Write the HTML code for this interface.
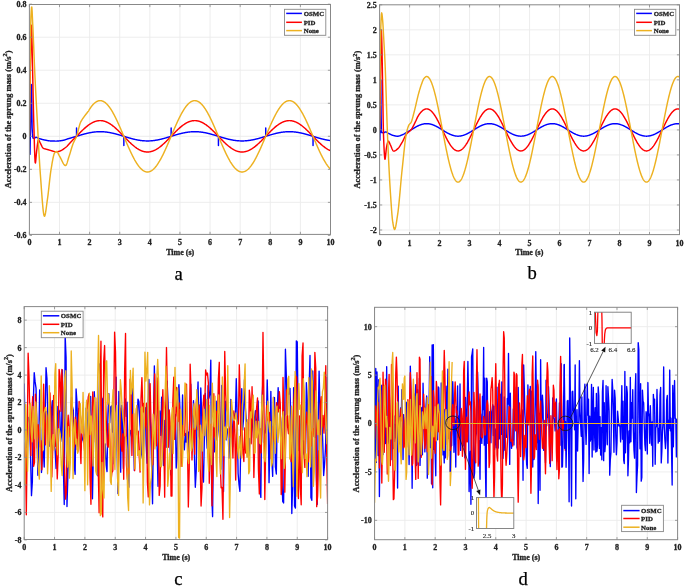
<!DOCTYPE html>
<html><head><meta charset="utf-8"><title>Acceleration of the sprung mass</title>
<style>
html,body{margin:0;padding:0;background:#fff;}
svg{display:block;filter:blur(0.3px);}
.tk{font-family:"Liberation Serif",serif;font-weight:bold;font-size:8px;fill:#222222;stroke:#222;stroke-width:0.3px;}
.yl{font-family:"Liberation Serif",serif;font-weight:bold;font-size:8.4px;fill:#222222;stroke:#222;stroke-width:0.3px;}
.lg{font-family:"Liberation Serif",serif;font-weight:bold;fill:#222222;stroke:#222;stroke-width:0.28px;}
.lt{font-family:"Liberation Serif",serif;font-size:18.6px;fill:#000;stroke:#000;stroke-width:0.25px;}
.it{font-family:"Liberation Serif",serif;font-size:6.9px;fill:#222;stroke:#222;stroke-width:0.12px;}
</style></head><body>
<svg width="685" height="587" viewBox="0 0 685 587">
<rect width="685" height="587" fill="#fff"/>
<defs>
<clipPath id="ca"><rect x="29.4" y="4.5" width="301.1" height="229.9"/></clipPath>
<clipPath id="cb"><rect x="379.6" y="4.8" width="299.9" height="229.8"/></clipPath>
<clipPath id="cc"><rect x="24.2" y="306.6" width="303.4" height="232.9"/></clipPath>
<clipPath id="cd"><rect x="374.55" y="307.3" width="303.05" height="232.4"/></clipPath>
</defs>
<path d="M59.51,4.5V234.4M89.62,4.5V234.4M119.73,4.5V234.4M149.84,4.5V234.4M179.95,4.5V234.4M210.06,4.5V234.4M240.17,4.5V234.4M270.28,4.5V234.4M300.39,4.5V234.4M29.4,37.23H330.5M29.4,70.26H330.5M29.4,103.29H330.5M29.4,136.31H330.5M29.4,169.34H330.5M29.4,202.37H330.5" stroke="#ebebeb" stroke-width="0.9" fill="none"/>
<path d="M29.4,136.31L29.7,153.38L30,154.26L30.3,136.31L30.6,118.11L30.91,98.54L31.21,84.59L31.51,84.92L31.81,108.69L32.11,128.06L32.41,133.16L32.71,136.61L33.01,137.97L33.31,138.11L33.62,138.22L33.92,138.28L34.22,138.3L34.52,138.22L34.82,138.04L35.12,137.8L35.42,137.56L35.72,137.38L36.02,137.31L36.33,137.34L36.63,137.42L36.93,137.55L37.23,137.7L37.53,137.86L37.83,138.03L38.13,138.18L38.43,138.3L38.73,138.4L39.04,138.5L39.34,138.59L39.64,138.69L39.94,138.78L40.24,138.87L40.54,138.96L40.84,139.05L41.14,139.14L41.44,139.22L41.75,139.3L42.05,139.38L42.35,139.46L42.65,139.54L42.95,139.61L43.25,139.68L43.55,139.75L43.85,139.82L44.15,139.88L44.45,139.95L44.76,140.01L45.06,140.07L45.36,140.14L45.66,140.2L45.96,140.26L46.26,140.32L46.56,140.39L46.86,140.45L47.16,140.5L47.47,140.56L47.77,140.61L48.07,140.66L48.37,140.71L48.67,140.76L48.97,140.8L49.27,140.84L49.57,140.87L49.87,140.9L50.18,140.92L50.48,140.94L50.78,140.95L51.08,140.97L51.38,140.98L51.68,141L51.98,141.01L52.28,141.02L52.58,141.03L52.89,141.04L53.19,141.06L53.49,141.06L53.79,141.07L54.09,141.08L54.39,141.09L54.69,141.09L54.99,141.1L55.29,141.1L55.6,141.1L55.9,141.1L56.2,141.1L56.5,141.1L56.8,141.09L57.1,141.07L57.4,141.06L57.7,141.04L58,141.01L58.31,140.99L58.61,140.96L58.91,140.93L59.21,140.9L59.51,140.86L59.81,140.83L60.11,140.79L60.41,140.75L60.71,140.71L61.02,140.67L61.32,140.62L61.62,140.58L61.92,140.53L62.22,140.49L62.52,140.44L62.82,140.39L63.12,140.33L63.42,140.27L63.73,140.19L64.03,140.11L64.33,140.03L64.63,139.94L64.93,139.84L65.23,139.74L65.53,139.64L65.83,139.54L66.13,139.43L66.44,139.33L66.74,139.22L67.04,139.12L67.34,139.01L67.64,138.91L67.94,138.81L68.24,138.72L68.54,138.63L68.84,138.54L69.15,138.45L69.45,138.36L69.75,138.27L70.05,138.19L70.35,138.1L70.65,138.01L70.95,137.93L71.25,137.84L71.55,137.75L71.86,137.67L72.16,137.58L72.46,137.49L72.76,137.41L73.06,137.32L73.36,137.24L73.66,137.15L73.96,137.06L74.26,136.98L74.56,136.89L74.87,136.8L75.17,136.71L75.47,136.63L75.77,136.54L76.07,136.45L76.37,136.36L76.52,136.31L76.55,128.06L76.58,136.31L76.67,136.27L76.97,136.18L77.27,136.09L77.58,135.99L77.88,135.9L78.18,135.81L78.48,135.72L78.78,135.62L79.08,135.53L79.38,135.44L79.68,135.35L79.98,135.25L80.29,135.16L80.59,135.08L80.89,134.99L81.19,134.9L81.49,134.81L81.79,134.73L82.09,134.64L82.39,134.55L82.69,134.47L83,134.38L83.3,134.3L83.6,134.22L83.9,134.14L84.2,134.06L84.5,133.98L84.8,133.9L85.1,133.82L85.4,133.74L85.71,133.67L86.01,133.59L86.31,133.51L86.61,133.44L86.91,133.37L87.21,133.3L87.51,133.23L87.81,133.16L88.11,133.1L88.42,133.03L88.72,132.97L89.02,132.9L89.32,132.84L89.62,132.78L89.92,132.72L90.22,132.66L90.52,132.61L90.82,132.55L91.13,132.5L91.43,132.45L91.73,132.4L92.03,132.35L92.33,132.3L92.63,132.26L92.93,132.21L93.23,132.17L93.53,132.13L93.84,132.09L94.14,132.06L94.44,132.02L94.74,131.99L95.04,131.96L95.34,131.93L95.64,131.9L95.94,131.87L96.24,131.85L96.55,131.82L96.85,131.8L97.15,131.78L97.45,131.77L97.75,131.75L98.05,131.74L98.35,131.72L98.65,131.71L98.95,131.71L99.26,131.7L99.56,131.69L99.86,131.69L100.16,131.69L100.46,131.69L100.76,131.69L101.06,131.7L101.36,131.7L101.66,131.71L101.97,131.72L102.27,131.74L102.57,131.75L102.87,131.76L103.17,131.78L103.47,131.8L103.77,131.82L104.07,131.84L104.37,131.87L104.68,131.9L104.98,131.92L105.28,131.95L105.58,131.99L105.88,132.02L106.18,132.05L106.48,132.09L106.78,132.13L107.08,132.17L107.38,132.21L107.69,132.25L107.99,132.3L108.29,132.35L108.59,132.39L108.89,132.44L109.19,132.5L109.49,132.55L109.79,132.6L110.09,132.66L110.4,132.72L110.7,132.78L111,132.84L111.3,132.9L111.6,132.96L111.9,133.02L112.2,133.09L112.5,133.16L112.8,133.23L113.11,133.29L113.41,133.37L113.71,133.44L114.01,133.51L114.31,133.58L114.61,133.66L114.91,133.74L115.21,133.81L115.51,133.89L115.82,133.97L116.12,134.05L116.42,134.13L116.72,134.21L117.02,134.3L117.32,134.38L117.62,134.46L117.92,134.55L118.22,134.64L118.53,134.72L118.83,134.81L119.13,134.9L119.43,134.98L119.73,135.07L120.03,135.16L120.33,135.25L120.63,135.34L120.93,135.43L121.24,135.52L121.54,135.62L121.84,135.71L122.14,135.8L122.44,135.89L122.74,135.98L123.04,136.08L123.34,136.17L123.64,136.26L123.82,136.31L123.85,145.56L123.88,136.31L123.95,136.35L124.25,136.45L124.55,136.54L124.85,136.63L125.15,136.72L125.45,136.81L125.75,136.91L126.05,137L126.35,137.09L126.66,137.18L126.96,137.27L127.26,137.36L127.56,137.45L127.86,137.54L128.16,137.63L128.46,137.72L128.76,137.81L129.06,137.89L129.37,137.98L129.67,138.07L129.97,138.15L130.27,138.24L130.57,138.32L130.87,138.4L131.17,138.48L131.47,138.57L131.77,138.65L132.08,138.72L132.38,138.8L132.68,138.88L132.98,138.96L133.28,139.03L133.58,139.11L133.88,139.18L134.18,139.25L134.48,139.32L134.78,139.39L135.09,139.46L135.39,139.53L135.69,139.59L135.99,139.66L136.29,139.72L136.59,139.78L136.89,139.84L137.19,139.9L137.49,139.96L137.8,140.02L138.1,140.07L138.4,140.12L138.7,140.18L139,140.23L139.3,140.27L139.6,140.32L139.9,140.37L140.2,140.41L140.51,140.45L140.81,140.49L141.11,140.53L141.41,140.57L141.71,140.6L142.01,140.64L142.31,140.67L142.61,140.7L142.91,140.73L143.22,140.76L143.52,140.78L143.82,140.8L144.12,140.82L144.42,140.84L144.72,140.86L145.02,140.88L145.32,140.89L145.62,140.9L145.93,140.91L146.23,140.92L146.53,140.93L146.83,140.93L147.13,140.94L147.43,140.94L147.73,140.94L148.03,140.94L148.33,140.93L148.64,140.92L148.94,140.92L149.24,140.91L149.54,140.89L149.84,140.88L150.14,140.87L150.44,140.85L150.74,140.83L151.04,140.81L151.35,140.79L151.65,140.76L151.95,140.74L152.25,140.71L152.55,140.68L152.85,140.65L153.15,140.61L153.45,140.58L153.75,140.54L154.06,140.5L154.36,140.46L154.66,140.42L154.96,140.38L155.26,140.33L155.56,140.29L155.86,140.24L156.16,140.19L156.46,140.14L156.77,140.08L157.07,140.03L157.37,139.97L157.67,139.92L157.97,139.86L158.27,139.8L158.57,139.74L158.87,139.67L159.17,139.61L159.48,139.54L159.78,139.48L160.08,139.41L160.38,139.34L160.68,139.27L160.98,139.2L161.28,139.12L161.58,139.05L161.88,138.98L162.19,138.9L162.49,138.82L162.79,138.74L163.09,138.66L163.39,138.58L163.69,138.5L163.99,138.42L164.29,138.34L164.59,138.26L164.9,138.17L165.2,138.09L165.5,138L165.8,137.91L166.1,137.83L166.4,137.74L166.7,137.65L167,137.56L167.3,137.47L167.6,137.38L167.91,137.29L168.21,137.2L168.51,137.11L168.81,137.02L169.11,136.93L169.41,136.84L169.71,136.74L170.01,136.65L170.31,136.56L170.62,136.47L170.92,136.38L171.12,136.31L171.15,128.06L171.18,136.31L171.22,136.28L171.52,136.19L171.82,136.1L172.12,136.01L172.42,135.91L172.72,135.82L173.02,135.73L173.33,135.64L173.63,135.55L173.93,135.46L174.23,135.36L174.53,135.27L174.83,135.18L175.13,135.1L175.43,135.01L175.73,134.92L176.04,134.83L176.34,134.74L176.64,134.66L176.94,134.57L177.24,134.48L177.54,134.4L177.84,134.32L178.14,134.23L178.44,134.15L178.75,134.07L179.05,133.99L179.35,133.91L179.65,133.83L179.95,133.75L180.25,133.68L180.55,133.6L180.85,133.53L181.15,133.45L181.46,133.38L181.76,133.31L182.06,133.24L182.36,133.17L182.66,133.11L182.96,133.04L183.26,132.98L183.56,132.91L183.86,132.85L184.17,132.79L184.47,132.73L184.77,132.67L185.07,132.62L185.37,132.56L185.67,132.51L185.97,132.46L186.27,132.41L186.57,132.36L186.88,132.31L187.18,132.27L187.48,132.22L187.78,132.18L188.08,132.14L188.38,132.1L188.68,132.06L188.98,132.03L189.28,131.99L189.59,131.96L189.89,131.93L190.19,131.9L190.49,131.88L190.79,131.85L191.09,131.83L191.39,131.81L191.69,131.79L191.99,131.77L192.3,131.75L192.6,131.74L192.9,131.73L193.2,131.72L193.5,131.71L193.8,131.7L194.1,131.69L194.4,131.69L194.7,131.69L195.01,131.69L195.31,131.69L195.61,131.7L195.91,131.7L196.21,131.71L196.51,131.72L196.81,131.73L197.11,131.75L197.41,131.76L197.71,131.78L198.02,131.8L198.32,131.82L198.62,131.84L198.92,131.87L199.22,131.89L199.52,131.92L199.82,131.95L200.12,131.98L200.42,132.01L200.73,132.05L201.03,132.08L201.33,132.12L201.63,132.16L201.93,132.2L202.23,132.25L202.53,132.29L202.83,132.34L203.13,132.39L203.44,132.44L203.74,132.49L204.04,132.54L204.34,132.59L204.64,132.65L204.94,132.71L205.24,132.77L205.54,132.83L205.84,132.89L206.15,132.95L206.45,133.01L206.75,133.08L207.05,133.15L207.35,133.21L207.65,133.28L207.95,133.35L208.25,133.43L208.55,133.5L208.86,133.57L209.16,133.65L209.46,133.72L209.76,133.8L210.06,133.88L210.36,133.96L210.66,134.04L210.96,134.12L211.26,134.2L211.57,134.28L211.87,134.37L212.17,134.45L212.47,134.54L212.77,134.62L213.07,134.71L213.37,134.8L213.67,134.88L213.97,134.97L214.28,135.06L214.58,135.15L214.88,135.24L215.18,135.33L215.48,135.42L215.78,135.51L216.08,135.6L216.38,135.69L216.68,135.78L216.99,135.88L217.29,135.97L217.59,136.06L217.89,136.15L218.19,136.25L218.41,136.31L218.44,145.56L218.47,136.31L218.49,136.34L218.79,136.43L219.09,136.52L219.39,136.62L219.7,136.71L220,136.8L220.3,136.89L220.6,136.98L220.9,137.07L221.2,137.17L221.5,137.26L221.8,137.35L222.1,137.44L222.41,137.53L222.71,137.62L223.01,137.7L223.31,137.79L223.61,137.88L223.91,137.97L224.21,138.05L224.51,138.14L224.81,138.22L225.12,138.31L225.42,138.39L225.72,138.47L226.02,138.55L226.32,138.63L226.62,138.71L226.92,138.79L227.22,138.87L227.52,138.95L227.82,139.02L228.13,139.1L228.43,139.17L228.73,139.24L229.03,139.31L229.33,139.38L229.63,139.45L229.93,139.52L230.23,139.58L230.53,139.65L230.84,139.71L231.14,139.77L231.44,139.83L231.74,139.89L232.04,139.95L232.34,140.01L232.64,140.06L232.94,140.12L233.24,140.17L233.55,140.22L233.85,140.27L234.15,140.31L234.45,140.36L234.75,140.4L235.05,140.45L235.35,140.49L235.65,140.53L235.95,140.56L236.26,140.6L236.56,140.63L236.86,140.66L237.16,140.7L237.46,140.72L237.76,140.75L238.06,140.78L238.36,140.8L238.66,140.82L238.97,140.84L239.27,140.86L239.57,140.88L239.87,140.89L240.17,140.9L240.47,140.91L240.77,140.92L241.07,140.93L241.37,140.93L241.68,140.94L241.98,140.94L242.28,140.94L242.58,140.94L242.88,140.93L243.18,140.93L243.48,140.92L243.78,140.91L244.08,140.9L244.39,140.88L244.69,140.87L244.99,140.85L245.29,140.83L245.59,140.81L245.89,140.79L246.19,140.77L246.49,140.74L246.79,140.71L247.1,140.68L247.4,140.65L247.7,140.62L248,140.58L248.3,140.55L248.6,140.51L248.9,140.47L249.2,140.43L249.5,140.38L249.81,140.34L250.11,140.29L250.41,140.25L250.71,140.2L251.01,140.15L251.31,140.09L251.61,140.04L251.91,139.98L252.21,139.93L252.52,139.87L252.82,139.81L253.12,139.75L253.42,139.68L253.72,139.62L254.02,139.55L254.32,139.49L254.62,139.42L254.92,139.35L255.23,139.28L255.53,139.21L255.83,139.14L256.13,139.06L256.43,138.99L256.73,138.91L257.03,138.83L257.33,138.76L257.63,138.68L257.93,138.6L258.24,138.52L258.54,138.43L258.84,138.35L259.14,138.27L259.44,138.18L259.74,138.1L260.04,138.01L260.34,137.93L260.64,137.84L260.95,137.75L261.25,137.66L261.55,137.58L261.85,137.49L262.15,137.4L262.45,137.31L262.75,137.22L263.05,137.13L263.35,137.03L263.66,136.94L263.96,136.85L264.26,136.76L264.56,136.67L264.86,136.57L265.16,136.48L265.46,136.39L265.71,136.31L265.74,128.06L265.77,136.31L265.76,136.3L266.06,136.21L266.37,136.11L266.67,136.02L266.97,135.93L267.27,135.84L267.57,135.74L267.87,135.65L268.17,135.56L268.47,135.47L268.77,135.38L269.08,135.29L269.38,135.2L269.68,135.11L269.98,135.02L270.28,134.93L270.58,134.84L270.88,134.76L271.18,134.67L271.48,134.58L271.79,134.5L272.09,134.41L272.39,134.33L272.69,134.25L272.99,134.16L273.29,134.08L273.59,134L273.89,133.92L274.19,133.84L274.5,133.77L274.8,133.69L275.1,133.61L275.4,133.54L275.7,133.47L276,133.39L276.3,133.32L276.6,133.25L276.9,133.18L277.21,133.12L277.51,133.05L277.81,132.99L278.11,132.92L278.41,132.86L278.71,132.8L279.01,132.74L279.31,132.68L279.61,132.63L279.92,132.57L280.22,132.52L280.52,132.46L280.82,132.41L281.12,132.37L281.42,132.32L281.72,132.27L282.02,132.23L282.32,132.19L282.63,132.14L282.93,132.11L283.23,132.07L283.53,132.03L283.83,132L284.13,131.97L284.43,131.94L284.73,131.91L285.03,131.88L285.33,131.85L285.64,131.83L285.94,131.81L286.24,131.79L286.54,131.77L286.84,131.75L287.14,131.74L287.44,131.73L287.74,131.72L288.04,131.71L288.35,131.7L288.65,131.7L288.95,131.69L289.25,131.69L289.55,131.69L289.85,131.69L290.15,131.7L290.45,131.7L290.75,131.71L291.06,131.72L291.36,131.73L291.66,131.74L291.96,131.76L292.26,131.78L292.56,131.79L292.86,131.82L293.16,131.84L293.46,131.86L293.77,131.89L294.07,131.91L294.37,131.94L294.67,131.98L294.97,132.01L295.27,132.04L295.57,132.08L295.87,132.12L296.17,132.16L296.48,132.2L296.78,132.24L297.08,132.29L297.38,132.33L297.68,132.38L297.98,132.43L298.28,132.48L298.58,132.53L298.88,132.59L299.19,132.64L299.49,132.7L299.79,132.76L300.09,132.82L300.39,132.88L300.69,132.94L300.99,133L301.29,133.07L301.59,133.14L301.9,133.2L302.2,133.27L302.5,133.34L302.8,133.41L303.1,133.49L303.4,133.56L303.7,133.64L304,133.71L304.3,133.79L304.61,133.87L304.91,133.95L305.21,134.02L305.51,134.11L305.81,134.19L306.11,134.27L306.41,134.35L306.71,134.44L307.01,134.52L307.32,134.61L307.62,134.69L307.92,134.78L308.22,134.87L308.52,134.96L308.82,135.05L309.12,135.13L309.42,135.22L309.72,135.31L310.03,135.4L310.33,135.5L310.63,135.59L310.93,135.68L311.23,135.77L311.53,135.86L311.83,135.95L312.13,136.05L312.43,136.14L312.74,136.23L313.01,136.31L313.04,145.56L313.07,136.31L313.04,136.32L313.34,136.42L313.64,136.51L313.94,136.6L314.24,136.69L314.54,136.79L314.84,136.88L315.14,136.97L315.44,137.06L315.75,137.15L316.05,137.24L316.35,137.33L316.65,137.42L316.95,137.51L317.25,137.6L317.55,137.69L317.85,137.78L318.15,137.87L318.46,137.95L318.76,138.04L319.06,138.12L319.36,138.21L319.66,138.29L319.96,138.38L320.26,138.46L320.56,138.54L320.86,138.62L321.17,138.7L321.47,138.78L321.77,138.86L322.07,138.93L322.37,139.01L322.67,139.08L322.97,139.16L323.27,139.23L323.57,139.3L323.88,139.37L324.18,139.44L324.48,139.51L324.78,139.57L325.08,139.64L325.38,139.7L325.68,139.76L325.98,139.82L326.28,139.88L326.59,139.94L326.89,140L327.19,140.05L327.49,140.11L327.79,140.16L328.09,140.21L328.39,140.26L328.69,140.31L328.99,140.35L329.3,140.4L329.6,140.44L329.9,140.48L330.2,140.52L330.5,140.56" stroke="#0000ff" stroke-width="1.45" fill="none" stroke-linejoin="round" clip-path="url(#ca)"/>
<path d="M29.4,136.31L29.7,110.7L30,88.18L30.3,70.26L30.6,54.74L30.91,40.24L31.21,29.52L31.51,25.34L31.81,32.03L32.11,46.87L32.41,62L32.71,75.43L33.01,89.73L33.31,103.93L33.62,117.04L33.92,128.06L34.22,138.23L34.52,148.39L34.82,156.93L35.12,162.25L35.42,163.03L35.72,161.03L36.02,157.72L36.33,154.1L36.63,151.18L36.93,148.79L37.23,146.27L37.53,143.88L37.83,141.86L38.13,140.47L38.43,139.95L38.73,140.1L39.04,140.49L39.34,141.05L39.64,141.7L39.94,142.35L40.24,142.92L40.54,143.47L40.84,144.07L41.14,144.71L41.44,145.35L41.75,145.99L42.05,146.59L42.35,147.14L42.65,147.6L42.95,147.97L43.25,148.2L43.55,148.36L43.85,148.5L44.15,148.62L44.45,148.73L44.76,148.83L45.06,148.92L45.36,149L45.66,149.07L45.96,149.14L46.26,149.21L46.56,149.29L46.86,149.36L47.16,149.44L47.47,149.53L47.77,149.62L48.07,149.71L48.37,149.8L48.67,149.89L48.97,149.98L49.27,150.07L49.57,150.16L49.87,150.25L50.18,150.34L50.48,150.42L50.78,150.51L51.08,150.6L51.38,150.68L51.68,150.76L51.98,150.85L52.28,150.93L52.58,151.03L52.89,151.13L53.19,151.23L53.49,151.33L53.79,151.43L54.09,151.52L54.39,151.61L54.69,151.68L54.99,151.75L55.29,151.8L55.6,151.83L55.9,151.84L56.2,151.83L56.5,151.81L56.8,151.78L57.1,151.74L57.4,151.69L57.7,151.63L58,151.56L58.31,151.49L58.61,151.42L58.91,151.34L59.21,151.26L59.51,151.18L59.81,151.09L60.11,150.99L60.41,150.87L60.71,150.74L61.02,150.6L61.32,150.44L61.62,150.28L61.92,150.11L62.22,149.92L62.52,149.73L62.82,149.54L63.12,149.33L63.42,149.12L63.73,148.9L64.03,148.68L64.33,148.46L64.63,148.23L64.93,148L65.23,147.77L65.53,147.54L65.83,147.31L66.13,147.05L66.44,146.78L66.74,146.5L67.04,146.2L67.34,145.9L67.64,145.58L67.94,145.26L68.24,144.93L68.54,144.6L68.84,144.26L69.15,143.92L69.45,143.58L69.75,143.24L70.05,142.9L70.35,142.56L70.65,142.23L70.95,141.9L71.25,141.58L71.55,141.27L71.86,140.96L72.16,140.66L72.46,140.36L72.76,140.06L73.06,139.76L73.36,139.46L73.66,139.16L73.96,138.86L74.26,138.57L74.56,138.27L74.87,137.97L75.17,137.67L75.47,137.37L75.77,137.07L76.07,136.77L76.37,136.47L76.67,136.16L76.97,135.85L77.27,135.54L77.58,135.23L77.88,134.91L78.18,134.6L78.48,134.28L78.78,133.97L79.08,133.66L79.38,133.34L79.68,133.03L79.98,132.73L80.29,132.42L80.59,132.12L80.89,131.82L81.19,131.52L81.49,131.23L81.79,130.93L82.09,130.64L82.39,130.34L82.69,130.05L83,129.77L83.3,129.48L83.6,129.2L83.9,128.93L84.2,128.66L84.5,128.39L84.8,128.12L85.1,127.85L85.4,127.59L85.71,127.33L86.01,127.07L86.31,126.82L86.61,126.57L86.91,126.32L87.21,126.08L87.51,125.85L87.81,125.62L88.11,125.39L88.42,125.17L88.72,124.95L89.02,124.74L89.32,124.53L89.62,124.32L89.92,124.12L90.22,123.93L90.52,123.74L90.82,123.55L91.13,123.37L91.43,123.2L91.73,123.03L92.03,122.86L92.33,122.71L92.63,122.55L92.93,122.4L93.23,122.26L93.53,122.13L93.84,121.99L94.14,121.87L94.44,121.75L94.74,121.64L95.04,121.53L95.34,121.43L95.64,121.33L95.94,121.24L96.24,121.16L96.55,121.08L96.85,121.01L97.15,120.94L97.45,120.88L97.75,120.83L98.05,120.78L98.35,120.74L98.65,120.71L98.95,120.68L99.26,120.65L99.56,120.64L99.86,120.63L100.16,120.63L100.46,120.63L100.76,120.64L101.06,120.65L101.36,120.67L101.66,120.7L101.97,120.74L102.27,120.78L102.57,120.82L102.87,120.88L103.17,120.94L103.47,121L103.77,121.07L104.07,121.15L104.37,121.23L104.68,121.32L104.98,121.42L105.28,121.52L105.58,121.63L105.88,121.74L106.18,121.86L106.48,121.98L106.78,122.11L107.08,122.25L107.38,122.39L107.69,122.54L107.99,122.69L108.29,122.85L108.59,123.02L108.89,123.18L109.19,123.36L109.49,123.54L109.79,123.72L110.09,123.91L110.4,124.11L110.7,124.31L111,124.51L111.3,124.72L111.6,124.93L111.9,125.15L112.2,125.37L112.5,125.6L112.8,125.83L113.11,126.07L113.41,126.31L113.71,126.55L114.01,126.8L114.31,127.05L114.61,127.31L114.91,127.57L115.21,127.83L115.51,128.09L115.82,128.36L116.12,128.63L116.42,128.91L116.72,129.19L117.02,129.47L117.32,129.75L117.62,130.04L117.92,130.33L118.22,130.62L118.53,130.91L118.83,131.21L119.13,131.5L119.43,131.8L119.73,132.11L120.03,132.41L120.33,132.71L120.63,133.02L120.93,133.33L121.24,133.64L121.54,133.95L121.84,134.26L122.14,134.57L122.44,134.88L122.74,135.19L123.04,135.51L123.34,135.82L123.64,136.13L123.95,136.45L124.25,136.76L124.55,137.07L124.85,137.39L125.15,137.7L125.45,138.01L125.75,138.32L126.05,138.63L126.35,138.94L126.66,139.25L126.96,139.56L127.26,139.87L127.56,140.17L127.86,140.47L128.16,140.78L128.46,141.08L128.76,141.37L129.06,141.67L129.37,141.96L129.67,142.26L129.97,142.54L130.27,142.83L130.57,143.12L130.87,143.4L131.17,143.68L131.47,143.95L131.77,144.22L132.08,144.49L132.38,144.76L132.68,145.02L132.98,145.28L133.28,145.54L133.58,145.79L133.88,146.04L134.18,146.28L134.48,146.52L134.78,146.76L135.09,146.99L135.39,147.22L135.69,147.44L135.99,147.66L136.29,147.87L136.59,148.08L136.89,148.29L137.19,148.49L137.49,148.69L137.8,148.88L138.1,149.06L138.4,149.24L138.7,149.42L139,149.59L139.3,149.75L139.6,149.91L139.9,150.06L140.2,150.21L140.51,150.36L140.81,150.49L141.11,150.62L141.41,150.75L141.71,150.87L142.01,150.98L142.31,151.09L142.61,151.19L142.91,151.29L143.22,151.38L143.52,151.47L143.82,151.54L144.12,151.62L144.42,151.68L144.72,151.74L145.02,151.8L145.32,151.84L145.62,151.89L145.93,151.92L146.23,151.95L146.53,151.97L146.83,151.99L147.13,152L147.43,152L147.73,152L148.03,151.99L148.33,151.98L148.64,151.96L148.94,151.93L149.24,151.89L149.54,151.85L149.84,151.81L150.14,151.76L150.44,151.7L150.74,151.63L151.04,151.56L151.35,151.49L151.65,151.4L151.95,151.31L152.25,151.22L152.55,151.12L152.85,151.01L153.15,150.9L153.45,150.78L153.75,150.65L154.06,150.52L154.36,150.39L154.66,150.25L154.96,150.1L155.26,149.95L155.56,149.79L155.86,149.63L156.16,149.46L156.46,149.28L156.77,149.1L157.07,148.92L157.37,148.73L157.67,148.54L157.97,148.34L158.27,148.13L158.57,147.93L158.87,147.71L159.17,147.49L159.48,147.27L159.78,147.04L160.08,146.81L160.38,146.58L160.68,146.34L160.98,146.1L161.28,145.85L161.58,145.6L161.88,145.34L162.19,145.08L162.49,144.82L162.79,144.56L163.09,144.29L163.39,144.02L163.69,143.74L163.99,143.46L164.29,143.18L164.59,142.9L164.9,142.61L165.2,142.33L165.5,142.03L165.8,141.74L166.1,141.45L166.4,141.15L166.7,140.85L167,140.55L167.3,140.24L167.6,139.94L167.91,139.63L168.21,139.33L168.51,139.02L168.81,138.71L169.11,138.4L169.41,138.09L169.71,137.77L170.01,137.46L170.31,137.15L170.62,136.83L170.92,136.52L171.22,136.21L171.52,135.89L171.82,135.58L172.12,135.27L172.42,134.95L172.72,134.64L173.02,134.33L173.33,134.02L173.63,133.71L173.93,133.4L174.23,133.09L174.53,132.79L174.83,132.48L175.13,132.18L175.43,131.88L175.73,131.58L176.04,131.28L176.34,130.98L176.64,130.69L176.94,130.4L177.24,130.11L177.54,129.82L177.84,129.54L178.14,129.25L178.44,128.97L178.75,128.7L179.05,128.43L179.35,128.16L179.65,127.89L179.95,127.63L180.25,127.37L180.55,127.11L180.85,126.86L181.15,126.61L181.46,126.37L181.76,126.13L182.06,125.89L182.36,125.66L182.66,125.43L182.96,125.21L183.26,124.99L183.56,124.77L183.86,124.56L184.17,124.36L184.47,124.15L184.77,123.96L185.07,123.77L185.37,123.58L185.67,123.4L185.97,123.23L186.27,123.06L186.57,122.89L186.88,122.73L187.18,122.58L187.48,122.43L187.78,122.28L188.08,122.15L188.38,122.01L188.68,121.89L188.98,121.77L189.28,121.65L189.59,121.54L189.89,121.44L190.19,121.34L190.49,121.25L190.79,121.17L191.09,121.09L191.39,121.02L191.69,120.95L191.99,120.89L192.3,120.84L192.6,120.79L192.9,120.75L193.2,120.71L193.5,120.68L193.8,120.66L194.1,120.64L194.4,120.63L194.7,120.63L195.01,120.63L195.31,120.64L195.61,120.65L195.91,120.67L196.21,120.7L196.51,120.73L196.81,120.77L197.11,120.82L197.41,120.87L197.71,120.93L198.02,120.99L198.32,121.06L198.62,121.14L198.92,121.22L199.22,121.31L199.52,121.4L199.82,121.5L200.12,121.61L200.42,121.72L200.73,121.84L201.03,121.96L201.33,122.09L201.63,122.23L201.93,122.37L202.23,122.52L202.53,122.67L202.83,122.83L203.13,122.99L203.44,123.16L203.74,123.33L204.04,123.51L204.34,123.69L204.64,123.88L204.94,124.08L205.24,124.27L205.54,124.48L205.84,124.69L206.15,124.9L206.45,125.12L206.75,125.34L207.05,125.57L207.35,125.8L207.65,126.03L207.95,126.27L208.25,126.51L208.55,126.76L208.86,127.01L209.16,127.27L209.46,127.52L209.76,127.79L210.06,128.05L210.36,128.32L210.66,128.59L210.96,128.86L211.26,129.14L211.57,129.42L211.87,129.71L212.17,129.99L212.47,130.28L212.77,130.57L213.07,130.86L213.37,131.16L213.67,131.46L213.97,131.76L214.28,132.06L214.58,132.36L214.88,132.66L215.18,132.97L215.48,133.28L215.78,133.59L216.08,133.9L216.38,134.21L216.68,134.52L216.99,134.83L217.29,135.14L217.59,135.46L217.89,135.77L218.19,136.08L218.49,136.4L218.79,136.71L219.09,137.02L219.39,137.34L219.7,137.65L220,137.96L220.3,138.27L220.6,138.58L220.9,138.89L221.2,139.2L221.5,139.51L221.8,139.82L222.1,140.12L222.41,140.43L222.71,140.73L223.01,141.03L223.31,141.33L223.61,141.62L223.91,141.92L224.21,142.21L224.51,142.5L224.81,142.79L225.12,143.07L225.42,143.35L225.72,143.63L226.02,143.91L226.32,144.18L226.62,144.45L226.92,144.72L227.22,144.98L227.52,145.24L227.82,145.5L228.13,145.75L228.43,146L228.73,146.24L229.03,146.48L229.33,146.72L229.63,146.95L229.93,147.18L230.23,147.41L230.53,147.63L230.84,147.84L231.14,148.05L231.44,148.26L231.74,148.46L232.04,148.65L232.34,148.85L232.64,149.03L232.94,149.21L233.24,149.39L233.55,149.56L233.85,149.73L234.15,149.89L234.45,150.04L234.75,150.19L235.05,150.33L235.35,150.47L235.65,150.6L235.95,150.73L236.26,150.85L236.56,150.97L236.86,151.08L237.16,151.18L237.46,151.28L237.76,151.37L238.06,151.45L238.36,151.53L238.66,151.61L238.97,151.67L239.27,151.73L239.57,151.79L239.87,151.84L240.17,151.88L240.47,151.92L240.77,151.95L241.07,151.97L241.37,151.99L241.68,152L241.98,152L242.28,152L242.58,151.99L242.88,151.98L243.18,151.96L243.48,151.93L243.78,151.9L244.08,151.86L244.39,151.82L244.69,151.76L244.99,151.71L245.29,151.64L245.59,151.57L245.89,151.5L246.19,151.42L246.49,151.33L246.79,151.23L247.1,151.13L247.4,151.03L247.7,150.92L248,150.8L248.3,150.67L248.6,150.55L248.9,150.41L249.2,150.27L249.5,150.12L249.81,149.97L250.11,149.82L250.41,149.65L250.71,149.48L251.01,149.31L251.31,149.13L251.61,148.95L251.91,148.76L252.21,148.57L252.52,148.37L252.82,148.17L253.12,147.96L253.42,147.75L253.72,147.53L254.02,147.31L254.32,147.08L254.62,146.85L254.92,146.62L255.23,146.38L255.53,146.13L255.83,145.89L256.13,145.64L256.43,145.38L256.73,145.13L257.03,144.86L257.33,144.6L257.63,144.33L257.93,144.06L258.24,143.79L258.54,143.51L258.84,143.23L259.14,142.95L259.44,142.66L259.74,142.37L260.04,142.08L260.34,141.79L260.64,141.49L260.95,141.2L261.25,140.9L261.55,140.6L261.85,140.29L262.15,139.99L262.45,139.68L262.75,139.38L263.05,139.07L263.35,138.76L263.66,138.45L263.96,138.14L264.26,137.82L264.56,137.51L264.86,137.2L265.16,136.88L265.46,136.57L265.76,136.26L266.06,135.94L266.37,135.63L266.67,135.32L266.97,135L267.27,134.69L267.57,134.38L267.87,134.07L268.17,133.76L268.47,133.45L268.77,133.14L269.08,132.84L269.38,132.53L269.68,132.23L269.98,131.92L270.28,131.62L270.58,131.33L270.88,131.03L271.18,130.73L271.48,130.44L271.79,130.15L272.09,129.87L272.39,129.58L272.69,129.3L272.99,129.02L273.29,128.74L273.59,128.47L273.89,128.2L274.19,127.93L274.5,127.67L274.8,127.41L275.1,127.15L275.4,126.9L275.7,126.65L276,126.41L276.3,126.16L276.6,125.93L276.9,125.69L277.21,125.46L277.51,125.24L277.81,125.02L278.11,124.8L278.41,124.59L278.71,124.39L279.01,124.19L279.31,123.99L279.61,123.8L279.92,123.61L280.22,123.43L280.52,123.25L280.82,123.08L281.12,122.92L281.42,122.76L281.72,122.6L282.02,122.45L282.32,122.31L282.63,122.17L282.93,122.04L283.23,121.91L283.53,121.79L283.83,121.67L284.13,121.56L284.43,121.46L284.73,121.36L285.03,121.27L285.33,121.18L285.64,121.1L285.94,121.03L286.24,120.96L286.54,120.9L286.84,120.84L287.14,120.8L287.44,120.75L287.74,120.72L288.04,120.69L288.35,120.66L288.65,120.64L288.95,120.63L289.25,120.63L289.55,120.63L289.85,120.63L290.15,120.65L290.45,120.67L290.75,120.69L291.06,120.73L291.36,120.76L291.66,120.81L291.96,120.86L292.26,120.92L292.56,120.98L292.86,121.05L293.16,121.12L293.46,121.21L293.77,121.29L294.07,121.39L294.37,121.49L294.67,121.59L294.97,121.7L295.27,121.82L295.57,121.94L295.87,122.07L296.17,122.21L296.48,122.35L296.78,122.49L297.08,122.64L297.38,122.8L297.68,122.96L297.98,123.13L298.28,123.3L298.58,123.48L298.88,123.66L299.19,123.85L299.49,124.04L299.79,124.24L300.09,124.45L300.39,124.65L300.69,124.87L300.99,125.08L301.29,125.3L301.59,125.53L301.9,125.76L302.2,125.99L302.5,126.23L302.8,126.47L303.1,126.72L303.4,126.97L303.7,127.22L304,127.48L304.3,127.74L304.61,128.01L304.91,128.28L305.21,128.55L305.51,128.82L305.81,129.1L306.11,129.38L306.41,129.66L306.71,129.95L307.01,130.23L307.32,130.52L307.62,130.82L307.92,131.11L308.22,131.41L308.52,131.71L308.82,132.01L309.12,132.31L309.42,132.62L309.72,132.92L310.03,133.23L310.33,133.54L310.63,133.85L310.93,134.16L311.23,134.47L311.53,134.78L311.83,135.09L312.13,135.41L312.43,135.72L312.74,136.03L313.04,136.35L313.34,136.66L313.64,136.97L313.94,137.29L314.24,137.6L314.54,137.91L314.84,138.22L315.14,138.54L315.44,138.85L315.75,139.15L316.05,139.46L316.35,139.77L316.65,140.07L316.95,140.38L317.25,140.68L317.55,140.98L317.85,141.28L318.15,141.58L318.46,141.87L318.76,142.16L319.06,142.45L319.36,142.74L319.66,143.03L319.96,143.31L320.26,143.59L320.56,143.86L320.86,144.14L321.17,144.41L321.47,144.67L321.77,144.94L322.07,145.2L322.37,145.46L322.67,145.71L322.97,145.96L323.27,146.2L323.57,146.45L323.88,146.68L324.18,146.92L324.48,147.15L324.78,147.37L325.08,147.59L325.38,147.81L325.68,148.02L325.98,148.22L326.28,148.43L326.59,148.62L326.89,148.82L327.19,149L327.49,149.18L327.79,149.36L328.09,149.53L328.39,149.7L328.69,149.86L328.99,150.02L329.3,150.17L329.6,150.31L329.9,150.45L330.2,150.58L330.5,150.71" stroke="#ff0000" stroke-width="1.45" fill="none" stroke-linejoin="round" clip-path="url(#ca)"/>
<path d="M29.4,136.31L29.7,105.38L30,78.51L30.3,53.45L30.6,30.92L30.91,17.41L31.21,11.22L31.51,7.26L31.81,6.94L32.11,10.99L32.41,17.45L32.71,24.02L33.01,30.28L33.31,37.21L33.62,44.57L33.92,52.11L34.22,59.62L34.52,66.85L34.82,73.56L35.12,79.82L35.42,85.89L35.72,91.78L36.02,97.53L36.33,103.17L36.63,108.74L36.93,114.28L37.23,119.8L37.53,125.4L37.83,131.1L38.13,136.84L38.43,142.55L38.73,148.17L39.04,153.63L39.34,158.87L39.64,163.83L39.94,168.44L40.24,172.65L40.54,176.71L40.84,180.9L41.14,185.16L41.44,189.4L41.75,193.57L42.05,197.59L42.35,201.4L42.65,204.93L42.95,208.1L43.25,210.85L43.55,213.1L43.85,214.8L44.15,215.87L44.45,216.24L44.76,215.94L45.06,215.1L45.36,213.8L45.66,212.13L45.96,210.18L46.26,208.02L46.56,205.74L46.86,203.44L47.16,201.18L47.47,199.07L47.77,196.92L48.07,194.56L48.37,192.01L48.67,189.35L48.97,186.6L49.27,183.83L49.57,181.08L49.87,178.4L50.18,175.84L50.48,173.44L50.78,171.26L51.08,169.34L51.38,167.56L51.68,165.76L51.98,163.97L52.28,162.23L52.58,160.55L52.89,158.96L53.19,157.49L53.49,156.16L53.79,155.01L54.09,154.05L54.39,153.31L54.69,152.83L54.99,152.49L55.29,152.17L55.6,151.9L55.9,151.69L56.2,151.56L56.5,151.51L56.8,151.59L57.1,151.84L57.4,152.21L57.7,152.69L58,153.24L58.31,153.83L58.61,154.45L58.91,155.05L59.21,155.62L59.51,156.13L59.81,156.62L60.11,157.15L60.41,157.71L60.71,158.3L61.02,158.91L61.32,159.53L61.62,160.16L61.92,160.79L62.22,161.4L62.52,162L62.82,162.58L63.12,163.13L63.42,163.63L63.73,164.1L64.03,164.51L64.33,164.86L64.63,165.15L64.93,165.36L65.23,165.5L65.53,165.54L65.83,165.43L66.13,165.09L66.44,164.56L66.74,163.87L67.04,163.05L67.34,162.13L67.64,161.13L67.94,160.1L68.24,159.05L68.54,158.02L68.84,157.04L69.15,156.13L69.45,155.25L69.75,154.31L70.05,153.34L70.35,152.34L70.65,151.32L70.95,150.3L71.25,149.28L71.55,148.27L71.86,147.28L72.16,146.32L72.46,145.41L72.76,144.55L73.06,143.75L73.36,143.01L73.66,142.33L73.96,141.69L74.26,141.09L74.56,140.5L74.87,139.92L75.17,139.34L75.47,138.73L75.77,138.1L76.07,137.43L76.37,136.7L76.67,135.9L76.97,134.99L77.27,133.98L77.58,132.89L77.88,131.74L78.18,130.55L78.48,129.35L78.78,128.15L79.08,126.98L79.38,125.86L79.68,124.81L79.98,123.85L80.29,123L80.59,122.28L80.89,121.65L81.19,121.07L81.49,120.53L81.79,120.02L82.09,119.54L82.39,119.09L82.69,118.65L83,118.23L83.3,117.81L83.6,117.41L83.9,117L84.2,116.59L84.5,116.17L84.8,115.75L85.1,115.34L85.4,114.95L85.71,114.57L86.01,114.19L86.31,113.81L86.61,113.44L86.91,113.06L87.21,112.68L87.51,112.29L87.81,111.89L88.11,111.48L88.42,111.05L88.72,110.61L89.02,110.14L89.32,109.67L89.62,109.19L89.92,108.71L90.22,108.24L90.52,107.77L90.82,107.32L91.13,106.89L91.43,106.49L91.73,106.11L92.03,105.73L92.33,105.37L92.63,105.02L92.93,104.69L93.23,104.36L93.53,104.05L93.84,103.76L94.14,103.47L94.44,103.2L94.74,102.94L95.04,102.69L95.34,102.46L95.64,102.25L95.94,102.04L96.24,101.85L96.55,101.67L96.85,101.51L97.15,101.36L97.45,101.22L97.75,101.1L98.05,101L98.35,100.9L98.65,100.82L98.95,100.76L99.26,100.71L99.56,100.67L99.86,100.65L100.16,100.64L100.46,100.65L100.76,100.67L101.06,100.71L101.36,100.76L101.66,100.82L101.97,100.9L102.27,100.99L102.57,101.09L102.87,101.21L103.17,101.35L103.47,101.5L103.77,101.66L104.07,101.84L104.37,102.02L104.68,102.23L104.98,102.45L105.28,102.68L105.58,102.92L105.88,103.18L106.18,103.45L106.48,103.73L106.78,104.03L107.08,104.34L107.38,104.66L107.69,105L107.99,105.34L108.29,105.7L108.59,106.08L108.89,106.46L109.19,106.86L109.49,107.27L109.79,107.69L110.09,108.12L110.4,108.56L110.7,109.01L111,109.48L111.3,109.95L111.6,110.44L111.9,110.94L112.2,111.44L112.5,111.96L112.8,112.48L113.11,113.02L113.41,113.56L113.71,114.12L114.01,114.68L114.31,115.25L114.61,115.83L114.91,116.42L115.21,117.02L115.51,117.62L115.82,118.23L116.12,118.85L116.42,119.48L116.72,120.11L117.02,120.75L117.32,121.39L117.62,122.04L117.92,122.7L118.22,123.36L118.53,124.03L118.83,124.7L119.13,125.38L119.43,126.06L119.73,126.75L120.03,127.43L120.33,128.13L120.63,128.82L120.93,129.52L121.24,130.22L121.54,130.93L121.84,131.63L122.14,132.34L122.44,133.05L122.74,133.76L123.04,134.47L123.34,135.19L123.64,135.9L123.95,136.61L124.25,137.33L124.55,138.04L124.85,138.75L125.15,139.46L125.45,140.17L125.75,140.88L126.05,141.59L126.35,142.29L126.66,143L126.96,143.69L127.26,144.39L127.56,145.08L127.86,145.77L128.16,146.46L128.46,147.14L128.76,147.82L129.06,148.49L129.37,149.16L129.67,149.82L129.97,150.48L130.27,151.13L130.57,151.78L130.87,152.42L131.17,153.05L131.47,153.68L131.77,154.3L132.08,154.91L132.38,155.52L132.68,156.11L132.98,156.7L133.28,157.28L133.58,157.86L133.88,158.42L134.18,158.98L134.48,159.52L134.78,160.06L135.09,160.59L135.39,161.11L135.69,161.61L135.99,162.11L136.29,162.6L136.59,163.08L136.89,163.54L137.19,164L137.49,164.44L137.8,164.87L138.1,165.3L138.4,165.71L138.7,166.1L139,166.49L139.3,166.87L139.6,167.23L139.9,167.58L140.2,167.91L140.51,168.24L140.81,168.55L141.11,168.85L141.41,169.14L141.71,169.41L142.01,169.67L142.31,169.91L142.61,170.15L142.91,170.37L143.22,170.57L143.52,170.76L143.82,170.94L144.12,171.11L144.42,171.26L144.72,171.39L145.02,171.52L145.32,171.62L145.62,171.72L145.93,171.8L146.23,171.86L146.53,171.92L146.83,171.95L147.13,171.98L147.43,171.99L147.73,171.98L148.03,171.96L148.33,171.93L148.64,171.88L148.94,171.82L149.24,171.74L149.54,171.65L149.84,171.54L150.14,171.42L150.44,171.29L150.74,171.14L151.04,170.98L151.35,170.81L151.65,170.62L151.95,170.42L152.25,170.2L152.55,169.97L152.85,169.73L153.15,169.47L153.45,169.2L153.75,168.92L154.06,168.62L154.36,168.31L154.66,167.99L154.96,167.66L155.26,167.31L155.56,166.95L155.86,166.58L156.16,166.2L156.46,165.8L156.77,165.4L157.07,164.98L157.37,164.55L157.67,164.1L157.97,163.65L158.27,163.19L158.57,162.71L158.87,162.23L159.17,161.73L159.48,161.23L159.78,160.71L160.08,160.19L160.38,159.65L160.68,159.11L160.98,158.55L161.28,157.99L161.58,157.42L161.88,156.84L162.19,156.25L162.49,155.66L162.79,155.06L163.09,154.45L163.39,153.83L163.69,153.2L163.99,152.57L164.29,151.93L164.59,151.29L164.9,150.64L165.2,149.98L165.5,149.32L165.8,148.65L166.1,147.98L166.4,147.3L166.7,146.62L167,145.94L167.3,145.25L167.6,144.56L167.91,143.86L168.21,143.16L168.51,142.46L168.81,141.76L169.11,141.05L169.41,140.34L169.71,139.63L170.01,138.92L170.31,138.21L170.62,137.5L170.92,136.78L171.22,136.07L171.52,135.36L171.82,134.64L172.12,133.93L172.42,133.22L172.72,132.51L173.02,131.8L173.33,131.1L173.63,130.39L173.93,129.69L174.23,128.99L174.53,128.29L174.83,127.6L175.13,126.91L175.43,126.22L175.73,125.54L176.04,124.86L176.34,124.19L176.64,123.52L176.94,122.86L177.24,122.2L177.54,121.55L177.84,120.9L178.14,120.26L178.44,119.63L178.75,119L179.05,118.38L179.35,117.77L179.65,117.16L179.95,116.56L180.25,115.97L180.55,115.39L180.85,114.82L181.15,114.25L181.46,113.7L181.76,113.15L182.06,112.61L182.36,112.08L182.66,111.56L182.96,111.06L183.26,110.56L183.56,110.07L183.86,109.59L184.17,109.12L184.47,108.67L184.77,108.22L185.07,107.79L185.37,107.37L185.67,106.95L185.97,106.56L186.27,106.17L186.57,105.79L186.88,105.43L187.18,105.08L187.48,104.74L187.78,104.41L188.08,104.1L188.38,103.8L188.68,103.51L188.98,103.24L189.28,102.98L189.59,102.73L189.89,102.5L190.19,102.28L190.49,102.07L190.79,101.88L191.09,101.7L191.39,101.53L191.69,101.38L191.99,101.25L192.3,101.12L192.6,101.01L192.9,100.92L193.2,100.84L193.5,100.77L193.8,100.72L194.1,100.68L194.4,100.65L194.7,100.64L195.01,100.65L195.31,100.67L195.61,100.7L195.91,100.75L196.21,100.81L196.51,100.88L196.81,100.97L197.11,101.08L197.41,101.19L197.71,101.33L198.02,101.47L198.32,101.63L198.62,101.81L198.92,101.99L199.22,102.19L199.52,102.41L199.82,102.64L200.12,102.88L200.42,103.14L200.73,103.4L201.03,103.69L201.33,103.98L201.63,104.29L201.93,104.61L202.23,104.94L202.53,105.29L202.83,105.65L203.13,106.02L203.44,106.4L203.74,106.79L204.04,107.2L204.34,107.62L204.64,108.05L204.94,108.49L205.24,108.94L205.54,109.4L205.84,109.88L206.15,110.36L206.45,110.86L206.75,111.36L207.05,111.88L207.35,112.4L207.65,112.93L207.95,113.48L208.25,114.03L208.55,114.59L208.86,115.16L209.16,115.74L209.46,116.33L209.76,116.92L210.06,117.52L210.36,118.13L210.66,118.75L210.96,119.38L211.26,120.01L211.57,120.65L211.87,121.29L212.17,121.94L212.47,122.6L212.77,123.26L213.07,123.92L213.37,124.59L213.67,125.27L213.97,125.95L214.28,126.64L214.58,127.32L214.88,128.02L215.18,128.71L215.48,129.41L215.78,130.11L216.08,130.82L216.38,131.52L216.68,132.23L216.99,132.94L217.29,133.65L217.59,134.36L217.89,135.07L218.19,135.79L218.49,136.5L218.79,137.21L219.09,137.93L219.39,138.64L219.7,139.35L220,140.06L220.3,140.77L220.6,141.48L220.9,142.18L221.2,142.88L221.5,143.58L221.8,144.28L222.1,144.97L222.41,145.66L222.71,146.35L223.01,147.03L223.31,147.71L223.61,148.39L223.91,149.05L224.21,149.72L224.51,150.38L224.81,151.03L225.12,151.68L225.42,152.32L225.72,152.95L226.02,153.58L226.32,154.2L226.62,154.81L226.92,155.42L227.22,156.02L227.52,156.61L227.82,157.19L228.13,157.77L228.43,158.33L228.73,158.89L229.03,159.44L229.33,159.97L229.63,160.5L229.93,161.02L230.23,161.53L230.53,162.03L230.84,162.52L231.14,163L231.44,163.47L231.74,163.93L232.04,164.37L232.34,164.81L232.64,165.23L232.94,165.64L233.24,166.04L233.55,166.43L233.85,166.81L234.15,167.17L234.45,167.52L234.75,167.86L235.05,168.19L235.35,168.5L235.65,168.8L235.95,169.09L236.26,169.37L236.56,169.63L236.86,169.88L237.16,170.11L237.46,170.33L237.76,170.54L238.06,170.73L238.36,170.91L238.66,171.08L238.97,171.23L239.27,171.37L239.57,171.5L239.87,171.61L240.17,171.7L240.47,171.79L240.77,171.85L241.07,171.91L241.37,171.95L241.68,171.97L241.98,171.98L242.28,171.98L242.58,171.96L242.88,171.93L243.18,171.89L243.48,171.83L243.78,171.75L244.08,171.66L244.39,171.56L244.69,171.44L244.99,171.31L245.29,171.17L245.59,171.01L245.89,170.84L246.19,170.65L246.49,170.45L246.79,170.24L247.1,170.01L247.4,169.77L247.7,169.51L248,169.25L248.3,168.97L248.6,168.67L248.9,168.37L249.2,168.05L249.5,167.71L249.81,167.37L250.11,167.01L250.41,166.64L250.71,166.26L251.01,165.87L251.31,165.46L251.61,165.04L251.91,164.62L252.21,164.18L252.52,163.72L252.82,163.26L253.12,162.79L253.42,162.31L253.72,161.81L254.02,161.31L254.32,160.79L254.62,160.27L254.92,159.74L255.23,159.19L255.53,158.64L255.83,158.08L256.13,157.51L256.43,156.93L256.73,156.35L257.03,155.75L257.33,155.15L257.63,154.54L257.93,153.93L258.24,153.3L258.54,152.67L258.84,152.03L259.14,151.39L259.44,150.74L259.74,150.09L260.04,149.43L260.34,148.76L260.64,148.09L260.95,147.41L261.25,146.73L261.55,146.05L261.85,145.36L262.15,144.67L262.45,143.97L262.75,143.27L263.05,142.57L263.35,141.87L263.66,141.16L263.96,140.46L264.26,139.75L264.56,139.04L264.86,138.32L265.16,137.61L265.46,136.9L265.76,136.18L266.06,135.47L266.37,134.76L266.67,134.05L266.97,133.33L267.27,132.62L267.57,131.92L267.87,131.21L268.17,130.5L268.47,129.8L268.77,129.1L269.08,128.4L269.38,127.71L269.68,127.02L269.98,126.33L270.28,125.65L270.58,124.97L270.88,124.3L271.18,123.63L271.48,122.96L271.79,122.3L272.09,121.65L272.39,121L272.69,120.36L272.99,119.73L273.29,119.1L273.59,118.48L273.89,117.86L274.19,117.26L274.5,116.66L274.8,116.07L275.1,115.48L275.4,114.91L275.7,114.34L276,113.78L276.3,113.24L276.6,112.7L276.9,112.17L277.21,111.65L277.51,111.14L277.81,110.64L278.11,110.15L278.41,109.67L278.71,109.2L279.01,108.74L279.31,108.29L279.61,107.86L279.92,107.43L280.22,107.02L280.52,106.62L280.82,106.23L281.12,105.85L281.42,105.49L281.72,105.13L282.02,104.79L282.32,104.47L282.63,104.15L282.93,103.85L283.23,103.56L283.53,103.28L283.83,103.02L284.13,102.77L284.43,102.54L284.73,102.31L285.03,102.1L285.33,101.91L285.64,101.73L285.94,101.56L286.24,101.41L286.54,101.27L286.84,101.14L287.14,101.03L287.44,100.93L287.74,100.85L288.04,100.78L288.35,100.72L288.65,100.68L288.95,100.66L289.25,100.64L289.55,100.65L289.85,100.66L290.15,100.69L290.45,100.74L290.75,100.8L291.06,100.87L291.36,100.96L291.66,101.06L291.96,101.17L292.26,101.3L292.56,101.45L292.86,101.61L293.16,101.78L293.46,101.96L293.77,102.16L294.07,102.37L294.37,102.6L294.67,102.84L294.97,103.09L295.27,103.36L295.57,103.64L295.87,103.93L296.17,104.24L296.48,104.56L296.78,104.89L297.08,105.23L297.38,105.59L297.68,105.96L297.98,106.34L298.28,106.73L298.58,107.13L298.88,107.55L299.19,107.98L299.49,108.42L299.79,108.87L300.09,109.33L300.39,109.8L300.69,110.28L300.99,110.78L301.29,111.28L301.59,111.79L301.9,112.32L302.2,112.85L302.5,113.39L302.8,113.94L303.1,114.5L303.4,115.07L303.7,115.65L304,116.23L304.3,116.83L304.61,117.43L304.91,118.04L305.21,118.65L305.51,119.28L305.81,119.91L306.11,120.54L306.41,121.19L306.71,121.84L307.01,122.49L307.32,123.15L307.62,123.82L307.92,124.49L308.22,125.16L308.52,125.84L308.82,126.53L309.12,127.21L309.42,127.91L309.72,128.6L310.03,129.3L310.33,130L310.63,130.7L310.93,131.41L311.23,132.12L311.53,132.83L311.83,133.54L312.13,134.25L312.43,134.96L312.74,135.67L313.04,136.39L313.34,137.1L313.64,137.81L313.94,138.53L314.24,139.24L314.54,139.95L314.84,140.66L315.14,141.36L315.44,142.07L315.75,142.77L316.05,143.47L316.35,144.17L316.65,144.86L316.95,145.55L317.25,146.24L317.55,146.93L317.85,147.6L318.15,148.28L318.46,148.95L318.76,149.61L319.06,150.27L319.36,150.93L319.66,151.57L319.96,152.22L320.26,152.85L320.56,153.48L320.86,154.1L321.17,154.72L321.47,155.32L321.77,155.92L322.07,156.52L322.37,157.1L322.67,157.67L322.97,158.24L323.27,158.8L323.57,159.35L323.88,159.89L324.18,160.42L324.48,160.94L324.78,161.45L325.08,161.95L325.38,162.44L325.68,162.92L325.98,163.39L326.28,163.85L326.59,164.3L326.89,164.74L327.19,165.16L327.49,165.58L327.79,165.98L328.09,166.37L328.39,166.75L328.69,167.11L328.99,167.47L329.3,167.81L329.6,168.14L329.9,168.45L330.2,168.76L330.5,169.05" stroke="#edb120" stroke-width="1.45" fill="none" stroke-linejoin="round" clip-path="url(#ca)"/>
<rect x="29.4" y="4.5" width="301.1" height="229.9" fill="none" stroke="#888888" stroke-width="1"/>
<path d="M29.4,234.4v-2.6M29.4,4.5v2.6M59.51,234.4v-2.6M59.51,4.5v2.6M89.62,234.4v-2.6M89.62,4.5v2.6M119.73,234.4v-2.6M119.73,4.5v2.6M149.84,234.4v-2.6M149.84,4.5v2.6M179.95,234.4v-2.6M179.95,4.5v2.6M210.06,234.4v-2.6M210.06,4.5v2.6M240.17,234.4v-2.6M240.17,4.5v2.6M270.28,234.4v-2.6M270.28,4.5v2.6M300.39,234.4v-2.6M300.39,4.5v2.6M330.5,234.4v-2.6M330.5,4.5v2.6M29.4,4.2h2.6M330.5,4.2h-2.6M29.4,37.23h2.6M330.5,37.23h-2.6M29.4,70.26h2.6M330.5,70.26h-2.6M29.4,103.29h2.6M330.5,103.29h-2.6M29.4,136.31h2.6M330.5,136.31h-2.6M29.4,169.34h2.6M330.5,169.34h-2.6M29.4,202.37h2.6M330.5,202.37h-2.6M29.4,235.4h2.6M330.5,235.4h-2.6" stroke="#888888" stroke-width="0.8" fill="none"/>
<text x="29.4" y="245.4" text-anchor="middle" class="tk">0</text>
<text x="59.51" y="245.4" text-anchor="middle" class="tk">1</text>
<text x="89.62" y="245.4" text-anchor="middle" class="tk">2</text>
<text x="119.73" y="245.4" text-anchor="middle" class="tk">3</text>
<text x="149.84" y="245.4" text-anchor="middle" class="tk">4</text>
<text x="179.95" y="245.4" text-anchor="middle" class="tk">5</text>
<text x="210.06" y="245.4" text-anchor="middle" class="tk">6</text>
<text x="240.17" y="245.4" text-anchor="middle" class="tk">7</text>
<text x="270.28" y="245.4" text-anchor="middle" class="tk">8</text>
<text x="300.39" y="245.4" text-anchor="middle" class="tk">9</text>
<text x="330.5" y="245.4" text-anchor="middle" class="tk">10</text>
<text x="26.6" y="7.1" text-anchor="end" class="tk">0.8</text>
<text x="26.6" y="40.13" text-anchor="end" class="tk">0.6</text>
<text x="26.6" y="73.16" text-anchor="end" class="tk">0.4</text>
<text x="26.6" y="106.19" text-anchor="end" class="tk">0.2</text>
<text x="26.6" y="139.21" text-anchor="end" class="tk">0</text>
<text x="26.6" y="172.24" text-anchor="end" class="tk">-0.2</text>
<text x="26.6" y="205.27" text-anchor="end" class="tk">-0.4</text>
<text x="26.6" y="238.3" text-anchor="end" class="tk">-0.6</text>
<rect x="284.5" y="9.3" width="41.3" height="26" fill="#fff" stroke="#888888" stroke-width="0.9"/>
<path d="M286.2,13.4H301.9" stroke="#0000ff" stroke-width="1.5"/>
<text x="303.7" y="15.9" class="lg" font-size="6.85">OSMC</text>
<path d="M286.2,22.3H301.9" stroke="#ff0000" stroke-width="1.5"/>
<text x="303.7" y="24.8" class="lg" font-size="6.85">PID</text>
<path d="M286.2,30.6H301.9" stroke="#edb120" stroke-width="1.5"/>
<text x="303.7" y="33.1" class="lg" font-size="6.85">None</text>
<text x="180.2" y="255.3" text-anchor="middle" class="tk">Time (s)</text>
<text transform="translate(11.3,119.45) rotate(-90)" text-anchor="middle" class="yl">Acceleration of the sprung mass (m/s<tspan dy="-3.9" font-size="6.2">2</tspan><tspan dy="3.9">)</tspan></text>
<text x="178.6" y="279.5" text-anchor="middle" class="lt">a</text>
<path d="M409.59,4.8V234.6M439.58,4.8V234.6M469.57,4.8V234.6M499.56,4.8V234.6M529.55,4.8V234.6M559.54,4.8V234.6M589.53,4.8V234.6M619.52,4.8V234.6M649.51,4.8V234.6M379.6,29.82H679.5M379.6,54.84H679.5M379.6,79.87H679.5M379.6,104.89H679.5M379.6,129.91H679.5M379.6,154.93H679.5M379.6,179.95H679.5M379.6,204.97H679.5M379.6,230H679.5" stroke="#ebebeb" stroke-width="0.9" fill="none"/>
<path d="M379.6,129.91L379.9,140.28L380.2,116.28L380.5,94.88L380.8,80.37L381.1,114.9L381.4,132.41L381.7,132.41L382,132.41L382.3,132.49L382.6,132.66L382.9,132.83L383.2,132.91L383.5,132.87L383.8,132.76L384.1,132.59L384.4,132.41L384.7,132.23L385,132.07L385.3,131.95L385.6,131.91L385.9,131.94L386.2,132.02L386.5,132.15L386.8,132.3L387.1,132.48L387.4,132.68L387.7,132.88L388,133.07L388.3,133.25L388.6,133.41L388.9,133.56L389.2,133.7L389.5,133.86L389.8,134.01L390.1,134.16L390.4,134.31L390.7,134.46L391,134.61L391.3,134.75L391.6,134.88L391.9,135.01L392.2,135.13L392.5,135.23L392.8,135.33L393.1,135.41L393.4,135.49L393.7,135.57L394,135.64L394.3,135.72L394.6,135.79L394.89,135.86L395.19,135.93L395.49,135.99L395.79,136.04L396.09,136.09L396.39,136.13L396.69,136.17L396.99,136.19L397.29,136.21L397.59,136.21L397.89,136.2L398.19,136.18L398.49,136.13L398.79,136.08L399.09,136L399.39,135.92L399.69,135.83L399.99,135.73L400.29,135.62L400.59,135.5L400.89,135.39L401.19,135.27L401.49,135.15L401.79,135.03L402.09,134.91L402.39,134.79L402.69,134.66L402.99,134.52L403.29,134.36L403.59,134.2L403.89,134.03L404.19,133.86L404.49,133.68L404.79,133.49L405.09,133.31L405.39,133.13L405.69,132.94L405.99,132.76L406.29,132.58L406.59,132.41L406.89,132.24L407.19,132.07L407.49,131.9L407.79,131.73L408.09,131.56L408.39,131.39L408.69,131.21L408.99,131.04L409.29,130.87L409.59,130.69L409.89,130.52L410.19,130.35L410.49,130.17L410.79,130L411.09,129.82L411.39,129.64L411.69,129.47L411.99,129.29L412.29,129.11L412.59,128.93L412.89,128.75L413.19,128.57L413.49,128.39L413.79,128.21L414.09,128.03L414.39,127.85L414.69,127.67L414.99,127.5L415.29,127.33L415.59,127.16L415.89,126.99L416.19,126.82L416.49,126.65L416.79,126.48L417.09,126.32L417.39,126.16L417.69,126L417.99,125.86L418.29,125.71L418.59,125.58L418.89,125.44L419.19,125.31L419.49,125.18L419.79,125.06L420.09,124.95L420.39,124.84L420.69,124.73L420.99,124.63L421.29,124.53L421.59,124.44L421.89,124.35L422.19,124.26L422.49,124.19L422.79,124.11L423.09,124.05L423.39,123.98L423.69,123.93L423.99,123.87L424.29,123.83L424.59,123.79L424.88,123.75L425.18,123.72L425.48,123.7L425.78,123.68L426.08,123.66L426.38,123.66L426.68,123.65L426.98,123.66L427.28,123.67L427.58,123.68L427.88,123.7L428.18,123.73L428.48,123.76L428.78,123.8L429.08,123.84L429.38,123.89L429.68,123.94L429.98,124L430.28,124.06L430.58,124.13L430.88,124.21L431.18,124.29L431.48,124.37L431.78,124.46L432.08,124.56L432.38,124.66L432.68,124.76L432.98,124.87L433.28,124.98L433.58,125.1L433.88,125.22L434.18,125.35L434.48,125.48L434.78,125.61L435.08,125.75L435.38,125.9L435.68,126.04L435.98,126.19L436.28,126.34L436.58,126.5L436.88,126.66L437.18,126.82L437.48,126.98L437.78,127.15L438.08,127.32L438.38,127.49L438.68,127.67L438.98,127.84L439.28,128.02L439.58,128.2L439.88,128.38L440.18,128.56L440.48,128.75L440.78,128.93L441.08,129.12L441.38,129.31L441.68,129.49L441.98,129.68L442.28,129.87L442.58,130.06L442.88,130.24L443.18,130.43L443.48,130.62L443.78,130.8L444.08,130.99L444.38,131.17L444.68,131.36L444.98,131.54L445.28,131.72L445.58,131.9L445.88,132.07L446.18,132.25L446.48,132.42L446.78,132.59L447.08,132.76L447.38,132.93L447.68,133.09L447.98,133.25L448.28,133.41L448.58,133.56L448.88,133.71L449.18,133.86L449.48,134L449.78,134.14L450.08,134.28L450.38,134.41L450.68,134.54L450.98,134.66L451.28,134.78L451.58,134.9L451.88,135.01L452.18,135.12L452.48,135.22L452.78,135.31L453.08,135.41L453.38,135.49L453.68,135.58L453.98,135.65L454.28,135.72L454.58,135.79L454.87,135.85L455.17,135.91L455.47,135.96L455.77,136L456.07,136.04L456.37,136.08L456.67,136.11L456.97,136.13L457.27,136.15L457.57,136.16L457.87,136.16L458.17,136.16L458.47,136.16L458.77,136.15L459.07,136.13L459.37,136.11L459.67,136.08L459.97,136.05L460.27,136.01L460.57,135.97L460.87,135.92L461.17,135.86L461.47,135.8L461.77,135.74L462.07,135.66L462.37,135.59L462.67,135.51L462.97,135.42L463.27,135.33L463.57,135.23L463.87,135.13L464.17,135.03L464.47,134.92L464.77,134.8L465.07,134.68L465.37,134.56L465.67,134.43L465.97,134.3L466.27,134.16L466.57,134.03L466.87,133.88L467.17,133.74L467.47,133.59L467.77,133.43L468.07,133.27L468.37,133.12L468.67,132.95L468.97,132.79L469.27,132.62L469.57,132.45L469.87,132.28L470.17,132.1L470.47,131.93L470.77,131.75L471.07,131.57L471.37,131.38L471.67,131.2L471.97,131.02L472.27,130.83L472.57,130.65L472.87,130.46L473.17,130.27L473.47,130.09L473.77,129.9L474.07,129.71L474.37,129.52L474.67,129.34L474.97,129.15L475.27,128.96L475.57,128.78L475.87,128.59L476.17,128.41L476.47,128.23L476.77,128.05L477.07,127.87L477.37,127.69L477.67,127.52L477.97,127.35L478.27,127.18L478.57,127.01L478.87,126.85L479.17,126.68L479.47,126.52L479.77,126.37L480.07,126.21L480.37,126.06L480.67,125.92L480.97,125.78L481.27,125.64L481.57,125.5L481.87,125.37L482.17,125.24L482.47,125.12L482.77,125L483.07,124.89L483.37,124.78L483.67,124.67L483.97,124.57L484.27,124.48L484.56,124.39L484.86,124.3L485.16,124.22L485.46,124.14L485.76,124.07L486.06,124.01L486.36,123.95L486.66,123.9L486.96,123.85L487.26,123.8L487.56,123.76L487.86,123.73L488.16,123.71L488.46,123.68L488.76,123.67L489.06,123.66L489.36,123.65L489.66,123.65L489.96,123.66L490.26,123.67L490.56,123.69L490.86,123.72L491.16,123.74L491.46,123.78L491.76,123.82L492.06,123.87L492.36,123.92L492.66,123.97L492.96,124.03L493.26,124.1L493.56,124.17L493.86,124.25L494.16,124.33L494.46,124.42L494.76,124.51L495.06,124.61L495.36,124.71L495.66,124.82L495.96,124.93L496.26,125.05L496.56,125.17L496.86,125.29L497.16,125.42L497.46,125.56L497.76,125.69L498.06,125.83L498.36,125.98L498.66,126.12L498.96,126.28L499.26,126.43L499.56,126.59L499.86,126.75L500.16,126.91L500.46,127.08L500.76,127.25L501.06,127.42L501.36,127.59L501.66,127.77L501.96,127.94L502.26,128.12L502.56,128.3L502.86,128.48L503.16,128.67L503.46,128.85L503.76,129.04L504.06,129.22L504.36,129.41L504.66,129.6L504.96,129.79L505.26,129.97L505.56,130.16L505.86,130.35L506.16,130.53L506.46,130.72L506.76,130.91L507.06,131.09L507.36,131.28L507.66,131.46L507.96,131.64L508.26,131.82L508.56,132L508.86,132.17L509.16,132.35L509.46,132.52L509.76,132.69L510.06,132.85L510.36,133.02L510.66,133.18L510.96,133.34L511.26,133.49L511.56,133.65L511.86,133.79L512.16,133.94L512.46,134.08L512.76,134.22L513.06,134.35L513.36,134.48L513.66,134.61L513.96,134.73L514.26,134.85L514.56,134.96L514.85,135.07L515.15,135.17L515.45,135.27L515.75,135.37L516.05,135.46L516.35,135.54L516.65,135.62L516.95,135.69L517.25,135.76L517.55,135.83L517.85,135.88L518.15,135.94L518.45,135.98L518.75,136.03L519.05,136.06L519.35,136.09L519.65,136.12L519.95,136.14L520.25,136.15L520.55,136.16L520.85,136.16L521.15,136.16L521.45,136.15L521.75,136.14L522.05,136.12L522.35,136.09L522.65,136.06L522.95,136.03L523.25,135.99L523.55,135.94L523.85,135.89L524.15,135.83L524.45,135.76L524.75,135.7L525.05,135.62L525.35,135.54L525.65,135.46L525.95,135.37L526.25,135.28L526.55,135.18L526.85,135.07L527.15,134.97L527.45,134.85L527.75,134.74L528.05,134.61L528.35,134.49L528.65,134.36L528.95,134.22L529.25,134.09L529.55,133.95L529.85,133.8L530.15,133.65L530.45,133.5L530.75,133.34L531.05,133.19L531.35,133.02L531.65,132.86L531.95,132.69L532.25,132.52L532.55,132.35L532.85,132.18L533.15,132L533.45,131.83L533.75,131.65L534.05,131.46L534.35,131.28L534.65,131.1L534.95,130.91L535.25,130.73L535.55,130.54L535.85,130.35L536.15,130.17L536.45,129.98L536.75,129.79L537.05,129.6L537.35,129.42L537.65,129.23L537.95,129.04L538.25,128.86L538.55,128.67L538.85,128.49L539.15,128.31L539.45,128.13L539.75,127.95L540.05,127.77L540.35,127.6L540.65,127.42L540.95,127.25L541.25,127.08L541.55,126.92L541.85,126.75L542.15,126.59L542.45,126.44L542.75,126.28L543.05,126.13L543.35,125.98L543.65,125.84L543.95,125.7L544.25,125.56L544.55,125.43L544.84,125.3L545.14,125.17L545.44,125.05L545.74,124.94L546.04,124.83L546.34,124.72L546.64,124.62L546.94,124.52L547.24,124.43L547.54,124.34L547.84,124.26L548.14,124.18L548.44,124.1L548.74,124.04L549.04,123.98L549.34,123.92L549.64,123.87L549.94,123.82L550.24,123.78L550.54,123.75L550.84,123.72L551.14,123.69L551.44,123.67L551.74,123.66L552.04,123.65L552.34,123.65L552.64,123.66L552.94,123.67L553.24,123.68L553.54,123.7L553.84,123.73L554.14,123.76L554.44,123.8L554.74,123.84L555.04,123.89L555.34,123.95L555.64,124.01L555.94,124.07L556.24,124.14L556.54,124.22L556.84,124.3L557.14,124.38L557.44,124.47L557.74,124.57L558.04,124.67L558.34,124.77L558.64,124.88L558.94,125L559.24,125.12L559.54,125.24L559.84,125.37L560.14,125.5L560.44,125.63L560.74,125.77L561.04,125.91L561.34,126.06L561.64,126.21L561.94,126.36L562.24,126.52L562.54,126.68L562.84,126.84L563.14,127L563.44,127.17L563.74,127.34L564.04,127.51L564.34,127.69L564.64,127.86L564.94,128.04L565.24,128.22L565.54,128.4L565.84,128.59L566.14,128.77L566.44,128.96L566.74,129.14L567.04,129.33L567.34,129.52L567.64,129.7L567.94,129.89L568.24,130.08L568.54,130.27L568.84,130.45L569.14,130.64L569.44,130.83L569.74,131.01L570.04,131.19L570.34,131.38L570.64,131.56L570.94,131.74L571.24,131.92L571.54,132.1L571.84,132.27L572.14,132.44L572.44,132.61L572.74,132.78L573.04,132.95L573.34,133.11L573.64,133.27L573.94,133.43L574.24,133.58L574.54,133.73L574.83,133.88L575.13,134.02L575.43,134.16L575.73,134.3L576.03,134.43L576.33,134.55L576.63,134.68L576.93,134.8L577.23,134.91L577.53,135.02L577.83,135.13L578.13,135.23L578.43,135.33L578.73,135.42L579.03,135.5L579.33,135.59L579.63,135.66L579.93,135.73L580.23,135.8L580.53,135.86L580.83,135.91L581.13,135.96L581.43,136.01L581.73,136.05L582.03,136.08L582.33,136.11L582.63,136.13L582.93,136.15L583.23,136.16L583.53,136.16L583.83,136.16L584.13,136.16L584.43,136.15L584.73,136.13L585.03,136.11L585.33,136.08L585.63,136.04L585.93,136L586.23,135.96L586.53,135.91L586.83,135.85L587.13,135.79L587.43,135.73L587.73,135.66L588.03,135.58L588.33,135.5L588.63,135.41L588.93,135.32L589.23,135.22L589.53,135.12L589.83,135.01L590.13,134.9L590.43,134.79L590.73,134.67L591.03,134.54L591.33,134.42L591.63,134.28L591.93,134.15L592.23,134.01L592.53,133.86L592.83,133.72L593.13,133.57L593.43,133.41L593.73,133.26L594.03,133.1L594.33,132.93L594.63,132.77L594.93,132.6L595.23,132.43L595.53,132.26L595.83,132.08L596.13,131.9L596.43,131.72L596.73,131.54L597.03,131.36L597.33,131.18L597.63,131L597.93,130.81L598.23,130.62L598.53,130.44L598.83,130.25L599.13,130.06L599.43,129.87L599.73,129.69L600.03,129.5L600.33,129.31L600.63,129.13L600.93,128.94L601.23,128.76L601.53,128.57L601.83,128.39L602.13,128.21L602.43,128.03L602.73,127.85L603.03,127.67L603.33,127.5L603.63,127.33L603.93,127.16L604.23,126.99L604.52,126.83L604.82,126.66L605.12,126.5L605.42,126.35L605.72,126.2L606.02,126.05L606.32,125.9L606.62,125.76L606.92,125.62L607.22,125.49L607.52,125.35L607.82,125.23L608.12,125.11L608.42,124.99L608.72,124.87L609.02,124.77L609.32,124.66L609.62,124.56L609.92,124.47L610.22,124.38L610.52,124.29L610.82,124.21L611.12,124.14L611.42,124.07L611.72,124L612.02,123.94L612.32,123.89L612.62,123.84L612.92,123.8L613.22,123.76L613.52,123.73L613.82,123.7L614.12,123.68L614.42,123.67L614.72,123.66L615.02,123.65L615.32,123.66L615.62,123.66L615.92,123.68L616.22,123.69L616.52,123.72L616.82,123.75L617.12,123.78L617.42,123.82L617.72,123.87L618.02,123.92L618.32,123.98L618.62,124.04L618.92,124.11L619.22,124.18L619.52,124.26L619.82,124.34L620.12,124.43L620.42,124.53L620.72,124.62L621.02,124.73L621.32,124.83L621.62,124.95L621.92,125.06L622.22,125.18L622.52,125.31L622.82,125.44L623.12,125.57L623.42,125.71L623.72,125.85L624.02,125.99L624.32,126.14L624.62,126.29L624.92,126.45L625.22,126.61L625.52,126.77L625.82,126.93L626.12,127.1L626.42,127.27L626.72,127.44L627.02,127.61L627.32,127.79L627.62,127.96L627.92,128.14L628.22,128.32L628.52,128.51L628.82,128.69L629.12,128.87L629.42,129.06L629.72,129.25L630.02,129.43L630.32,129.62L630.62,129.81L630.92,130L631.22,130.18L631.52,130.37L631.82,130.56L632.12,130.74L632.42,130.93L632.72,131.11L633.02,131.3L633.32,131.48L633.62,131.66L633.92,131.84L634.22,132.02L634.51,132.19L634.81,132.37L635.11,132.54L635.41,132.71L635.71,132.87L636.01,133.04L636.31,133.2L636.61,133.36L636.91,133.51L637.21,133.66L637.51,133.81L637.81,133.96L638.11,134.1L638.41,134.24L638.71,134.37L639.01,134.5L639.31,134.62L639.61,134.75L639.91,134.86L640.21,134.97L640.51,135.08L640.81,135.19L641.11,135.28L641.41,135.38L641.71,135.47L642.01,135.55L642.31,135.63L642.61,135.7L642.91,135.77L643.21,135.83L643.51,135.89L643.81,135.94L644.11,135.99L644.41,136.03L644.71,136.07L645.01,136.1L645.31,136.12L645.61,136.14L645.91,136.15L646.21,136.16L646.51,136.16L646.81,136.16L647.11,136.15L647.41,136.14L647.71,136.12L648.01,136.09L648.31,136.06L648.61,136.02L648.91,135.98L649.21,135.93L649.51,135.88L649.81,135.82L650.11,135.76L650.41,135.69L650.71,135.61L651.01,135.53L651.31,135.45L651.61,135.36L651.91,135.26L652.21,135.17L652.51,135.06L652.81,134.95L653.11,134.84L653.41,134.72L653.71,134.6L654.01,134.47L654.31,134.34L654.61,134.21L654.91,134.07L655.21,133.93L655.51,133.78L655.81,133.63L656.11,133.48L656.41,133.33L656.71,133.17L657.01,133L657.31,132.84L657.61,132.67L657.91,132.5L658.21,132.33L658.51,132.16L658.81,131.98L659.11,131.8L659.41,131.62L659.71,131.44L660.01,131.26L660.31,131.08L660.61,130.89L660.91,130.71L661.21,130.52L661.51,130.33L661.81,130.14L662.11,129.96L662.41,129.77L662.71,129.58L663.01,129.39L663.31,129.21L663.61,129.02L663.91,128.84L664.21,128.65L664.5,128.47L664.8,128.29L665.1,128.11L665.4,127.93L665.7,127.75L666,127.58L666.3,127.4L666.6,127.23L666.9,127.06L667.2,126.9L667.5,126.73L667.8,126.57L668.1,126.42L668.4,126.26L668.7,126.11L669,125.96L669.3,125.82L669.6,125.68L669.9,125.54L670.2,125.41L670.5,125.28L670.8,125.16L671.1,125.04L671.4,124.92L671.7,124.81L672,124.71L672.3,124.6L672.6,124.51L672.9,124.41L673.2,124.33L673.5,124.25L673.8,124.17L674.1,124.1L674.4,124.03L674.7,123.97L675,123.91L675.3,123.86L675.6,123.82L675.9,123.78L676.2,123.74L676.5,123.71L676.8,123.69L677.1,123.67L677.4,123.66L677.7,123.65L678,123.65L678.3,123.66L678.6,123.67L678.9,123.69L679.2,123.71L679.5,123.73" stroke="#0000ff" stroke-width="1.45" fill="none" stroke-linejoin="round" clip-path="url(#cb)"/>
<path d="M379.6,129.91L379.9,114.47L380.2,98.27L380.5,80.04L380.8,56.35L381.1,36.2L381.4,30.09L381.7,37.61L382,49.84L382.3,66.08L382.6,84.87L382.9,103.7L383.2,122.23L383.5,134.91L383.8,142.49L384.1,149.16L384.4,154.46L384.7,157.97L385,159.23L385.3,158.24L385.6,155.78L385.9,152.64L386.2,149.59L386.5,147.42L386.8,145.93L387.1,144.48L387.4,143.17L387.7,142.1L388,141.38L388.3,141.12L388.6,141.26L388.9,141.65L389.2,142.21L389.5,142.88L389.8,143.6L390.1,144.31L390.4,144.92L390.7,145.52L391,146.2L391.3,146.93L391.6,147.68L391.9,148.43L392.2,149.13L392.5,149.77L392.8,150.32L393.1,150.75L393.4,151.03L393.7,151.13L394,151.11L394.3,151.05L394.6,150.96L394.89,150.84L395.19,150.69L395.49,150.51L395.79,150.32L396.09,150.11L396.39,149.88L396.69,149.65L396.99,149.41L397.29,149.17L397.59,148.93L397.89,148.66L398.19,148.36L398.49,148.02L398.79,147.65L399.09,147.25L399.39,146.82L399.69,146.37L399.99,145.91L400.29,145.42L400.59,144.93L400.89,144.43L401.19,143.92L401.49,143.42L401.79,142.92L402.09,142.42L402.39,141.91L402.69,141.35L402.99,140.77L403.29,140.16L403.59,139.53L403.89,138.9L404.19,138.26L404.49,137.62L404.79,137L405.09,136.4L405.39,135.82L405.69,135.27L405.99,134.77L406.29,134.31L406.59,133.91L406.89,133.56L407.19,133.24L407.49,132.95L407.79,132.68L408.09,132.43L408.39,132.19L408.69,131.96L408.99,131.73L409.29,131.5L409.59,131.25L409.89,131L410.19,130.72L410.49,130.42L410.79,130.09L411.09,129.72L411.39,129.32L411.69,128.87L411.99,128.4L412.29,127.9L412.59,127.37L412.89,126.82L413.19,126.24L413.49,125.66L413.79,125.06L414.09,124.45L414.39,123.84L414.69,123.22L414.99,122.61L415.29,122L415.59,121.4L415.89,120.78L416.19,120.12L416.49,119.45L416.79,118.76L417.09,118.09L417.39,117.44L417.69,116.83L417.99,116.29L418.29,115.79L418.59,115.31L418.89,114.86L419.19,114.42L419.49,114.01L419.79,113.62L420.09,113.24L420.39,112.87L420.69,112.51L420.99,112.17L421.29,111.84L421.59,111.52L421.89,111.23L422.19,110.94L422.49,110.68L422.79,110.44L423.09,110.21L423.39,110L423.69,109.8L423.99,109.63L424.29,109.47L424.59,109.33L424.88,109.21L425.18,109.11L425.48,109.03L425.78,108.97L426.08,108.92L426.38,108.9L426.68,108.89L426.98,108.9L427.28,108.93L427.58,108.98L427.88,109.05L428.18,109.14L428.48,109.25L428.78,109.37L429.08,109.51L429.38,109.68L429.68,109.86L429.98,110.05L430.28,110.27L430.58,110.5L430.88,110.75L431.18,111.02L431.48,111.31L431.78,111.61L432.08,111.93L432.38,112.26L432.68,112.61L432.98,112.98L433.28,113.36L433.58,113.75L433.88,114.17L434.18,114.59L434.48,115.03L434.78,115.48L435.08,115.95L435.38,116.42L435.68,116.91L435.98,117.41L436.28,117.93L436.58,118.45L436.88,118.98L437.18,119.53L437.48,120.08L437.78,120.64L438.08,121.21L438.38,121.79L438.68,122.38L438.98,122.97L439.28,123.57L439.58,124.17L439.88,124.78L440.18,125.39L440.48,126.01L440.78,126.63L441.08,127.26L441.38,127.88L441.68,128.51L441.98,129.14L442.28,129.77L442.58,130.4L442.88,131.03L443.18,131.66L443.48,132.29L443.78,132.91L444.08,133.54L444.38,134.15L444.68,134.77L444.98,135.38L445.28,135.99L445.58,136.59L445.88,137.18L446.18,137.77L446.48,138.35L446.78,138.93L447.08,139.49L447.38,140.05L447.68,140.6L447.98,141.13L448.28,141.66L448.58,142.18L448.88,142.69L449.18,143.18L449.48,143.66L449.78,144.13L450.08,144.59L450.38,145.04L450.68,145.47L450.98,145.88L451.28,146.29L451.58,146.67L451.88,147.05L452.18,147.4L452.48,147.75L452.78,148.07L453.08,148.38L453.38,148.67L453.68,148.95L453.98,149.21L454.28,149.45L454.58,149.67L454.87,149.88L455.17,150.07L455.47,150.23L455.77,150.39L456.07,150.52L456.37,150.63L456.67,150.73L456.97,150.81L457.27,150.86L457.57,150.9L457.87,150.92L458.17,150.93L458.47,150.91L458.77,150.87L459.07,150.82L459.37,150.74L459.67,150.65L459.97,150.54L460.27,150.41L460.57,150.26L460.87,150.09L461.17,149.91L461.47,149.71L461.77,149.48L462.07,149.25L462.37,148.99L462.67,148.72L462.97,148.43L463.27,148.12L463.57,147.8L463.87,147.46L464.17,147.1L464.47,146.73L464.77,146.35L465.07,145.95L465.37,145.53L465.67,145.11L465.97,144.66L466.27,144.21L466.57,143.74L466.87,143.26L467.17,142.77L467.47,142.26L467.77,141.75L468.07,141.22L468.37,140.68L468.67,140.14L468.97,139.58L469.27,139.02L469.57,138.44L469.87,137.86L470.17,137.28L470.47,136.68L470.77,136.08L471.07,135.48L471.37,134.87L471.67,134.25L471.97,133.63L472.27,133.01L472.57,132.39L472.87,131.76L473.17,131.13L473.47,130.5L473.77,129.87L474.07,129.24L474.37,128.61L474.67,127.98L474.97,127.35L475.27,126.73L475.57,126.11L475.87,125.49L476.17,124.88L476.47,124.27L476.77,123.66L477.07,123.06L477.37,122.47L477.67,121.88L477.97,121.3L478.27,120.73L478.57,120.17L478.87,119.61L479.17,119.07L479.47,118.53L479.77,118.01L480.07,117.5L480.37,116.99L480.67,116.5L480.97,116.02L481.27,115.55L481.57,115.1L481.87,114.66L482.17,114.23L482.47,113.82L482.77,113.42L483.07,113.04L483.37,112.67L483.67,112.32L483.97,111.98L484.27,111.66L484.56,111.35L484.86,111.07L485.16,110.8L485.46,110.54L485.76,110.31L486.06,110.09L486.36,109.89L486.66,109.7L486.96,109.54L487.26,109.39L487.56,109.26L487.86,109.16L488.16,109.07L488.46,108.99L488.76,108.94L489.06,108.91L489.36,108.89L489.66,108.9L489.96,108.92L490.26,108.96L490.56,109.02L490.86,109.1L491.16,109.2L491.46,109.31L491.76,109.45L492.06,109.6L492.36,109.77L492.66,109.96L492.96,110.17L493.26,110.4L493.56,110.64L493.86,110.9L494.16,111.18L494.46,111.47L494.76,111.78L495.06,112.11L495.36,112.46L495.66,112.81L495.96,113.19L496.26,113.58L496.56,113.98L496.86,114.4L497.16,114.83L497.46,115.28L497.76,115.74L498.06,116.21L498.36,116.7L498.66,117.19L498.96,117.7L499.26,118.22L499.56,118.75L499.86,119.29L500.16,119.84L500.46,120.39L500.76,120.96L501.06,121.54L501.36,122.12L501.66,122.71L501.96,123.3L502.26,123.9L502.56,124.51L502.86,125.12L503.16,125.74L503.46,126.36L503.76,126.98L504.06,127.61L504.36,128.23L504.66,128.86L504.96,129.49L505.26,130.12L505.56,130.75L505.86,131.38L506.16,132.01L506.46,132.64L506.76,133.26L507.06,133.88L507.36,134.5L507.66,135.11L507.96,135.72L508.26,136.33L508.56,136.92L508.86,137.51L509.16,138.1L509.46,138.68L509.76,139.24L510.06,139.8L510.36,140.36L510.66,140.9L510.96,141.43L511.26,141.95L511.56,142.46L511.86,142.96L512.16,143.45L512.46,143.93L512.76,144.39L513.06,144.84L513.36,145.28L513.66,145.7L513.96,146.11L514.26,146.51L514.56,146.89L514.85,147.25L515.15,147.6L515.45,147.93L515.75,148.25L516.05,148.55L516.35,148.83L516.65,149.1L516.95,149.34L517.25,149.58L517.55,149.79L517.85,149.98L518.15,150.16L518.45,150.32L518.75,150.46L519.05,150.59L519.35,150.69L519.65,150.77L519.95,150.84L520.25,150.89L520.55,150.92L520.85,150.93L521.15,150.92L521.45,150.89L521.75,150.84L522.05,150.78L522.35,150.69L522.65,150.59L522.95,150.47L523.25,150.33L523.55,150.17L523.85,149.99L524.15,149.8L524.45,149.58L524.75,149.35L525.05,149.11L525.35,148.84L525.65,148.56L525.95,148.26L526.25,147.94L526.55,147.61L526.85,147.26L527.15,146.9L527.45,146.52L527.75,146.13L528.05,145.72L528.35,145.3L528.65,144.86L528.95,144.41L529.25,143.95L529.55,143.47L529.85,142.98L530.15,142.48L530.45,141.97L530.75,141.45L531.05,140.92L531.35,140.38L531.65,139.83L531.95,139.27L532.25,138.7L532.55,138.12L532.85,137.54L533.15,136.95L533.45,136.35L533.75,135.75L534.05,135.14L534.35,134.52L534.65,133.91L534.95,133.29L535.25,132.66L535.55,132.04L535.85,131.41L536.15,130.78L536.45,130.15L536.75,129.52L537.05,128.89L537.35,128.26L537.65,127.63L537.95,127L538.25,126.38L538.55,125.76L538.85,125.15L539.15,124.53L539.45,123.93L539.75,123.32L540.05,122.73L540.35,122.14L540.65,121.56L540.95,120.98L541.25,120.42L541.55,119.86L541.85,119.31L542.15,118.77L542.45,118.24L542.75,117.72L543.05,117.21L543.35,116.72L543.65,116.23L543.95,115.76L544.25,115.3L544.55,114.85L544.84,114.42L545.14,114L545.44,113.59L545.74,113.2L546.04,112.83L546.34,112.47L546.64,112.13L546.94,111.8L547.24,111.49L547.54,111.19L547.84,110.91L548.14,110.65L548.44,110.41L548.74,110.18L549.04,109.97L549.34,109.78L549.64,109.61L549.94,109.45L550.24,109.32L550.54,109.2L550.84,109.1L551.14,109.02L551.44,108.96L551.74,108.92L552.04,108.9L552.34,108.89L552.64,108.91L552.94,108.94L553.24,108.99L553.54,109.06L553.84,109.15L554.14,109.26L554.44,109.39L554.74,109.53L555.04,109.7L555.34,109.88L555.64,110.08L555.94,110.3L556.24,110.53L556.54,110.79L556.84,111.06L557.14,111.34L557.44,111.65L557.74,111.97L558.04,112.3L558.34,112.66L558.64,113.02L558.94,113.41L559.24,113.8L559.54,114.22L559.84,114.64L560.14,115.08L560.44,115.54L560.74,116L561.04,116.48L561.34,116.97L561.64,117.48L561.94,117.99L562.24,118.51L562.54,119.05L562.84,119.59L563.14,120.15L563.44,120.71L563.74,121.28L564.04,121.86L564.34,122.45L564.64,123.04L564.94,123.64L565.24,124.24L565.54,124.85L565.84,125.47L566.14,126.08L566.44,126.71L566.74,127.33L567.04,127.96L567.34,128.59L567.64,129.22L567.94,129.85L568.24,130.48L568.54,131.11L568.84,131.74L569.14,132.36L569.44,132.99L569.74,133.61L570.04,134.23L570.34,134.84L570.64,135.46L570.94,136.06L571.24,136.66L571.54,137.25L571.84,137.84L572.14,138.42L572.44,138.99L572.74,139.56L573.04,140.12L573.34,140.66L573.64,141.2L573.94,141.73L574.24,142.24L574.54,142.75L574.83,143.24L575.13,143.72L575.43,144.19L575.73,144.65L576.03,145.09L576.33,145.52L576.63,145.93L576.93,146.33L577.23,146.72L577.53,147.09L577.83,147.45L578.13,147.79L578.43,148.11L578.73,148.42L579.03,148.71L579.33,148.98L579.63,149.24L579.93,149.48L580.23,149.7L580.53,149.9L580.83,150.09L581.13,150.25L581.43,150.4L581.73,150.53L582.03,150.65L582.33,150.74L582.63,150.81L582.93,150.87L583.23,150.91L583.53,150.93L583.83,150.92L584.13,150.9L584.43,150.87L584.73,150.81L585.03,150.73L585.33,150.64L585.63,150.52L585.93,150.39L586.23,150.24L586.53,150.07L586.83,149.88L587.13,149.68L587.43,149.46L587.73,149.22L588.03,148.96L588.33,148.68L588.63,148.39L588.93,148.08L589.23,147.76L589.53,147.42L589.83,147.06L590.13,146.69L590.43,146.3L590.73,145.9L591.03,145.48L591.33,145.05L591.63,144.61L591.93,144.15L592.23,143.68L592.53,143.2L592.83,142.7L593.13,142.2L593.43,141.68L593.73,141.15L594.03,140.62L594.33,140.07L594.63,139.51L594.93,138.95L595.23,138.37L595.53,137.79L595.83,137.21L596.13,136.61L596.43,136.01L596.73,135.4L597.03,134.79L597.33,134.18L597.63,133.56L597.93,132.94L598.23,132.31L598.53,131.68L598.83,131.05L599.13,130.42L599.43,129.79L599.73,129.16L600.03,128.53L600.33,127.91L600.63,127.28L600.93,126.65L601.23,126.03L601.53,125.42L601.83,124.8L602.13,124.19L602.43,123.59L602.73,122.99L603.03,122.4L603.33,121.81L603.63,121.23L603.93,120.66L604.23,120.1L604.52,119.55L604.82,119L605.12,118.47L605.42,117.95L605.72,117.43L606.02,116.93L606.32,116.44L606.62,115.96L606.92,115.5L607.22,115.05L607.52,114.61L607.82,114.18L608.12,113.77L608.42,113.37L608.72,112.99L609.02,112.63L609.32,112.27L609.62,111.94L609.92,111.62L610.22,111.32L610.52,111.03L610.82,110.76L611.12,110.51L611.42,110.28L611.72,110.06L612.02,109.86L612.32,109.68L612.62,109.52L612.92,109.38L613.22,109.25L613.52,109.14L613.82,109.06L614.12,108.99L614.42,108.94L614.72,108.9L615.02,108.89L615.32,108.9L615.62,108.92L615.92,108.97L616.22,109.03L616.52,109.11L616.82,109.21L617.12,109.33L617.42,109.47L617.72,109.62L618.02,109.8L618.32,109.99L618.62,110.2L618.92,110.43L619.22,110.67L619.52,110.93L619.82,111.21L620.12,111.51L620.42,111.82L620.72,112.15L621.02,112.5L621.32,112.86L621.62,113.24L621.92,113.63L622.22,114.03L622.52,114.45L622.82,114.89L623.12,115.34L623.42,115.8L623.72,116.27L624.02,116.76L624.32,117.25L624.62,117.76L624.92,118.28L625.22,118.81L625.52,119.35L625.82,119.9L626.12,120.46L626.42,121.03L626.72,121.61L627.02,122.19L627.32,122.78L627.62,123.37L627.92,123.98L628.22,124.58L628.52,125.2L628.82,125.81L629.12,126.43L629.42,127.06L629.72,127.68L630.02,128.31L630.32,128.94L630.62,129.57L630.92,130.2L631.22,130.83L631.52,131.46L631.82,132.09L632.12,132.71L632.42,133.34L632.72,133.96L633.02,134.57L633.32,135.19L633.62,135.8L633.92,136.4L634.22,136.99L634.51,137.58L634.81,138.17L635.11,138.74L635.41,139.31L635.71,139.87L636.01,140.42L636.31,140.96L636.61,141.5L636.91,142.02L637.21,142.53L637.51,143.02L637.81,143.51L638.11,143.99L638.41,144.45L638.71,144.9L639.01,145.33L639.31,145.75L639.61,146.16L639.91,146.55L640.21,146.93L640.51,147.29L640.81,147.64L641.11,147.97L641.41,148.28L641.71,148.58L642.01,148.86L642.31,149.13L642.61,149.37L642.91,149.6L643.21,149.81L643.51,150.01L643.81,150.18L644.11,150.34L644.41,150.48L644.71,150.6L645.01,150.7L645.31,150.78L645.61,150.85L645.91,150.89L646.21,150.92L646.51,150.93L646.81,150.92L647.11,150.89L647.41,150.84L647.71,150.77L648.01,150.68L648.31,150.58L648.61,150.45L648.91,150.31L649.21,150.15L649.51,149.97L649.81,149.77L650.11,149.56L650.41,149.32L650.71,149.07L651.01,148.81L651.31,148.52L651.61,148.22L651.91,147.9L652.21,147.57L652.51,147.22L652.81,146.85L653.11,146.47L653.41,146.08L653.71,145.67L654.01,145.24L654.31,144.81L654.61,144.35L654.91,143.89L655.21,143.41L655.51,142.92L655.81,142.42L656.11,141.91L656.41,141.39L656.71,140.85L657.01,140.31L657.31,139.76L657.61,139.2L657.91,138.63L658.21,138.05L658.51,137.47L658.81,136.87L659.11,136.28L659.41,135.67L659.71,135.06L660.01,134.45L660.31,133.83L660.61,133.21L660.91,132.59L661.21,131.96L661.51,131.33L661.81,130.7L662.11,130.07L662.41,129.44L662.71,128.81L663.01,128.18L663.31,127.55L663.61,126.93L663.91,126.31L664.21,125.69L664.5,125.07L664.8,124.46L665.1,123.85L665.4,123.25L665.7,122.66L666,122.07L666.3,121.49L666.6,120.91L666.9,120.35L667.2,119.79L667.5,119.24L667.8,118.7L668.1,118.18L668.4,117.66L668.7,117.15L669,116.66L669.3,116.17L669.6,115.7L669.9,115.24L670.2,114.8L670.5,114.37L670.8,113.95L671.1,113.55L671.4,113.16L671.7,112.78L672,112.43L672.3,112.08L672.6,111.76L672.9,111.45L673.2,111.16L673.5,110.88L673.8,110.62L674.1,110.38L674.4,110.15L674.7,109.95L675,109.76L675.3,109.59L675.6,109.44L675.9,109.3L676.2,109.19L676.5,109.09L676.8,109.01L677.1,108.96L677.4,108.92L677.7,108.89L678,108.89L678.3,108.91L678.6,108.94L678.9,109L679.2,109.07L679.5,109.16" stroke="#ff0000" stroke-width="1.45" fill="none" stroke-linejoin="round" clip-path="url(#cb)"/>
<path d="M379.6,129.91L379.9,94.46L380.2,66.66L380.5,42.54L380.8,27.32L381.1,19.61L381.4,14.31L381.7,12.85L382,14.18L382.3,16.77L382.6,19.81L382.9,23.64L383.2,28.67L383.5,34.29L383.8,39.83L384.1,45.09L384.4,50.42L384.7,56.09L385,62.35L385.3,69.56L385.6,77.76L385.9,86.66L386.2,96.01L386.5,105.53L386.8,114.95L387.1,124L387.4,132.41L387.7,139.92L388,146.77L388.3,153.4L388.6,159.79L388.9,165.93L389.2,171.81L389.5,177.41L389.8,182.73L390.1,187.75L390.4,192.46L390.7,197.05L391,201.62L391.3,206.07L391.6,210.29L391.9,214.15L392.2,217.55L392.5,220.37L392.8,222.49L393.1,224.22L393.4,225.85L393.7,227.3L394,228.45L394.3,229.22L394.6,229.5L394.89,229.26L395.19,228.6L395.49,227.57L395.79,226.22L396.09,224.63L396.39,222.85L396.69,220.93L396.99,218.94L397.29,216.94L397.59,214.98L397.89,212.91L398.19,210.55L398.49,207.94L398.79,205.1L399.09,202.09L399.39,198.93L399.69,195.66L399.99,192.32L400.29,188.94L400.59,185.56L400.89,182.22L401.19,178.95L401.49,175.79L401.79,172.78L402.09,169.94L402.39,167.17L402.69,164.32L402.99,161.43L403.29,158.51L403.59,155.6L403.89,152.71L404.19,149.89L404.49,147.15L404.79,144.51L405.09,142.01L405.39,139.67L405.69,137.51L405.99,135.56L406.29,133.86L406.59,132.41L406.89,131.15L407.19,129.96L407.49,128.87L407.79,127.87L408.09,126.96L408.39,126.16L408.69,125.48L408.99,124.9L409.29,124.45L409.59,124.09L409.89,123.78L410.19,123.49L410.49,123.18L410.79,122.81L411.09,122.35L411.39,121.75L411.69,120.99L411.99,120.1L412.29,119.11L412.59,118.03L412.89,116.9L413.19,115.73L413.49,114.55L413.79,113.38L414.09,112.24L414.39,111.11L414.69,109.92L414.99,108.69L415.29,107.43L415.59,106.14L415.89,104.83L416.19,103.51L416.49,102.19L416.79,100.87L417.09,99.57L417.39,98.3L417.69,97.05L417.99,95.84L418.29,94.68L418.59,93.58L418.89,92.51L419.19,91.46L419.49,90.42L419.79,89.41L420.09,88.42L420.39,87.46L420.69,86.54L420.99,85.64L421.29,84.78L421.59,83.97L421.89,83.16L422.19,82.35L422.49,81.55L422.79,80.79L423.09,80.08L423.39,79.44L423.69,78.91L423.99,78.49L424.29,78.14L424.59,77.79L424.88,77.47L425.18,77.19L425.48,76.94L425.78,76.75L426.08,76.62L426.38,76.57L426.68,76.54L426.98,76.56L427.28,76.63L427.58,76.75L427.88,76.92L428.18,77.14L428.48,77.41L428.78,77.72L429.08,78.08L429.38,78.48L429.68,78.94L429.98,79.43L430.28,79.98L430.58,80.56L430.88,81.19L431.18,81.87L431.48,82.58L431.78,83.34L432.08,84.14L432.38,84.98L432.68,85.86L432.98,86.78L433.28,87.74L433.58,88.73L433.88,89.76L434.18,90.83L434.48,91.93L434.78,93.07L435.08,94.23L435.38,95.43L435.68,96.66L435.98,97.92L436.28,99.21L436.58,100.53L436.88,101.87L437.18,103.23L437.48,104.62L437.78,106.03L438.08,107.46L438.38,108.91L438.68,110.38L438.98,111.87L439.28,113.37L439.58,114.89L439.88,116.42L440.18,117.96L440.48,119.51L440.78,121.07L441.08,122.64L441.38,124.22L441.68,125.8L441.98,127.38L442.28,128.96L442.58,130.54L442.88,132.13L443.18,133.71L443.48,135.28L443.78,136.85L444.08,138.42L444.38,139.97L444.68,141.52L444.98,143.05L445.28,144.58L445.58,146.09L445.88,147.58L446.18,149.06L446.48,150.52L446.78,151.96L447.08,153.38L447.38,154.78L447.68,156.15L447.98,157.51L448.28,158.83L448.58,160.13L448.88,161.4L449.18,162.65L449.48,163.86L449.78,165.04L450.08,166.19L450.38,167.31L450.68,168.39L450.98,169.44L451.28,170.45L451.58,171.42L451.88,172.36L452.18,173.26L452.48,174.11L452.78,174.93L453.08,175.71L453.38,176.44L453.68,177.13L453.98,177.78L454.28,178.39L454.58,178.95L454.87,179.47L455.17,179.94L455.47,180.37L455.77,180.75L456.07,181.08L456.37,181.37L456.67,181.61L456.97,181.8L457.27,181.95L457.57,182.05L457.87,182.1L458.17,182.1L458.47,182.06L458.77,181.97L459.07,181.83L459.37,181.64L459.67,181.41L459.97,181.13L460.27,180.8L460.57,180.43L460.87,180.01L461.17,179.55L461.47,179.04L461.77,178.48L462.07,177.88L462.37,177.24L462.67,176.55L462.97,175.83L463.27,175.06L463.57,174.25L463.87,173.39L464.17,172.5L464.47,171.57L464.77,170.61L465.07,169.6L465.37,168.56L465.67,167.48L465.97,166.37L466.27,165.23L466.57,164.05L466.87,162.84L467.17,161.6L467.47,160.34L467.77,159.04L468.07,157.72L468.37,156.37L468.67,155L468.97,153.6L469.27,152.19L469.57,150.75L469.87,149.29L470.17,147.82L470.47,146.33L470.77,144.82L471.07,143.3L471.37,141.77L471.67,140.22L471.97,138.67L472.27,137.1L472.57,135.53L472.87,133.96L473.17,132.38L473.47,130.8L473.77,129.21L474.07,127.63L474.37,126.05L474.67,124.47L474.97,122.89L475.27,121.32L475.57,119.76L475.87,118.21L476.17,116.67L476.47,115.13L476.77,113.61L477.07,112.11L477.37,110.62L477.67,109.15L477.97,107.69L478.27,106.26L478.57,104.84L478.87,103.45L479.17,102.08L479.47,100.74L479.77,99.42L480.07,98.13L480.37,96.86L480.67,95.63L480.97,94.42L481.27,93.25L481.57,92.11L481.87,91L482.17,89.93L482.47,88.89L482.77,87.89L483.07,86.93L483.37,86L483.67,85.12L483.97,84.27L484.27,83.46L484.56,82.7L484.86,81.98L485.16,81.3L485.46,80.66L485.76,80.07L486.06,79.52L486.36,79.01L486.66,78.55L486.96,78.14L487.26,77.77L487.56,77.45L487.86,77.18L488.16,76.95L488.46,76.77L488.76,76.64L489.06,76.55L489.36,76.51L489.66,76.52L489.96,76.58L490.26,76.69L490.56,76.84L490.86,77.04L491.16,77.28L491.46,77.58L491.76,77.92L492.06,78.3L492.36,78.73L492.66,79.21L492.96,79.73L493.26,80.3L493.56,80.91L493.86,81.56L494.16,82.26L494.46,83L494.76,83.78L495.06,84.61L495.36,85.47L495.66,86.37L495.96,87.31L496.26,88.29L496.56,89.3L496.86,90.36L497.16,91.44L497.46,92.56L497.76,93.72L498.06,94.9L498.36,96.12L498.66,97.37L498.96,98.64L499.26,99.94L499.56,101.27L499.86,102.63L500.16,104.01L500.46,105.41L500.76,106.83L501.06,108.27L501.36,109.74L501.66,111.22L501.96,112.71L502.26,114.22L502.56,115.75L502.86,117.28L503.16,118.83L503.46,120.39L503.76,121.95L504.06,123.52L504.36,125.1L504.66,126.68L504.96,128.26L505.26,129.85L505.56,131.43L505.86,133.01L506.16,134.59L506.46,136.16L506.76,137.73L507.06,139.29L507.36,140.84L507.66,142.38L507.96,143.91L508.26,145.43L508.56,146.93L508.86,148.41L509.16,149.88L509.46,151.33L509.76,152.76L510.06,154.17L510.36,155.55L510.66,156.91L510.96,158.25L511.26,159.56L511.56,160.85L511.86,162.1L512.16,163.33L512.46,164.53L512.76,165.69L513.06,166.82L513.36,167.92L513.66,168.98L513.96,170.01L514.26,171L514.56,171.95L514.85,172.87L515.15,173.74L515.45,174.58L515.75,175.37L516.05,176.12L516.35,176.84L516.65,177.5L516.95,178.13L517.25,178.71L517.55,179.25L517.85,179.74L518.15,180.18L518.45,180.58L518.75,180.94L519.05,181.25L519.35,181.51L519.65,181.72L519.95,181.89L520.25,182.01L520.55,182.08L520.85,182.1L521.15,182.08L521.45,182.01L521.75,181.89L522.05,181.73L522.35,181.52L522.65,181.26L522.95,180.95L523.25,180.6L523.55,180.2L523.85,179.76L524.15,179.27L524.45,178.73L524.75,178.15L525.05,177.53L525.35,176.86L525.65,176.15L525.95,175.4L526.25,174.61L526.55,173.77L526.85,172.9L527.15,171.99L527.45,171.04L527.75,170.05L528.05,169.02L528.35,167.96L528.65,166.86L528.95,165.73L529.25,164.57L529.55,163.38L529.85,162.15L530.15,160.9L530.45,159.61L530.75,158.3L531.05,156.97L531.35,155.6L531.65,154.22L531.95,152.81L532.25,151.38L532.55,149.93L532.85,148.47L533.15,146.98L533.45,145.48L533.75,143.97L534.05,142.44L534.35,140.9L534.65,139.35L534.95,137.79L535.25,136.22L535.55,134.65L535.85,133.07L536.15,131.49L536.45,129.91L536.75,128.32L537.05,126.74L537.35,125.16L537.65,123.58L537.95,122.01L538.25,120.45L538.55,118.89L538.85,117.34L539.15,115.81L539.45,114.28L539.75,112.77L540.05,111.27L540.35,109.79L540.65,108.33L540.95,106.89L541.25,105.46L541.55,104.06L541.85,102.68L542.15,101.33L542.45,99.99L542.75,98.69L543.05,97.41L543.35,96.17L543.65,94.95L543.95,93.76L544.25,92.61L544.55,91.49L544.84,90.4L545.14,89.34L545.44,88.33L545.74,87.35L546.04,86.41L546.34,85.5L546.64,84.64L546.94,83.81L547.24,83.03L547.54,82.29L547.84,81.59L548.14,80.93L548.44,80.32L548.74,79.75L549.04,79.23L549.34,78.75L549.64,78.32L549.94,77.93L550.24,77.59L550.54,77.29L550.84,77.05L551.14,76.84L551.44,76.69L551.74,76.58L552.04,76.53L552.34,76.51L552.64,76.55L552.94,76.63L553.24,76.76L553.54,76.94L553.84,77.17L554.14,77.44L554.44,77.76L554.74,78.13L555.04,78.54L555.34,78.99L555.64,79.5L555.94,80.04L556.24,80.64L556.54,81.27L556.84,81.95L557.14,82.67L557.44,83.43L557.74,84.24L558.04,85.08L558.34,85.97L558.64,86.89L558.94,87.85L559.24,88.85L559.54,89.89L559.84,90.96L560.14,92.07L560.44,93.21L560.74,94.38L561.04,95.58L561.34,96.81L561.64,98.08L561.94,99.37L562.24,100.69L562.54,102.03L562.84,103.4L563.14,104.79L563.44,106.2L563.74,107.64L564.04,109.09L564.34,110.56L564.64,112.05L564.94,113.56L565.24,115.08L565.54,116.61L565.84,118.15L566.14,119.7L566.44,121.26L566.74,122.83L567.04,124.41L567.34,125.99L567.64,127.57L567.94,129.15L568.24,130.74L568.54,132.32L568.84,133.9L569.14,135.47L569.44,137.04L569.74,138.61L570.04,140.16L570.34,141.71L570.64,143.24L570.94,144.76L571.24,146.27L571.54,147.76L571.84,149.24L572.14,150.69L572.44,152.13L572.74,153.55L573.04,154.95L573.34,156.32L573.64,157.67L573.94,158.99L574.24,160.29L574.54,161.55L574.83,162.79L575.13,164L575.43,165.18L575.73,166.33L576.03,167.44L576.33,168.52L576.63,169.56L576.93,170.57L577.23,171.54L577.53,172.47L577.83,173.36L578.13,174.21L578.43,175.03L578.73,175.8L579.03,176.53L579.33,177.21L579.63,177.86L579.93,178.46L580.23,179.02L580.53,179.53L580.83,179.99L581.13,180.41L581.43,180.79L581.73,181.12L582.03,181.4L582.33,181.63L582.63,181.82L582.93,181.96L583.23,182.05L583.53,182.1L583.83,182.1L584.13,182.05L584.43,181.95L584.73,181.81L585.03,181.62L585.33,181.38L585.63,181.09L585.93,180.76L586.23,180.38L586.53,179.96L586.83,179.49L587.13,178.97L587.43,178.41L587.73,177.81L588.03,177.16L588.33,176.47L588.63,175.74L588.93,174.96L589.23,174.15L589.53,173.29L589.83,172.39L590.13,171.46L590.43,170.49L590.73,169.48L591.03,168.43L591.33,167.35L591.63,166.23L591.93,165.09L592.23,163.9L592.53,162.69L592.83,161.45L593.13,160.18L593.43,158.88L593.73,157.56L594.03,156.21L594.33,154.83L594.63,153.43L594.93,152.01L595.23,150.57L595.53,149.11L595.83,147.64L596.13,146.14L596.43,144.64L596.73,143.11L597.03,141.58L597.33,140.03L597.63,138.48L597.93,136.91L598.23,135.34L598.53,133.77L598.83,132.19L599.13,130.6L599.43,129.02L599.73,127.44L600.03,125.86L600.33,124.28L600.63,122.7L600.93,121.13L601.23,119.57L601.53,118.02L601.83,116.48L602.13,114.95L602.43,113.43L602.73,111.93L603.03,110.44L603.33,108.97L603.63,107.52L603.93,106.09L604.23,104.67L604.52,103.28L604.82,101.92L605.12,100.58L605.42,99.26L605.72,97.97L606.02,96.71L606.32,95.48L606.62,94.28L606.92,93.11L607.22,91.97L607.52,90.87L607.82,89.8L608.12,88.77L608.42,87.77L608.72,86.81L609.02,85.89L609.32,85.01L609.62,84.17L609.92,83.37L610.22,82.61L610.52,81.89L610.82,81.22L611.12,80.59L611.42,80L611.72,79.45L612.02,78.95L612.32,78.5L612.62,78.09L612.92,77.73L613.22,77.42L613.52,77.15L613.82,76.93L614.12,76.75L614.42,76.63L614.72,76.55L615.02,76.51L615.32,76.53L615.62,76.59L615.92,76.7L616.22,76.86L616.52,77.06L616.82,77.32L617.12,77.61L617.42,77.96L617.72,78.35L618.02,78.79L618.32,79.27L618.62,79.8L618.92,80.37L619.22,80.99L619.52,81.65L619.82,82.35L620.12,83.09L620.42,83.88L620.72,84.71L621.02,85.58L621.32,86.48L621.62,87.43L621.92,88.41L622.22,89.43L622.52,90.49L622.82,91.58L623.12,92.7L623.42,93.86L623.72,95.05L624.02,96.27L624.32,97.52L624.62,98.8L624.92,100.1L625.22,101.44L625.52,102.79L625.82,104.18L626.12,105.58L626.42,107L626.72,108.45L627.02,109.91L627.32,111.4L627.62,112.89L627.92,114.41L628.22,115.93L628.52,117.47L628.82,119.02L629.12,120.58L629.42,122.14L629.72,123.71L630.02,125.29L630.32,126.87L630.62,128.46L630.92,130.04L631.22,131.62L631.52,133.2L631.82,134.78L632.12,136.35L632.42,137.92L632.72,139.48L633.02,141.03L633.32,142.57L633.62,144.09L633.92,145.61L634.22,147.11L634.51,148.59L634.81,150.06L635.11,151.5L635.41,152.93L635.71,154.33L636.01,155.72L636.31,157.08L636.61,158.41L636.91,159.72L637.21,161L637.51,162.25L637.81,163.48L638.11,164.67L638.41,165.83L638.71,166.95L639.01,168.05L639.31,169.11L639.61,170.13L639.91,171.12L640.21,172.06L640.51,172.97L640.81,173.84L641.11,174.67L641.41,175.46L641.71,176.21L642.01,176.92L642.31,177.58L642.61,178.2L642.91,178.78L643.21,179.31L643.51,179.79L643.81,180.23L644.11,180.63L644.41,180.98L644.71,181.28L645.01,181.54L645.31,181.74L645.61,181.9L645.91,182.02L646.21,182.09L646.51,182.1L646.81,182.08L647.11,182L647.41,181.88L647.71,181.71L648.01,181.49L648.31,181.22L648.61,180.91L648.91,180.55L649.21,180.15L649.51,179.7L649.81,179.2L650.11,178.66L650.41,178.08L650.71,177.45L651.01,176.78L651.31,176.06L651.61,175.31L651.91,174.51L652.21,173.67L652.51,172.79L652.81,171.87L653.11,170.92L653.41,169.92L653.71,168.89L654.01,167.83L654.31,166.73L654.61,165.59L654.91,164.43L655.21,163.23L655.51,162L655.81,160.74L656.11,159.46L656.41,158.14L656.71,156.8L657.01,155.44L657.31,154.05L657.61,152.64L657.91,151.21L658.21,149.76L658.51,148.29L658.81,146.8L659.11,145.3L659.41,143.78L659.71,142.25L660.01,140.71L660.31,139.16L660.61,137.6L660.91,136.03L661.21,134.46L661.51,132.88L661.81,131.3L662.11,129.72L662.41,128.13L662.71,126.55L663.01,124.97L663.31,123.39L663.61,121.82L663.91,120.26L664.21,118.7L664.5,117.16L664.8,115.62L665.1,114.1L665.4,112.59L665.7,111.09L666,109.61L666.3,108.15L666.6,106.71L666.9,105.29L667.2,103.89L667.5,102.52L667.8,101.16L668.1,99.84L668.4,98.54L668.7,97.26L669,96.02L669.3,94.8L669.6,93.62L669.9,92.47L670.2,91.35L670.5,90.27L670.8,89.22L671.1,88.21L671.4,87.23L671.7,86.29L672,85.4L672.3,84.54L672.6,83.72L672.9,82.94L673.2,82.2L673.5,81.51L673.8,80.86L674.1,80.25L674.4,79.69L674.7,79.17L675,78.69L675.3,78.27L675.6,77.89L675.9,77.55L676.2,77.26L676.5,77.02L676.8,76.82L677.1,76.68L677.4,76.57L677.7,76.52L678,76.52L678.3,76.56L678.6,76.65L678.9,76.78L679.2,76.97L679.5,77.2" stroke="#edb120" stroke-width="1.45" fill="none" stroke-linejoin="round" clip-path="url(#cb)"/>
<rect x="379.6" y="4.8" width="299.9" height="229.8" fill="none" stroke="#888888" stroke-width="1"/>
<path d="M379.6,234.6v-2.6M379.6,4.8v2.6M409.59,234.6v-2.6M409.59,4.8v2.6M439.58,234.6v-2.6M439.58,4.8v2.6M469.57,234.6v-2.6M469.57,4.8v2.6M499.56,234.6v-2.6M499.56,4.8v2.6M529.55,234.6v-2.6M529.55,4.8v2.6M559.54,234.6v-2.6M559.54,4.8v2.6M589.53,234.6v-2.6M589.53,4.8v2.6M619.52,234.6v-2.6M619.52,4.8v2.6M649.51,234.6v-2.6M649.51,4.8v2.6M679.5,234.6v-2.6M679.5,4.8v2.6M379.6,4.8h2.6M679.5,4.8h-2.6M379.6,29.82h2.6M679.5,29.82h-2.6M379.6,54.84h2.6M679.5,54.84h-2.6M379.6,79.87h2.6M679.5,79.87h-2.6M379.6,104.89h2.6M679.5,104.89h-2.6M379.6,129.91h2.6M679.5,129.91h-2.6M379.6,154.93h2.6M679.5,154.93h-2.6M379.6,179.95h2.6M679.5,179.95h-2.6M379.6,204.97h2.6M679.5,204.97h-2.6M379.6,230h2.6M679.5,230h-2.6" stroke="#888888" stroke-width="0.8" fill="none"/>
<text x="379.6" y="245.6" text-anchor="middle" class="tk">0</text>
<text x="409.59" y="245.6" text-anchor="middle" class="tk">1</text>
<text x="439.58" y="245.6" text-anchor="middle" class="tk">2</text>
<text x="469.57" y="245.6" text-anchor="middle" class="tk">3</text>
<text x="499.56" y="245.6" text-anchor="middle" class="tk">4</text>
<text x="529.55" y="245.6" text-anchor="middle" class="tk">5</text>
<text x="559.54" y="245.6" text-anchor="middle" class="tk">6</text>
<text x="589.53" y="245.6" text-anchor="middle" class="tk">7</text>
<text x="619.52" y="245.6" text-anchor="middle" class="tk">8</text>
<text x="649.51" y="245.6" text-anchor="middle" class="tk">9</text>
<text x="679.5" y="245.6" text-anchor="middle" class="tk">10</text>
<text x="376.8" y="7.7" text-anchor="end" class="tk">2.5</text>
<text x="376.8" y="32.72" text-anchor="end" class="tk">2</text>
<text x="376.8" y="57.74" text-anchor="end" class="tk">1.5</text>
<text x="376.8" y="82.77" text-anchor="end" class="tk">1</text>
<text x="376.8" y="107.79" text-anchor="end" class="tk">0.5</text>
<text x="376.8" y="132.81" text-anchor="end" class="tk">0</text>
<text x="376.8" y="157.83" text-anchor="end" class="tk">-0.5</text>
<text x="376.8" y="182.85" text-anchor="end" class="tk">-1</text>
<text x="376.8" y="207.87" text-anchor="end" class="tk">-1.5</text>
<text x="376.8" y="232.9" text-anchor="end" class="tk">-2</text>
<rect x="634.5" y="9.3" width="41.3" height="26" fill="#fff" stroke="#888888" stroke-width="0.9"/>
<path d="M636.2,13.4H651.9" stroke="#0000ff" stroke-width="1.5"/>
<text x="653.7" y="15.9" class="lg" font-size="6.85">OSMC</text>
<path d="M636.2,22.3H651.9" stroke="#ff0000" stroke-width="1.5"/>
<text x="653.7" y="24.8" class="lg" font-size="6.85">PID</text>
<path d="M636.2,30.6H651.9" stroke="#edb120" stroke-width="1.5"/>
<text x="653.7" y="33.1" class="lg" font-size="6.85">None</text>
<text x="529.3" y="255.3" text-anchor="middle" class="tk">Time (s)</text>
<text transform="translate(360.4,119.7) rotate(-90)" text-anchor="middle" class="yl">Acceleration of the sprung mass (m/s<tspan dy="-3.9" font-size="6.2">2</tspan><tspan dy="3.9">)</tspan></text>
<text x="532.1" y="279.3" text-anchor="middle" class="lt">b</text>
<path d="M54.54,306.6V539.5M84.88,306.6V539.5M115.22,306.6V539.5M145.56,306.6V539.5M175.9,306.6V539.5M206.24,306.6V539.5M236.58,306.6V539.5M266.92,306.6V539.5M297.26,306.6V539.5M24.2,320.14H327.6M24.2,347.61H327.6M24.2,375.08H327.6M24.2,402.55H327.6M24.2,430.02H327.6M24.2,457.49H327.6M24.2,484.96H327.6M24.2,512.43H327.6" stroke="#ebebeb" stroke-width="0.9" fill="none"/>
<path d="M24.2,383.62L25.11,430.72L26.02,447.61L26.93,433.62L27.84,423.33L28.75,417.47L29.66,421.56L30.57,457.25L31.48,495.65L32.39,481.1L33.3,403.12L34.21,372.6L35.12,381.93L36.03,388.21L36.94,431.44L37.85,475.24L38.76,440.29L39.67,389.83L40.58,423.33L41.49,472.45L42.4,456.35L43.31,450.56L44.22,467.05L45.13,419.46L46.04,367.78L46.95,378.51L47.87,419.49L48.78,436.98L49.69,446.13L50.6,446.5L51.51,409.32L52.42,400.57L53.33,438.63L54.24,445.38L55.15,450.27L56.06,468.48L56.97,438.05L57.88,406.44L58.79,410.71L59.7,411.13L60.61,441.66L61.52,435.64L62.43,370L63.34,466.99L64.25,504.6L65.16,335.22L66.07,357.62L66.98,506.57L67.89,474.95L68.8,456.06L69.71,462.21L70.62,411.97L71.53,397.21L72.44,406.65L73.35,410.76L74.26,466.09L75.17,474.33L76.08,388.93L76.99,402.42L77.9,436.14L78.81,408.45L79.72,436.08L80.63,450.13L81.54,441.61L82.45,439.4L83.36,434.4L84.27,438.73L85.18,432.26L86.09,408.24L87,412.4L87.91,436.05L88.82,430.96L89.73,404.51L90.64,396.44L91.55,454.42L92.47,498.75L93.38,451.05L94.29,391.69L95.2,411.93L96.11,435.06L97.02,457.81L97.93,475.84L98.84,411.08L99.75,363.88L100.66,390.09L101.57,397.71L102.48,399.09L103.39,446.72L104.3,461.82L105.21,443.89L106.12,464.54L107.03,471.56L107.94,413.8L108.85,393.61L109.76,422.73L110.67,406.92L111.58,405.92L112.49,431.96L113.4,431.94L114.31,463.89L115.22,444.02L116.13,377.25L117.04,449.97L117.95,493.46L118.86,391.45L119.77,408.09L120.68,472.16L121.59,405.36L122.5,422.9L123.41,468.5L124.32,410.42L125.23,398.8L126.14,416.4L127.05,402.18L127.96,453.64L128.87,487.32L129.78,433.97L130.69,430.41L131.6,436.55L132.51,385.01L133.42,422.99L134.33,470.45L135.24,431.75L136.15,422.63L137.06,426.3L137.97,399.07L138.89,401.53L139.8,422.44L140.71,436.58L141.62,454.04L142.53,458.84L143.44,446.13L144.35,419.79L145.26,407.79L146.17,443.95L147.08,463.33L147.99,408.78L148.9,379.41L149.81,412.06L150.72,427.65L151.63,466.36L152.54,503.82L153.45,424.47L154.36,365.86L155.27,414L156.18,416.31L157.09,445.98L158,486.22L158.91,425.52L159.82,411.01L160.73,435.43L161.64,397.15L162.55,428.37L163.46,465.5L164.37,420.54L165.28,440.02L166.19,447.44L167.1,381.08L168.01,401.61L168.92,428.77L169.83,425.99L170.74,474.84L171.65,458L172.56,414.12L173.47,428.68L174.38,416.15L175.29,414.5L176.2,468.05L177.11,457.19L178.02,393.47L178.93,384.75L179.84,406.54L180.75,455.49L181.66,433.67L182.57,394.92L183.49,442.03L184.4,449.81L185.31,433.38L186.22,442.15L187.13,430.48L188.04,432.39L188.95,452.12L189.86,409.85L190.77,384.18L191.68,430.5L192.59,420.28L193.5,400.68L194.41,454.53L195.32,487.31L196.23,470.7L197.14,405.84L198.05,382.03L198.96,435.98L199.87,439.06L200.78,387.94L201.69,414.52L202.6,475.68L203.51,482.11L204.42,435.52L205.33,393.4L206.24,432.13L207.15,448.09L208.06,385.74L208.97,398.18L209.88,393.62L210.79,360.11L211.7,494.88L212.61,516.64L213.52,426.15L214.43,451.92L215.34,447.07L216.25,401.29L217.16,440.24L218.07,430.87L218.98,374.58L219.89,431.89L220.8,469.27L221.71,385.54L222.62,431.11L223.53,491.53L224.44,418.4L225.35,401.16L226.26,439.87L227.17,428.93L228.08,429.3L229,458.14L229.91,440.17L230.82,399.32L231.73,423.54L232.64,446.94L233.55,412.82L234.46,418.44L235.37,415.75L236.28,378.68L237.19,415.73L238.1,473.36L239.01,484.51L239.92,491.35L240.83,441.94L241.74,388.76L242.65,429.98L243.56,418.33L244.47,379.71L245.38,408.65L246.29,419.76L247.2,422.52L248.11,456.92L249.02,455.63L249.93,438.5L250.84,442.79L251.75,425.24L252.66,420.03L253.57,437.76L254.48,418.79L255.39,410.76L256.3,429.77L257.21,419.18L258.12,401L259.03,427.55L259.94,490.01L260.85,497.37L261.76,407.9L262.67,385.9L263.58,442.32L264.49,430.99L265.4,432.99L266.31,423.09L267.22,379.85L268.13,416.47L269.04,482.63L269.95,442.6L270.86,391.34L271.77,458.54L272.68,476.38L273.59,397.35L274.5,397.68L275.42,466.97L276.33,473.98L277.24,412.82L278.15,387.61L279.06,406.18L279.97,411.22L280.88,422.14L281.79,470.08L282.7,501.37L283.61,503L284.52,440.36L285.43,349.21L286.34,376.02L287.25,418.22L288.16,384.17L289.07,394.14L289.98,388.3L290.89,420.22L291.8,513.58L292.71,482.08L293.62,387.58L294.53,506.05L295.44,508.12L296.35,340.81L297.26,341.96L298.17,424.45L299.08,450.62L299.99,434.52L300.9,407.62L301.81,426.81L302.72,454.17L303.63,440.82L304.54,459.21L305.45,459.42L306.36,382.66L307.27,400.02L308.18,476.22L309.09,388.6L310,355.42L310.91,497.65L311.82,500.32L312.73,370.85L313.64,400.56L314.55,437.57L315.46,405.54L316.37,477.29L317.28,504.23L318.19,421.17L319.1,371.13L320.02,409.14L320.93,434.64L321.84,418.32L322.75,441.68L323.66,475.57L324.57,463.95L325.48,448.52L326.39,416.61L327.3,376.74" stroke="#0000ff" stroke-width="1.35" fill="none" stroke-linejoin="round" clip-path="url(#cc)"/>
<path d="M24.5,457.51L25.41,442.67L26.32,514.78L27.23,440.62L28.14,353.21L29.05,377.17L29.96,420.6L30.87,455.66L31.79,413.6L32.7,396.73L33.61,466.26L34.52,462.65L35.43,394.15L36.34,409.45L37.25,447.96L38.16,424.68L39.07,433.66L39.98,446.94L40.89,440.61L41.8,469.78L42.71,435.52L43.62,384.08L44.53,421.31L45.44,444.71L46.35,411.73L47.26,418.45L48.17,451L49.08,434.82L49.99,392.86L50.9,412.95L51.81,476.92L52.72,449.21L53.63,395.46L54.54,426.34L55.45,446.05L56.36,446.92L57.27,478.88L58.18,454.17L59.09,369.37L60,376.14L60.91,411.35L61.82,369.5L62.73,387.89L63.64,451.08L64.55,467.96L65.46,499.16L66.37,492.07L67.28,430.45L68.19,415.26L69.1,436.87L70.01,431.45L70.92,407.73L71.83,397.93L72.74,417.4L73.65,448.26L74.56,445.2L75.47,417.11L76.38,423.28L77.3,449.75L78.21,427.39L79.12,401.41L80.03,443.54L80.94,463.51L81.85,421.84L82.76,414.19L83.67,438.59L84.58,451.03L85.49,440.46L86.4,413.28L87.31,408.21L88.22,397.26L89.13,393.63L90.04,477.45L90.95,504.3L91.86,425.18L92.77,391.9L93.68,410.15L94.59,418.94L95.5,442.17L96.41,426.93L97.32,397.93L98.23,468.09L99.14,512.76L100.05,394.3L100.96,341.23L101.87,499L102.78,516.93L103.69,361.79L104.6,345.55L105.51,397.33L106.42,424.87L107.33,445.09L108.24,447.1L109.15,423.41L110.06,442.39L110.97,481.77L111.88,472.68L112.79,470.93L113.7,413.11L114.61,332.13L115.52,352.38L116.43,419.64L117.34,441.01L118.25,470.45L119.16,447.11L120.07,408.19L120.98,444.24L121.89,451.15L122.81,433.96L123.72,479.32L124.63,372.08L125.54,333.39L126.45,464.36L127.36,479.27L128.27,468.11L129.18,473.66L130.09,379.26L131,386.46L131.91,455.45L132.82,414.45L133.73,413.71L134.64,470.67L135.55,436.83L136.46,408.51L137.37,435L138.28,431.24L139.19,455.78L140.1,472.14L141.01,398.8L141.92,377.62L142.83,411.87L143.74,403.34L144.65,428.81L145.56,423.94L146.47,403.14L147.38,482.22L148.29,496.91L149.2,414.23L150.11,383.57L151.02,423.96L151.93,461.54L152.84,464.79L153.75,411.49L154.66,373.83L155.57,427.13L156.48,445.78L157.39,377.93L158.3,406.62L159.21,495.45L160.12,486.02L161.03,437.54L161.94,415.12L162.85,389.56L163.76,437.61L164.67,497.15L165.58,414.53L166.49,347.55L167.4,397.8L168.31,447.31L169.23,409.83L170.14,422.7L171.05,496.09L171.96,495.98L172.87,400.77L173.78,377.26L174.69,439.42L175.6,425.24L176.51,387.42L177.42,415.63L178.33,421.5L179.24,402.88L180.15,430.27L181.06,466.37L181.97,453.17L182.88,425.53L183.79,433.86L184.7,435.57L185.61,399.76L186.52,384.29L187.43,441.17L188.34,506.95L189.25,467.85L190.16,364.21L191.07,392.28L191.98,459.91L192.89,431.86L193.8,428.32L194.71,454.35L195.62,416.13L196.53,398.83L197.44,429.69L198.35,414.77L199.26,404.97L200.17,462.9L201.08,506L201.99,487.62L202.9,408.6L203.81,395.07L204.72,408.25L205.63,370.02L206.54,375.04L207.45,373.06L208.36,382.72L209.27,483.31L210.18,453.24L211.09,424.2L212,505.73L212.91,470.86L213.83,393.69L214.74,435.99L215.65,438.79L216.56,411.23L217.47,426.18L218.38,378.76L219.29,362.3L220.2,461.45L221.11,487.85L222.02,487.5L222.93,519.29L223.84,436.52L224.75,351.45L225.66,394.27L226.57,408.99L227.48,412.05L228.39,425.98L229.3,428.9L230.21,437.1L231.12,417.26L232.03,435.66L232.94,458.09L233.85,410.96L234.76,429.58L235.67,480L236.58,435.09L237.49,422.4L238.4,424.11L239.31,364.8L240.22,396.6L241.13,455.33L242.04,428.01L242.95,453.37L243.86,461.52L244.77,427.81L245.68,453.06L246.59,438.46L247.5,422.73L248.41,448.67L249.32,390.1L250.23,399.93L251.14,443.79L252.05,386.73L252.96,419.32L253.87,477.6L254.78,441.14L255.69,418.2L256.6,407.92L257.51,398.04L258.42,469.53L259.34,493.91L260.25,428.71L261.16,452.84L262.07,419.54L262.98,332.36L263.89,395.76L264.8,499.54L265.71,445.55L266.62,405.56L267.53,419.56L268.44,421.31L269.35,412.39L270.26,428.4L271.17,458.76L272.08,450.9L272.99,426.51L273.9,438.65L274.81,443.67L275.72,414.43L276.63,402.7L277.54,410.78L278.45,411.91L279.36,391.71L280.27,403.73L281.18,494.58L282.09,486.77L283,377.42L283.91,417.4L284.82,492.17L285.73,436.39L286.64,389.96L287.55,426.14L288.46,433.7L289.37,415.88L290.28,444.8L291.19,461.69L292.1,436.44L293.01,423.29L293.92,400.58L294.83,387.45L295.74,375.91L296.65,377.46L297.56,486.32L298.47,498.53L299.38,415.91L300.29,486.17L301.2,504.82L302.11,355.99L303.02,343.01L303.93,452.53L304.85,467.42L305.76,425.73L306.67,412.2L307.58,425.33L308.49,461.78L309.4,439.61L310.31,413.64L311.22,446.06L312.13,432.72L313.04,428.76L313.95,436.39L314.86,352.37L315.77,368.24L316.68,506.68L317.59,496.56L318.5,450.89L319.41,457.43L320.32,404.33L321.23,396.72L322.14,426.82L323.05,415.52L323.96,433.18L324.87,410.56L325.78,365.71L326.69,453.17L327.6,504.1" stroke="#ff0000" stroke-width="1.35" fill="none" stroke-linejoin="round" clip-path="url(#cc)"/>
<path d="M24.81,485.11L25.72,404.49L26.63,436.57L27.54,471.25L28.45,435.4L29.36,406.96L30.27,403.45L31.18,431.6L32.09,441.82L33,406.43L33.91,420.21L34.82,438.77L35.73,401.94L36.64,417.69L37.55,458.91L38.46,469.78L39.37,479.1L40.28,428.39L41.19,375.95L42.1,421.44L43.01,450.64L43.92,413.14L44.83,409.78L45.74,407.33L46.65,416.03L47.56,473.84L48.47,453.17L49.38,385.76L50.29,441.93L51.2,491.44L52.11,440.82L53.02,434.79L53.93,449.88L54.84,375.12L55.75,363.66L56.66,438.69L57.57,454.64L58.48,428.75L59.39,429.59L60.3,434.09L61.21,464.81L62.12,475.55L63.04,439.73L63.95,416.48L64.86,378.16L65.77,370.76L66.68,451.07L67.59,466.97L68.5,426.68L69.41,478.16L70.32,462.66L71.23,350.96L72.14,385.79L73.05,478.6L73.96,428.2L74.87,419.45L75.78,443.97L76.69,439.18L77.6,453.31L78.51,450.75L79.42,416.81L80.33,403.78L81.24,432.93L82.15,432.94L83.06,392.33L83.97,435.73L84.88,490.67L85.79,411.55L86.7,400.18L87.61,484.72L88.52,429.53L89.43,393.21L90.34,434.62L91.25,415.96L92.16,436.09L93.07,466.01L93.98,407.73L94.89,397.32L95.8,471.06L96.71,474.79L97.62,382.04L98.53,335.5L99.44,380.63L100.35,515.69L101.26,513.89L102.17,462.49L103.08,489.6L103.99,498.15L104.9,441.49L105.81,362.43L106.72,360.81L107.64,404.29L108.55,393.99L109.46,405.44L110.37,481.11L111.28,484.42L112.19,404.48L113.1,389.64L114.01,456L114.92,469.51L115.83,413.7L116.74,405.48L117.65,480.98L118.56,495.45L119.47,423.38L120.38,379.78L121.29,390.51L122.2,409.1L123.11,418.58L124.02,425.75L124.93,435.51L125.84,437.37L126.75,448.88L127.66,497.26L128.57,510.53L129.48,434.06L130.39,370.33L131.3,393.91L132.21,385.82L133.12,368.29L134.03,429.39L134.94,468.9L135.85,414.62L136.76,405.37L137.67,455.59L138.58,451.78L139.49,450.66L140.4,470.27L141.31,408.43L142.22,406.96L143.13,502.95L144.04,451.18L144.95,352.1L145.86,381.07L146.77,369.69L147.68,352.34L148.59,449.6L149.5,504.9L150.41,484.27L151.32,477.43L152.23,456.68L153.15,414.17L154.06,432.61L154.97,448.88L155.88,414.51L156.79,377.52L157.7,359.52L158.61,381.74L159.52,439.73L160.43,465.93L161.34,466.72L162.25,457.72L163.16,430.95L164.07,411.02L164.98,398.72L165.89,366.19L166.8,391.46L167.71,486.28L168.62,474.86L169.53,453.19L170.44,469.26L171.35,419.97L172.26,407.78L173.17,453.49L174.08,417.11L174.99,367.31L175.9,406.11L176.81,392.45L177.72,387.85L178.63,537.46L179.54,538.13L180.45,409.14L181.36,417.28L182.27,466.37L183.18,444.83L184.09,410.45L185,383.04L185.91,384.98L186.82,420.57L187.73,457.78L188.64,463.28L189.55,439.55L190.46,429.97L191.37,450.77L192.28,447.68L193.19,411.77L194.1,403.69L195.01,429.22L195.92,424.69L196.83,389.74L197.74,407.73L198.66,471.53L199.57,469.9L200.48,425.1L201.39,433.78L202.3,451.08L203.21,420.45L204.12,409.41L205.03,435.69L205.94,421.2L206.85,399.4L207.76,457L208.67,471.22L209.58,405.46L210.49,452.27L211.4,464.46L212.31,383.1L213.22,415.36L214.13,426.76L215.04,396.29L215.95,457.28L216.86,476.46L217.77,414.7L218.68,394.89L219.59,425.27L220.5,473.89L221.41,459.55L222.32,376.92L223.23,401.34L224.14,455.63L225.05,427.03L225.96,439.29L226.87,422.36L227.78,365.74L228.69,441.67L229.6,517.58L230.51,470L231.42,399.83L232.33,409.25L233.24,418.8L234.15,420.46L235.06,419.37L235.97,413.01L236.88,421.92L237.79,450.82L238.7,458.52L239.61,436.48L240.52,447.92L241.43,457.96L242.34,404.74L243.25,397.84L244.17,384.98L245.08,363.84L245.99,441.81L246.9,457.12L247.81,419.79L248.72,473.76L249.63,471.08L250.54,411.88L251.45,417.83L252.36,403.65L253.27,395.28L254.18,453.45L255.09,452.54L256,421.08L256.91,437.77L257.82,433.11L258.73,421.4L259.64,443.04L260.55,444.03L261.46,411.8L262.37,395.27L263.28,418.54L264.19,458.3L265.1,461.69L266.01,440.83L266.92,418.27L267.83,401.23L268.74,422.86L269.65,431.84L270.56,421.75L271.47,466.05L272.38,462.41L273.29,397.51L274.2,419.34L275.11,453.32L276.02,411.96L276.93,406.08L277.84,442.32L278.75,432.81L279.66,409.5L280.57,437.09L281.48,458.62L282.39,418.48L283.3,411.62L284.21,468.44L285.12,461.73L286.03,416.03L286.94,414.7L287.85,379.3L288.76,376.3L289.68,458.95L290.59,453.05L291.5,406.14L292.41,453.5L293.32,486.79L294.23,429.23L295.14,371.36L296.05,432.08L296.96,496.28L297.87,435.43L298.78,383.51L299.69,409.26L300.6,405.22L301.51,450.34L302.42,472.64L303.33,378.75L304.24,390.94L305.15,458.73L306.06,453.82L306.97,476.68L307.88,446.3L308.79,377.63L309.7,435.8L310.61,466.87L311.52,369L312.43,383.18L313.34,486.28L314.25,471.51L315.16,410.9L316.07,390.82L316.98,419.6L317.89,434.57L318.8,419.83L319.71,476.68L320.62,498.05L321.53,429.37L322.44,391.95L323.35,388.08L324.26,372.1L325.17,403.91L326.08,422.64L326.99,444.33" stroke="#edb120" stroke-width="1.35" fill="none" stroke-linejoin="round" clip-path="url(#cc)"/>
<rect x="24.2" y="306.6" width="303.4" height="232.9" fill="none" stroke="#888888" stroke-width="1"/>
<path d="M24.2,539.5v-2.6M24.2,306.6v2.6M54.54,539.5v-2.6M54.54,306.6v2.6M84.88,539.5v-2.6M84.88,306.6v2.6M115.22,539.5v-2.6M115.22,306.6v2.6M145.56,539.5v-2.6M145.56,306.6v2.6M175.9,539.5v-2.6M175.9,306.6v2.6M206.24,539.5v-2.6M206.24,306.6v2.6M236.58,539.5v-2.6M236.58,306.6v2.6M266.92,539.5v-2.6M266.92,306.6v2.6M297.26,539.5v-2.6M297.26,306.6v2.6M327.6,539.5v-2.6M327.6,306.6v2.6M24.2,320.14h2.6M327.6,320.14h-2.6M24.2,347.61h2.6M327.6,347.61h-2.6M24.2,375.08h2.6M327.6,375.08h-2.6M24.2,402.55h2.6M327.6,402.55h-2.6M24.2,430.02h2.6M327.6,430.02h-2.6M24.2,457.49h2.6M327.6,457.49h-2.6M24.2,484.96h2.6M327.6,484.96h-2.6M24.2,512.43h2.6M327.6,512.43h-2.6M24.2,539.9h2.6M327.6,539.9h-2.6" stroke="#888888" stroke-width="0.8" fill="none"/>
<text x="24.2" y="550" text-anchor="middle" class="tk">0</text>
<text x="54.54" y="550" text-anchor="middle" class="tk">1</text>
<text x="84.88" y="550" text-anchor="middle" class="tk">2</text>
<text x="115.22" y="550" text-anchor="middle" class="tk">3</text>
<text x="145.56" y="550" text-anchor="middle" class="tk">4</text>
<text x="175.9" y="550" text-anchor="middle" class="tk">5</text>
<text x="206.24" y="550" text-anchor="middle" class="tk">6</text>
<text x="236.58" y="550" text-anchor="middle" class="tk">7</text>
<text x="266.92" y="550" text-anchor="middle" class="tk">8</text>
<text x="297.26" y="550" text-anchor="middle" class="tk">9</text>
<text x="327.6" y="550" text-anchor="middle" class="tk">10</text>
<text x="21.4" y="323.04" text-anchor="end" class="tk">8</text>
<text x="21.4" y="350.51" text-anchor="end" class="tk">6</text>
<text x="21.4" y="377.98" text-anchor="end" class="tk">4</text>
<text x="21.4" y="405.45" text-anchor="end" class="tk">2</text>
<text x="21.4" y="432.92" text-anchor="end" class="tk">0</text>
<text x="21.4" y="460.39" text-anchor="end" class="tk">-2</text>
<text x="21.4" y="487.86" text-anchor="end" class="tk">-4</text>
<text x="21.4" y="515.33" text-anchor="end" class="tk">-6</text>
<text x="21.4" y="542.8" text-anchor="end" class="tk">-8</text>
<rect x="41.3" y="311.2" width="41.8" height="26.5" fill="#fff" stroke="#888888" stroke-width="0.9"/>
<path d="M42.9,315.8H59.3" stroke="#0000ff" stroke-width="1.5"/>
<text x="60.8" y="318.3" class="lg" font-size="6.85">OSMC</text>
<path d="M42.9,324.3H59.3" stroke="#ff0000" stroke-width="1.5"/>
<text x="60.8" y="326.8" class="lg" font-size="6.85">PID</text>
<path d="M42.9,332.7H59.3" stroke="#edb120" stroke-width="1.5"/>
<text x="60.8" y="335.2" class="lg" font-size="6.85">None</text>
<text x="176.2" y="559.9" text-anchor="middle" class="tk">Time (s)</text>
<text transform="translate(12,423.05) rotate(-90)" text-anchor="middle" class="yl">Acceleration of the sprung mass (m/s<tspan dy="-3.9" font-size="6.2">2</tspan><tspan dy="3.9">)</tspan></text>
<text x="178.4" y="584.6" text-anchor="middle" class="lt">c</text>
<path d="M404.86,307.3V539.7M435.16,307.3V539.7M465.47,307.3V539.7M495.77,307.3V539.7M526.08,307.3V539.7M556.38,307.3V539.7M586.68,307.3V539.7M616.99,307.3V539.7M647.3,307.3V539.7M374.55,326.67H677.6M374.55,375.08H677.6M374.55,423.5H677.6M374.55,471.92H677.6M374.55,520.33H677.6" stroke="#ebebeb" stroke-width="0.9" fill="none"/>
<path d="M374.55,471.54L375.16,436.48L375.76,368.54L376.37,462.41L376.97,371.99L377.58,403.12L378.19,455.5L378.79,379.62L379.4,496.45L380,445.6L380.61,439.67L381.22,386.91L381.82,385.23L382.43,420L383.04,454.54L383.64,422.45L384.25,393.4L384.85,431.02L385.46,443.54L386.07,437.19L386.67,366.64L387.28,442.38L387.88,417.77L388.49,441.07L389.1,443.45L389.7,413.07L390.31,435.97L390.91,459.7L391.52,403.65L392.13,369.06L392.73,399.01L393.34,448.48L393.95,415.91L394.55,441.26L395.16,424.67L395.76,437.77L396.37,420.03L396.98,422.62L397.58,488.05L398.19,386.1L398.79,436.54L399.4,417.19L400.01,427.09L400.61,408.02L401.22,420.63L401.82,389.75L402.43,416.04L403.04,459.52L403.64,414.67L404.25,431.76L404.86,440.99L405.46,437.52L406.07,402.13L406.67,403.51L407.28,425.7L407.89,403.96L408.49,433.82L409.1,464.51L409.7,433.97L410.31,366.09L410.92,389.67L411.52,420.04L412.13,488.21L412.73,434.44L413.34,439.84L413.95,410.84L414.55,405.1L415.16,398.15L415.76,384.66L416.37,465.57L416.98,464.34L417.58,389.66L418.19,434.51L418.8,428.09L419.4,378.45L420.01,465.43L420.61,445.07L421.22,409.32L421.83,407.43L422.43,454.72L423.04,383.29L423.64,411.96L424.25,428.69L424.86,451.87L425.46,419.49L426.07,404.99L426.67,395.95L427.28,478.17L427.89,441.09L428.49,447.46L429.1,405.13L429.71,356.76L430.31,447.59L430.92,401.94L431.52,483.79L432.13,345.04L432.74,487.74L433.34,344.59L433.95,449.28L434.55,440.01L435.16,452.46L435.77,475.83L436.37,406.47L436.98,423.15L437.58,439.78L438.19,386.81L438.8,387.79L439.4,419.85L440.01,454.11L440.61,453.17L441.22,383.03L441.83,395.58L442.43,408.35L443.04,454.9L443.65,447.1L444.25,462.91L444.86,409.43L445.46,457.76L446.07,386.28L446.68,423.52L447.28,410.49L447.89,369.16L448.49,438.58L449.1,432.06L449.71,416.64L450.31,471.68L450.92,431.87L451.52,445.83L452.13,407.82" stroke="#0000ff" stroke-width="1.35" fill="none" stroke-linejoin="round" clip-path="url(#cd)"/>
<path d="M374.55,439.24L375.16,426.24L375.76,405.98L376.37,414.94L376.97,425.41L377.58,409.79L378.19,402.47L378.79,438.3L379.4,467.89L380,435.44L380.61,390.39L381.22,432.07L381.82,483.04L382.43,440.37L383.04,372.14L383.64,399.65L384.25,452.28L384.85,427.13L385.46,379.08L386.07,381.68L386.67,434.07L387.28,474.02L387.88,456.98L388.49,394.42L389.1,374.31L389.7,420.66L390.31,465.49L390.91,430.57L391.52,364.45L392.13,368.06L392.73,451.55L393.34,499.64L393.95,498.79L394.55,477.1L395.16,429.71L395.76,373.6L396.37,357.1L396.98,373.01L397.58,401.43L398.19,424.37L398.79,443.26L399.4,443.84L400.01,422.01L400.61,408.8L401.22,417.12L401.82,420.86L402.43,414.17L403.04,424.46L403.64,447.84L404.25,446.54L404.86,421.17L405.46,417.38L406.07,442.27L406.67,447.07L407.28,416.85L407.89,399.78L408.49,418.55L409.1,427.33L409.7,395.82L410.31,372.72L410.92,391.34L411.52,438.1L412.13,465.26L412.73,463.58L413.34,433.14L413.95,393.79L414.55,400.47L415.16,459.35L415.76,479.43L416.37,423.33L416.98,372.56L417.58,416.38L418.19,478.4L418.8,440.11L419.4,357.18L420.01,359.13L420.61,426.29L421.22,457.38L421.83,445.63L422.43,440.95L423.04,423.39L423.64,394.29L424.25,407.51L424.86,448.48L425.46,444.16L426.07,407.89L426.67,414.78L427.28,451.81L427.89,444.18L428.49,404.65L429.1,408.58L429.71,431.42L430.31,400.84L430.92,376.38L431.52,431.44L432.13,484.74L432.74,455.58L433.34,390.57L433.95,398.15L434.55,447.19L435.16,453.23L435.77,412.55L436.37,381.48L436.98,389.61L437.58,421.72L438.19,431.71L438.8,409.8L439.4,417.91L440.01,482.6L440.61,504.87L441.22,467.41L441.83,404.38L442.43,433.5L443.04,448.16L443.65,380.14L444.25,350.51L444.86,373.21L445.46,410.13L446.07,420.06L446.68,430.71L447.28,444.54L447.89,437.51L448.49,418.11L449.1,418.3L449.71,438.49L450.31,450.81L450.92,446.41L451.52,432.4L452.13,412.66" stroke="#ff0000" stroke-width="1.35" fill="none" stroke-linejoin="round" clip-path="url(#cd)"/>
<path d="M374.55,502.8L375.16,473.14L375.76,459.19L376.37,460.8L376.97,438.12L377.58,400.88L378.19,387.18L378.79,388.98L379.4,382.84L380,378.26L380.61,398.23L381.22,437.48L381.82,461.77L382.43,464.42L383.04,451.27L383.64,419.36L384.25,386.67L384.85,385.13L385.46,412.24L386.07,426.99L386.67,416.35L387.28,423.98L387.88,463.02L388.49,481.33L389.1,459.35L389.7,427.35L390.31,430.02L390.91,439.03L391.52,407.73L392.13,361.74L392.73,352.54L393.34,385.27L393.95,442.14L394.55,469.19L395.16,470.47L395.76,460.91L396.37,435.98L396.98,403.2L397.58,401.92L398.19,437.39L398.79,452L399.4,425.01L400.01,417.29L400.61,453.64L401.22,463.85L401.82,419.47L402.43,383.85L403.04,392.39L403.64,399.23L404.25,378.29L404.86,376.03L405.46,427.27L406.07,479.43L406.67,472.26L407.28,420.74L407.89,401.44L408.49,434.78L409.1,454.74L409.7,426.84L410.31,399.51L410.92,420.28L411.52,455.07L412.13,447.75L412.73,403.72L413.34,379.15L413.95,394.18L414.55,428.59L415.16,442.88L415.76,424.78L416.37,396.66L416.98,393.75L417.58,426.96L418.19,461.8L418.8,456.78L419.4,419.63L420.01,405.68L420.61,433.64L421.22,454.31L421.83,436.56L422.43,411.94L423.04,416.13L423.64,428.47L424.25,420.03L424.86,408L425.46,417.39L426.07,428.55L426.67,412.45L427.28,397.39L427.89,429.48L428.49,474.53L429.1,459.14L429.71,384.74L430.31,362.18L430.92,409.97L431.52,458.13L432.13,447.3L432.74,426.15L433.34,433.44L433.95,436.85L434.55,416.84L435.16,406.75L435.77,425.17L436.37,440.75L436.98,427.32L437.58,405.92L438.19,404.09L438.8,411.25L439.4,414.37L440.01,433.49L440.61,464.99L441.22,457.9L441.83,398.84L442.43,370.94L443.04,405.41L443.65,450.16L444.25,450.2L444.86,429.14L445.46,413.84L446.07,409.6L446.68,427.84L447.28,459.43L447.89,455.47L448.49,395.53L449.1,361.7L449.71,408.91L450.31,485.5L450.92,473.14L451.52,382.13L452.13,361.97" stroke="#edb120" stroke-width="1.35" fill="none" stroke-linejoin="round" clip-path="url(#cd)"/>
<path d="M450.31,471.68L450.92,431.87L451.52,445.83L452.13,407.82L452.74,381.68L453.34,401.94L453.95,452.25L454.56,417.6L455.16,424.62L455.77,467.07L456.37,406.78L456.98,430.66L457.59,385.84L458.19,437.61L458.8,416.22L459.4,438.52L460.01,383.94L460.62,450.39L461.22,426.44L461.83,424.18L462.43,418.41L463.04,431.93L463.65,445.94L464.25,401.15L464.86,457.84L465.47,397.47L466.07,428.89L466.68,428.8L467.28,399.53L467.89,361.39L468.5,393.91L469.1,491.62L469.71,467.83L470.31,451.32L470.92,504.32L471.53,356.85L472.13,353.53L472.74,348.86L473.34,425.21L473.95,477.95L474.56,473.13L475.16,447.98L475.77,436.59L476.37,433.19L476.98,374.52L477.59,372.25L478.19,393.96L478.8,463.54L479.41,440.67L480.01,479.29L480.62,414.01L481.22,425.9L481.83,443.4L482.44,396.4L483.04,409.53L483.65,347.47L484.25,445.18L484.86,378.22L485.47,467.41L486.07,507.7L486.68,378.16L487.28,381.83L487.89,443.4L488.5,429.62L489.1,424.21L489.71,411.74L490.32,430.79L490.92,442.83L491.53,412.7L492.13,409.54L492.74,404.7L493.35,435.47L493.95,406.07L494.56,449.57L495.16,440.89L495.77,428.97L496.38,447.73L496.98,387.1L497.59,427.44L498.19,447.97L498.8,384.02L499.41,438.82L500.01,424.02L500.62,394.18L501.22,434.24L501.83,381.81L502.44,458.87L503.04,458.2L503.65,442.88L504.26,396.87L504.86,450.33L505.47,435.09L506.07,436.14L506.68,437.42L507.29,398.44L507.89,404.08L508.5,353.44L509.1,410.85L509.71,464.39L510.32,393.16L510.92,435.17L511.53,448.33L512.13,441.85L512.74,439.65L513.35,408.97L513.95,444.91L514.56,401.87L515.17,414.96L515.77,410.96L516.38,387.19L516.98,447.45L517.59,449.76L518.2,387.32L518.8,427.51L519.41,435.91L520.01,444.12L520.62,435.8L521.23,425.63L521.83,409.67L522.44,414.4L523.04,480.32L523.65,364.98L524.26,386.29L524.86,412.94L525.47,424.06L526.08,451.55L526.68,464.32L527.29,468.37L527.89,384.86L528.5,411.45L529.11,418.63L529.71,419.04L530.32,386.44L530.92,474.87L531.53,391.06L532.14,403.08L532.74,467L533.35,414.88L533.95,459.46L534.56,442.37L535.17,399.75L535.77,351.58L536.38,398.81L536.98,442.53L537.59,384.52L538.2,503.61L538.8,443.31L539.41,413.5L540.02,490.22L540.62,359.75L541.23,425.37L541.83,418.44L542.44,395.21L543.05,406.92L543.65,450.27L544.26,431.47L544.86,433.72L545.47,462.64L546.08,380.19L546.68,425.83L547.29,414.83L547.89,417.27L548.5,386.67L549.11,404.3L549.71,451.93L550.32,466.6L550.93,434.36L551.53,432.01L552.14,432.19L552.74,397.97L553.35,418.21L553.96,417.76L554.56,422.15L555.17,430.89L555.77,408.89L556.38,398.96L556.99,435.24L557.59,450.84L558.2,461.46L558.8,424.16L559.41,402.88L560.02,445.29L560.62,382.14L561.23,363.72L561.83,467.15L562.44,466.68L563.05,441.58L563.65,399.59L564.26,364.46L564.87,448.24L565.47,421.6" stroke="#0000ff" stroke-width="1.35" fill="none" stroke-linejoin="round" clip-path="url(#cd)"/>
<path d="M450.31,450.81L450.92,446.41L451.52,432.4L452.13,412.66L452.74,404.67L453.34,420.87L453.95,425.46L454.56,396.23L455.16,381.85L455.77,399.72L456.37,412.84L456.98,410.89L457.59,428.03L458.19,455.09L458.8,454.75L459.4,434.39L460.01,426.86L460.62,424.07L461.22,408.39L461.83,416.64L462.43,456.31L463.04,444.6L463.65,371.01L464.25,361.54L464.86,433.65L465.47,469.38L466.07,432.55L466.68,417.17L467.28,441.87L467.89,433.22L468.5,397.35L469.1,392.02L469.71,404.82L470.31,401.95L470.92,411.55L471.53,460.24L472.13,488.27L472.74,472.25L473.34,422.87L473.95,392.38L474.56,409.71L475.16,460.18L475.77,462.83L476.37,385.42L476.98,349.71L477.59,391L478.19,466.14L478.8,457.79L479.41,404.51L480.01,393.97L480.62,420.28L481.22,436.37L481.83,437.36L482.44,437.89L483.04,430.22L483.65,416.33L484.25,419.3L484.86,435.01L485.47,434.26L486.07,416.65L486.68,404.45L487.28,400.45L487.89,405.26L488.5,434.31L489.1,467.5L489.71,462.42L490.32,418.47L490.92,389.25L491.53,384.49L492.13,377.59L492.74,391.36L493.35,460.56L493.95,498.86L494.56,475.97L495.16,391.35L495.77,363.72L496.38,400.09L496.98,454.95L497.59,461.02L498.19,423.96L498.8,386.08L499.41,380.3L500.01,402.06L500.62,443.75L501.22,488.05L501.83,505.86L502.44,483.9L503.04,370.95L503.65,331.71L504.26,338L504.86,390.69L505.47,451.99L506.07,465.26L506.68,456.44L507.29,444.15L507.89,434.83L508.5,421.76L509.1,406.74L509.71,407.22L510.32,426.62L510.92,441.3L511.53,439.91L512.13,441.52L512.74,446L513.35,417.52L513.95,372.12L514.56,375.3L515.17,428.09L515.77,430.93L516.38,373.7L516.98,375.24L517.59,466.45L518.2,502.12L518.8,469.03L519.41,402.86L520.01,415.29L520.62,456.61L521.23,432.47L521.83,365.99L522.44,354.47L523.04,402.93L523.65,459.89L524.26,455.39L524.86,435.44L525.47,445.53L526.08,447.6L526.68,413.33L527.29,395.78L527.89,419.24L528.5,424.9L529.11,390.76L529.71,389.24L530.32,455.02L530.92,493.3L531.53,461.91L532.14,374.65L532.74,355.98L533.35,401.47L533.95,458.8L534.56,457.24L535.17,434.59L535.77,440.2L536.38,449.48L536.98,418.83L537.59,380.14L538.2,387.16L538.8,427.96L539.41,439.33L540.02,413.9L540.62,400.96L541.23,415.66L541.83,435.54L542.44,448.23L543.05,448.56L543.65,429.88L544.26,420.34L544.86,450.18L545.47,473.72L546.08,445.82L546.68,385.07L547.29,362.76L547.89,371.33L548.5,400.68L549.11,443.66L549.71,463.28L550.32,441.72L550.93,415.71L551.53,435.9L552.14,460.66L552.74,432.04L553.35,385.22L553.96,390.25L554.56,416.6L555.17,405.09L555.77,402.28L556.38,451.18L556.99,469.57L557.59,430.95L558.2,429.78L558.8,478.73L559.41,469.74L560.02,386.17L560.62,356.32L561.23,381.85L561.83,419.36L562.44,430.22L563.05,427.23L563.65,420.62L564.26,425.32L564.87,447.15L565.47,450.99" stroke="#ff0000" stroke-width="1.35" fill="none" stroke-linejoin="round" clip-path="url(#cd)"/>
<path d="M564.26,364.46L564.87,448.24L565.47,421.6L566.08,467.29L566.68,435.27L567.29,400.96L567.9,400.37L568.5,428.87L569.11,501.71L569.71,337.96L570.32,391.73L570.93,443.82L571.53,506.05L572.14,391.67L572.74,391.23L573.35,410.11L573.96,413.56L574.56,429.76L575.17,364.95L575.78,498.82L576.38,427.78L576.99,409.56L577.59,451.05L578.2,422.54L578.81,423.73L579.41,360.63L580.02,411.47L580.62,424.36L581.23,436.22L581.84,396.88L582.44,440.92L583.05,481.45L583.65,460.81L584.26,394.71L584.87,384.17L585.47,426.36L586.08,444.42L586.68,423L587.29,383.83L587.9,415.17L588.5,399.14L589.11,473.45L589.72,416.27L590.32,440.99L590.93,438.12L591.53,384.37L592.14,456.95L592.75,412.48L593.35,387.47L593.96,450.1L594.56,421.36L595.17,407.58L595.78,452.03L596.38,393.51L596.99,451.2L597.59,444.44L598.2,386.89L598.81,395.89L599.41,448.45L600.02,416.77L600.63,455.04L601.23,427.57L601.84,459.8L602.44,391.51L603.05,380.42L603.66,460.62L604.26,402.78L604.87,451.68L605.47,443.21L606.08,385.68L606.69,420.24L607.29,444.73L607.9,386.69L608.5,397.21L609.11,411.31L609.72,475.18L610.32,459.81L610.93,452.7L611.54,406.69L612.14,379.37L612.75,389.81L613.35,415.63L613.96,452.32L614.57,390.24L615.17,398.22L615.78,435.77L616.38,454.81L616.99,442.98L617.6,411.13L618.2,418.09L618.81,425.91L619.41,424.84L620.02,427.42L620.63,441.89L621.23,411.12L621.84,385.65L622.44,439.2L623.05,401.18L623.66,459.9L624.26,463.5L624.87,371.47L625.48,452.7L626.08,432.45L626.69,386.51L627.29,392.73L627.9,475.82L628.51,458.63L629.11,431.02L629.72,442.84L630.32,377.33L630.93,441.62L631.54,402.73L632.14,418.13L632.75,389.79L633.35,431.32L633.96,449.99L634.57,458.18L635.17,392.61L635.78,373.7L636.39,492.57L636.99,476.45L637.6,464.96L638.2,342.66L638.81,349.24L639.42,417.37L640.02,448.75L640.63,383.65L641.23,481.19L641.84,477.4L642.45,390.17L643.05,401.17L643.66,402.71L644.26,425.73L644.87,444.43L645.48,450.57L646.08,411.74L646.69,415.5L647.3,453.95L647.9,382.55L648.51,415.56L649.11,414.19L649.72,443.23L650.33,405.7L650.93,425.23L651.54,445.15L652.14,421.84L652.75,466.2L653.36,394.36L653.96,405.16L654.57,399.08L655.17,464.34L655.78,427.97L656.39,426.28L656.99,389.4L657.6,418.6L658.2,443.13L658.81,428.32L659.42,441.38L660.02,395.34L660.63,387.45L661.24,462.91L661.84,451.6L662.45,431.36L663.05,421.97L663.66,366.99L664.27,426.77L664.87,439.51L665.48,448.48L666.08,440.04L666.69,400.21L667.3,395.43L667.9,463L668.51,420.44L669.11,428.39L669.72,370.05L670.33,430.75L670.93,418.28L671.54,450.27L672.15,484.98L672.75,385.54L673.36,446.81L673.96,401.05L674.57,380.55L675.18,418.32L675.78,418.46L676.39,456.87L676.99,419.76L677.6,423.28" stroke="#0000ff" stroke-width="1.35" fill="none" stroke-linejoin="round" clip-path="url(#cd)"/>
<path d="M565.47,423.5H677.6" stroke="#ff0000" stroke-width="1.1"/>
<path d="M452.13,423.5H677.6" stroke="#edb120" stroke-width="1.1"/>
<rect x="374.55" y="307.3" width="303.05" height="232.4" fill="none" stroke="#888888" stroke-width="1"/>
<path d="M374.55,539.7v-2.6M374.55,307.3v2.6M404.86,539.7v-2.6M404.86,307.3v2.6M435.16,539.7v-2.6M435.16,307.3v2.6M465.47,539.7v-2.6M465.47,307.3v2.6M495.77,539.7v-2.6M495.77,307.3v2.6M526.08,539.7v-2.6M526.08,307.3v2.6M556.38,539.7v-2.6M556.38,307.3v2.6M586.68,539.7v-2.6M586.68,307.3v2.6M616.99,539.7v-2.6M616.99,307.3v2.6M647.3,539.7v-2.6M647.3,307.3v2.6M677.6,539.7v-2.6M677.6,307.3v2.6M374.55,326.67h2.6M677.6,326.67h-2.6M374.55,375.08h2.6M677.6,375.08h-2.6M374.55,423.5h2.6M677.6,423.5h-2.6M374.55,471.92h2.6M677.6,471.92h-2.6M374.55,520.33h2.6M677.6,520.33h-2.6" stroke="#888888" stroke-width="0.8" fill="none"/>
<text x="374.55" y="550.2" text-anchor="middle" class="tk">0</text>
<text x="404.86" y="550.2" text-anchor="middle" class="tk">1</text>
<text x="435.16" y="550.2" text-anchor="middle" class="tk">2</text>
<text x="465.47" y="550.2" text-anchor="middle" class="tk">3</text>
<text x="495.77" y="550.2" text-anchor="middle" class="tk">4</text>
<text x="526.08" y="550.2" text-anchor="middle" class="tk">5</text>
<text x="556.38" y="550.2" text-anchor="middle" class="tk">6</text>
<text x="586.68" y="550.2" text-anchor="middle" class="tk">7</text>
<text x="616.99" y="550.2" text-anchor="middle" class="tk">8</text>
<text x="647.3" y="550.2" text-anchor="middle" class="tk">9</text>
<text x="677.6" y="550.2" text-anchor="middle" class="tk">10</text>
<text x="371.75" y="329.57" text-anchor="end" class="tk">10</text>
<text x="371.75" y="377.98" text-anchor="end" class="tk">5</text>
<text x="371.75" y="426.4" text-anchor="end" class="tk">0</text>
<text x="371.75" y="474.82" text-anchor="end" class="tk">-5</text>
<text x="371.75" y="523.23" text-anchor="end" class="tk">-10</text>
<rect x="621.6" y="505.3" width="41.8" height="26.3" fill="#fff" stroke="#888888" stroke-width="0.9"/>
<path d="M623.3,510.6H639.6" stroke="#0000ff" stroke-width="1.5"/>
<text x="641.1" y="513.1" class="lg" font-size="6.85">OSMC</text>
<path d="M623.3,518.5H639.6" stroke="#ff0000" stroke-width="1.5"/>
<text x="641.1" y="521" class="lg" font-size="6.85">PID</text>
<path d="M623.3,527.2H639.6" stroke="#edb120" stroke-width="1.5"/>
<text x="641.1" y="529.7" class="lg" font-size="6.85">None</text>
<text x="526.2" y="560.1" text-anchor="middle" class="tk">Time (s)</text>
<text transform="translate(358.9,423.5) rotate(-90)" text-anchor="middle" class="yl">Acceleration of the sprung mass (m/s<tspan dy="-3.9" font-size="6.2">2</tspan><tspan dy="3.9">)</tspan></text>
<text x="523.2" y="584.8" text-anchor="middle" class="lt">d</text>
<ellipse cx="452.9" cy="422.8" rx="7.2" ry="6.8" fill="none" stroke="#15152a" stroke-width="0.95"/>
<ellipse cx="565.5" cy="423.4" rx="7.4" ry="7.2" fill="none" stroke="#15152a" stroke-width="0.95"/>
<path d="M456.2,428.7L478.34,490.31" stroke="#111" stroke-width="0.7"/>
<path d="M480.1,495.2L476.27,491.05L480.41,489.56Z" fill="#111"/>
<path d="M570.6,417.4L603.2,351.46" stroke="#111" stroke-width="0.7"/>
<path d="M605.5,346.8L605.17,352.44L601.22,350.49Z" fill="#111"/>
<rect x="594.45" y="312.2" width="36.75" height="31.2" fill="#fff"/>
<path d="M612.83,312.2V343.4M594.45,327.8H631.2" stroke="#ebebeb" stroke-width="0.6" fill="none"/>
<clipPath id="ci1"><rect x="594.45" y="312.2" width="36.75" height="31.2"/></clipPath>
<path d="M594.45,304.4L594.5,304.98L594.54,305.57L594.59,306.16L594.63,306.74L594.68,307.33L594.73,307.91L594.77,308.5L594.82,309.08L594.86,309.08L594.91,309.08L594.96,309.08L595,309.08L595.05,309.08L595.09,309.08L595.14,309.08L595.19,309.08L595.23,310.25L595.28,311.42L595.32,312.59L595.37,313.76L595.41,314.93L595.46,316.1L595.51,317.27L595.55,318.44L595.6,319.61L595.64,320.78L595.69,321.95L595.74,323.12L595.78,324.29L595.83,325.46L595.87,326.63L595.92,327.8L595.97,328.97L596.01,330.14L596.06,331.31L596.1,332.48L596.15,332.68L596.2,332.87L596.24,333.06L596.29,333.26L596.33,333.46L596.38,333.65L596.43,333.84L596.47,334.04L596.52,334.24L596.56,334.43L596.61,334.63L596.66,334.82L596.7,335.01L596.75,335.21L596.79,335.41L596.84,335.6L596.88,335.21L596.93,334.82L596.98,334.43L597.02,334.04L597.07,333.65L597.11,333.26L597.16,332.87L597.21,332.48L597.25,332.09L597.3,331.7L597.34,331.31L597.39,330.92L597.44,329.1L597.48,327.28L597.53,325.46L597.57,323.64L597.62,321.82L597.67,320L597.71,318.18L597.76,316.36L597.8,314.54L597.85,312.72L597.9,310.9L597.94,309.08L597.99,308.89L598.03,308.69L598.08,308.49L598.12,308.3L598.17,308.11L598.22,307.91L598.26,307.72L598.31,307.52L598.35,307.33L598.4,307.13L598.45,306.94L598.49,306.74L598.54,306.54L598.58,306.35L598.63,306.16L598.68,305.96L598.72,305.76L598.77,305.57L598.81,305.37L598.86,305.18L598.91,304.99L598.95,304.79L599,304.59L599.04,304.4L599.09,304.4L599.14,304.4L599.18,304.4L599.23,304.4L599.27,304.4L599.32,304.4L599.37,304.4L599.41,304.4L599.46,304.4L599.5,304.4L599.55,304.4L599.6,304.4L599.64,304.4L599.69,304.4L599.73,304.4L599.78,304.4L599.82,304.4L599.87,304.4L599.92,304.4L599.96,304.4L600.01,304.4L600.05,304.4L600.1,304.4L600.15,304.4L600.19,304.4L600.24,304.4L600.28,304.4L600.33,304.4L600.38,304.4L600.42,304.4L600.47,304.4L600.51,304.4L600.56,304.4L600.61,304.4L600.65,304.4L600.7,304.4L600.74,304.4L600.79,304.4L600.84,304.4L600.88,304.4L600.93,304.4L600.97,304.4L601.02,304.4L601.07,304.4L601.11,304.4L601.16,304.4L601.2,304.4L601.25,304.4L601.29,304.4L601.34,304.4L601.39,304.4L601.43,304.4L601.48,304.4L601.52,304.4L601.57,304.4L601.62,304.4L601.66,306.35L601.71,308.3L601.75,310.25L601.8,312.2L601.85,314.15L601.89,316.1L601.94,318.05L601.98,320L602.03,323.9L602.08,327.8L602.12,331.7L602.17,335.6L602.21,339.5L602.26,343.4L602.31,347.3L602.35,351.2L602.4,351.2L602.44,351.2L602.49,351.2L602.54,351.2L602.58,351.2L602.63,351.2L602.67,351.2L602.72,351.2L602.76,351.2L602.81,351.2L602.86,351.2L602.9,351.2L602.95,351.2L602.99,351.2L603.04,351.2L603.09,351.2L603.13,351.2L603.18,351.2L603.22,351.2L603.27,351.2L603.32,351.2L603.36,351.2L603.41,351.2L603.45,351.2L603.5,351.2L603.55,351.2L603.59,351.2L603.64,351.2L603.68,350.73L603.73,350.26L603.78,349.8L603.82,349.33L603.87,348.86L603.91,348.39L603.96,347.92L604.01,347.46L604.05,346.99L604.1,346.52L604.14,345.48L604.19,344.44L604.23,343.4L604.28,342.36L604.33,341.32L604.37,340.28L604.42,339.5L604.46,338.72L604.51,337.94L604.56,337.16L604.6,336.38L604.65,335.6L604.69,334.82L604.74,334.04L604.79,333.73L604.83,333.42L604.88,333.1L604.92,332.79L604.97,332.48L605.02,332.17L605.06,331.86L605.11,331.54L605.15,331.23L605.2,330.92L605.25,330.61L605.29,330.3L605.34,330.18L605.38,330.07L605.43,329.96L605.48,329.85L605.52,329.74L605.57,329.63L605.61,329.52L605.66,329.4L605.7,329.29L605.75,329.18L605.8,329.07L605.84,328.96L605.89,328.85L605.93,328.74L605.98,328.7L606.03,328.66L606.07,328.62L606.12,328.58L606.16,328.54L606.21,328.5L606.26,328.46L606.3,328.42L606.35,328.38L606.39,328.35L606.44,328.31L606.49,328.27L606.53,328.23L606.58,328.19L606.62,328.15L606.67,328.11L606.72,328.1L606.76,328.09L606.81,328.07L606.85,328.06L606.9,328.05L606.95,328.03L606.99,328.02L607.04,328.01L607.08,327.99L607.13,327.98L607.17,327.97L607.22,327.96L607.27,327.94L607.31,327.93L607.36,327.92L607.4,327.9L607.45,327.89L607.5,327.88L607.54,327.86L607.59,327.85L607.63,327.84L607.68,327.83L607.73,327.81L607.77,327.8L607.82,327.8L607.86,327.8L607.91,327.8L607.96,327.8L608,327.8L608.05,327.8L608.09,327.8L608.14,327.8L608.19,327.8L608.23,327.8L608.28,327.8L608.32,327.8L608.37,327.8L608.42,327.8L608.46,327.8L608.51,327.8L608.55,327.8L608.6,327.8L608.64,327.8L608.69,327.8L608.74,327.8L608.78,327.8L608.83,327.8L608.87,327.8L608.92,327.8L608.97,327.8L609.01,327.8L609.06,327.8L609.1,327.8L609.15,327.8L609.2,327.8L609.24,327.8L609.29,327.8L609.33,327.8L609.38,327.8L609.43,327.8L609.47,327.8L609.52,327.8L609.56,327.8L609.61,327.8L609.66,327.8L609.7,327.8L609.75,327.8L609.79,327.8L609.84,327.8L609.89,327.8L609.93,327.8L609.98,327.8L610.02,327.8L610.07,327.8L610.11,327.8L610.16,327.8L610.21,327.8L610.25,327.8L610.3,327.8L610.34,327.8L610.39,327.8L610.44,327.8L610.48,327.8L610.53,327.8L610.57,327.8L610.62,327.8L610.67,327.8L610.71,327.8L610.76,327.8L610.8,327.8L610.85,327.8L610.9,327.8L610.94,327.8L610.99,327.8L611.03,327.8L611.08,327.8L611.13,327.8L611.17,327.8L611.22,327.8L611.26,327.8L611.31,327.8L611.36,327.8L611.4,327.8L611.45,327.8L611.49,327.8L611.54,327.8L611.58,327.8L611.63,327.8L611.68,327.8L611.72,327.8L611.77,327.8L611.81,327.8L611.86,327.8L611.91,327.8L611.95,327.8L612,327.8L612.04,327.8L612.09,327.8L612.14,327.8L612.18,327.8L612.23,327.8L612.27,327.8L612.32,327.8L612.37,327.8L612.41,327.8L612.46,327.8L612.5,327.8L612.55,327.8L612.6,327.8L612.64,327.8L612.69,327.8L612.73,327.8L612.78,327.8L612.83,327.8L612.87,327.8L612.92,327.8L612.96,327.8L613.01,327.8L613.05,327.8L613.1,327.8L613.15,327.8L613.19,327.8L613.24,327.8L613.28,327.8L613.33,327.8L613.38,327.8L613.42,327.8L613.47,327.8L613.51,327.8L613.56,327.8L613.61,327.8L613.65,327.8L613.7,327.8L613.74,327.8L613.79,327.8L613.84,327.8L613.88,327.8L613.93,327.8L613.97,327.8L614.02,327.8L614.07,327.8L614.11,327.8L614.16,327.8L614.2,327.8L614.25,327.8L614.29,327.8L614.34,327.8L614.39,327.8L614.43,327.8L614.48,327.8L614.52,327.8L614.57,327.8L614.62,327.8L614.66,327.8L614.71,327.8L614.75,327.8L614.8,327.8L614.85,327.8L614.89,327.8L614.94,327.8L614.98,327.8L615.03,327.8L615.08,327.8L615.12,327.8L615.17,327.8L615.21,327.8L615.26,327.8L615.31,327.8L615.35,327.8L615.4,327.8L615.44,327.8L615.49,327.8L615.54,327.8L615.58,327.8L615.63,327.8L615.67,327.8L615.72,327.8L615.76,327.8L615.81,327.8L615.86,327.8L615.9,327.8L615.95,327.8L615.99,327.8L616.04,327.8L616.09,327.8L616.13,327.8L616.18,327.8L616.22,327.8L616.27,327.8L616.32,327.8L616.36,327.8L616.41,327.8L616.45,327.8L616.5,327.8L616.55,327.8L616.59,327.8L616.64,327.8L616.68,327.8L616.73,327.8L616.78,327.8L616.82,327.8L616.87,327.8L616.91,327.8L616.96,327.8L617.01,327.8L617.05,327.8L617.1,327.8L617.14,327.8L617.19,327.8L617.24,327.8L617.28,327.8L617.33,327.8L617.37,327.8L617.42,327.8L617.46,327.8L617.51,327.8L617.56,327.8L617.6,327.8L617.65,327.8L617.69,327.8L617.74,327.8L617.79,327.8L617.83,327.8L617.88,327.8L617.92,327.8L617.97,327.8L618.02,327.8L618.06,327.8L618.11,327.8L618.15,327.8L618.2,327.8L618.25,327.8L618.29,327.8L618.34,327.8L618.38,327.8L618.43,327.8L618.48,327.8L618.52,327.8L618.57,327.8L618.61,327.8L618.66,327.8L618.71,327.8L618.75,327.8L618.8,327.8L618.84,327.8L618.89,327.8L618.93,327.8L618.98,327.8L619.03,327.8L619.07,327.8L619.12,327.8L619.16,327.8L619.21,327.8L619.26,327.8L619.3,327.8L619.35,327.8L619.39,327.8L619.44,327.8L619.49,327.8L619.53,327.8L619.58,327.8L619.62,327.8L619.67,327.8L619.72,327.8L619.76,327.8L619.81,327.8L619.85,327.8L619.9,327.8L619.95,327.8L619.99,327.8L620.04,327.8L620.08,327.8L620.13,327.8L620.18,327.8L620.22,327.8L620.27,327.8L620.31,327.8L620.36,327.8L620.4,327.8L620.45,327.8L620.5,327.8L620.54,327.8L620.59,327.8L620.63,327.8L620.68,327.8L620.73,327.8L620.77,327.8L620.82,327.8L620.86,327.8L620.91,327.8L620.96,327.8L621,327.8L621.05,327.8L621.09,327.8L621.14,327.8L621.19,327.8L621.23,327.8L621.28,327.8L621.32,327.8L621.37,327.8L621.42,327.8L621.46,327.8L621.51,327.8L621.55,327.8L621.6,327.8L621.64,327.8L621.69,327.8L621.74,327.8L621.78,327.8L621.83,327.8L621.87,327.8L621.92,327.8L621.97,327.8L622.01,327.8L622.06,327.8L622.1,327.8L622.15,327.8L622.2,327.8L622.24,327.8L622.29,327.8L622.33,327.8L622.38,327.8L622.43,327.8L622.47,327.8L622.52,327.8L622.56,327.8L622.61,327.8L622.66,327.8L622.7,327.8L622.75,327.8L622.79,327.8L622.84,327.8L622.89,327.8L622.93,327.8L622.98,327.8L623.02,327.8L623.07,327.8L623.12,327.8L623.16,327.8L623.21,327.8L623.25,327.8L623.3,327.8L623.34,327.8L623.39,327.8L623.44,327.8L623.48,327.8L623.53,327.8L623.57,327.8L623.62,327.8L623.67,327.8L623.71,327.8L623.76,327.8L623.8,327.8L623.85,327.8L623.9,327.8L623.94,327.8L623.99,327.8L624.03,327.8L624.08,327.8L624.13,327.8L624.17,327.8L624.22,327.8L624.26,327.8L624.31,327.8L624.36,327.8L624.4,327.8L624.45,327.8L624.49,327.8L624.54,327.8L624.59,327.8L624.63,327.8L624.68,327.8L624.72,327.8L624.77,327.8L624.81,327.8L624.86,327.8L624.91,327.8L624.95,327.8L625,327.8L625.04,327.8L625.09,327.8L625.14,327.8L625.18,327.8L625.23,327.8L625.27,327.8L625.32,327.8L625.37,327.8L625.41,327.8L625.46,327.8L625.5,327.8L625.55,327.8L625.6,327.8L625.64,327.8L625.69,327.8L625.73,327.8L625.78,327.8L625.83,327.8L625.87,327.8L625.92,327.8L625.96,327.8L626.01,327.8L626.06,327.8L626.1,327.8L626.15,327.8L626.19,327.8L626.24,327.8L626.28,327.8L626.33,327.8L626.38,327.8L626.42,327.8L626.47,327.8L626.51,327.8L626.56,327.8L626.61,327.8L626.65,327.8L626.7,327.8L626.74,327.8L626.79,327.8L626.84,327.8L626.88,327.8L626.93,327.8L626.97,327.8L627.02,327.8L627.07,327.8L627.11,327.8L627.16,327.8L627.2,327.8L627.25,327.8L627.3,327.8L627.34,327.8L627.39,327.8L627.43,327.8L627.48,327.8L627.53,327.8L627.57,327.8L627.62,327.8L627.66,327.8L627.71,327.8L627.75,327.8L627.8,327.8L627.85,327.8L627.89,327.8L627.94,327.8L627.98,327.8L628.03,327.8L628.08,327.8L628.12,327.8L628.17,327.8L628.21,327.8L628.26,327.8L628.31,327.8L628.35,327.8L628.4,327.8L628.44,327.8L628.49,327.8L628.54,327.8L628.58,327.8L628.63,327.8L628.67,327.8L628.72,327.8L628.77,327.8L628.81,327.8L628.86,327.8L628.9,327.8L628.95,327.8L629,327.8L629.04,327.8L629.09,327.8L629.13,327.8L629.18,327.8L629.22,327.8L629.27,327.8L629.32,327.8L629.36,327.8L629.41,327.8L629.45,327.8L629.5,327.8L629.55,327.8L629.59,327.8L629.64,327.8L629.68,327.8L629.73,327.8L629.78,327.8L629.82,327.8L629.87,327.8L629.91,327.8L629.96,327.8L630.01,327.8L630.05,327.8L630.1,327.8L630.14,327.8L630.19,327.8L630.24,327.8L630.28,327.8L630.33,327.8L630.37,327.8L630.42,327.8L630.47,327.8L630.51,327.8L630.56,327.8L630.6,327.8L630.65,327.8L630.69,327.8L630.74,327.8L630.79,327.8L630.83,327.8L630.88,327.8L630.92,327.8L630.97,327.8L631.02,327.8L631.06,327.8L631.11,327.8L631.15,327.8L631.2,327.8" stroke="#ff0000" stroke-width="1.3" fill="none" stroke-linejoin="round" clip-path="url(#ci1)"/>
<rect x="594.45" y="312.2" width="36.75" height="31.2" fill="none" stroke="#7a7a7a" stroke-width="0.9"/>
<text x="592.15" y="314.5" text-anchor="end" class="it">1</text>
<text x="592.15" y="330.1" text-anchor="end" class="it">0</text>
<text x="592.15" y="345.7" text-anchor="end" class="it">-1</text>
<text x="594.45" y="352.4" text-anchor="middle" class="it">6.2</text>
<text x="612.83" y="352.4" text-anchor="middle" class="it">6.4</text>
<text x="631.2" y="352.4" text-anchor="middle" class="it">6.6</text>
<rect x="476.5" y="497.6" width="37.3" height="30.9" fill="#fff"/>
<path d="M487.16,497.6V528.5M476.5,513.05H513.8" stroke="#ebebeb" stroke-width="0.6" fill="none"/>
<clipPath id="ci2"><rect x="476.5" y="497.6" width="37.3" height="30.9"/></clipPath>
<path d="M476.5,489.88L476.55,489.88L476.61,489.88L476.66,489.88L476.71,489.88L476.77,489.88L476.82,489.88L476.87,489.88L476.93,489.88L476.98,489.88L477.03,489.88L477.09,489.88L477.14,489.88L477.19,489.88L477.25,489.88L477.3,489.88L477.35,489.88L477.41,489.88L477.46,489.88L477.51,489.88L477.57,489.88L477.62,489.88L477.67,489.88L477.73,489.88L477.78,489.88L477.83,489.88L477.89,489.88L477.94,489.88L477.99,489.88L478.05,489.88L478.1,489.88L478.15,489.88L478.21,489.88L478.26,489.88L478.31,489.88L478.37,489.88L478.42,494.4L478.47,504.08L478.52,513.05L478.58,520.42L478.63,527.97L478.68,533.85L478.74,536.23L478.79,536.23L478.84,536.23L478.9,536.23L478.95,536.23L479,536.23L479.06,536.23L479.11,536.23L479.16,536.23L479.22,536.23L479.27,536.23L479.32,536.23L479.38,536.23L479.43,536.23L479.48,536.23L479.54,536.23L479.59,536.23L479.64,536.23L479.7,536.23L479.75,536.23L479.8,536.23L479.86,536.23L479.91,536.23L479.96,536.23L480.02,536.23L480.07,536.23L480.12,536.23L480.18,536.23L480.23,536.23L480.28,536.23L480.34,536.23L480.39,536.23L480.44,536.23L480.5,536.23L480.55,536.23L480.6,536.23L480.66,536.23L480.71,536.23L480.76,536.23L480.82,536.23L480.87,536.23L480.92,536.23L480.98,536.23L481.03,536.23L481.08,536.23L481.14,536.23L481.19,536.23L481.24,536.23L481.3,536.23L481.35,536.23L481.4,536.23L481.46,536.23L481.51,536.23L481.56,536.23L481.62,536.23L481.67,536.23L481.72,536.23L481.78,536.23L481.83,536.23L481.88,536.23L481.94,536.23L481.99,536.23L482.04,536.23L482.09,536.23L482.15,536.23L482.2,536.23L482.25,536.23L482.31,536.23L482.36,536.23L482.41,536.23L482.47,536.23L482.52,536.23L482.57,536.23L482.63,536.23L482.68,536.23L482.73,536.23L482.79,536.23L482.84,536.23L482.89,536.23L482.95,536.23L483,536.23L483.05,536.23L483.11,536.23L483.16,536.23L483.21,536.23L483.27,536.23L483.32,536.23L483.37,536.23L483.43,536.23L483.48,536.23L483.53,536.23L483.59,536.23L483.64,536.23L483.69,536.23L483.75,536.23L483.8,536.23L483.85,536.23L483.91,536.23L483.96,536.23L484.01,536.23L484.07,536.23L484.12,536.23L484.17,536.23L484.23,536.23L484.28,536.23L484.33,536.23L484.39,536.23L484.44,536.23L484.49,536.23L484.55,536.23L484.6,536.23L484.65,536.23L484.71,536.23L484.76,536.23L484.81,536.23L484.87,536.23L484.92,536.23L484.97,536.23L485.03,536.23L485.08,536.23L485.13,536.23L485.19,536.23L485.24,536.23L485.29,536.23L485.35,536.23L485.4,536.23L485.45,536.23L485.51,536.23L485.56,536.23L485.61,536.23L485.67,536.23L485.72,536.23L485.77,536.23L485.82,536.23L485.88,536.23L485.93,536.23L485.98,536.23L486.04,536.23L486.09,536.23L486.14,535.95L486.2,535.22L486.25,534.13L486.3,532.8L486.36,531.34L486.41,529.87L486.46,528.5L486.52,527.08L486.57,525.43L486.62,523.66L486.68,521.85L486.73,520.1L486.78,518.51L486.84,517.16L486.89,516.14L486.94,515.35L487,514.61L487.05,513.93L487.1,513.3L487.16,512.73L487.21,512.21L487.26,511.75L487.32,511.35L487.37,511.01L487.42,510.73L487.48,510.49L487.53,510.26L487.58,510.05L487.64,509.85L487.69,509.66L487.74,509.48L487.8,509.32L487.85,509.17L487.9,509.03L487.96,508.9L488.01,508.78L488.06,508.68L488.12,508.58L488.17,508.49L488.22,508.42L488.28,508.34L488.33,508.27L488.38,508.2L488.44,508.13L488.49,508.06L488.54,508L488.6,507.94L488.65,507.88L488.7,507.82L488.76,507.77L488.81,507.72L488.86,507.67L488.92,507.63L488.97,507.6L489.02,507.56L489.08,507.54L489.13,507.52L489.18,507.5L489.24,507.49L489.29,507.49L489.34,507.49L489.4,507.5L489.45,507.51L489.5,507.53L489.56,507.55L489.61,507.58L489.66,507.6L489.71,507.64L489.77,507.67L489.82,507.71L489.87,507.74L489.93,507.78L489.98,507.82L490.03,507.87L490.09,507.91L490.14,507.95L490.19,507.99L490.25,508.03L490.3,508.07L490.35,508.11L490.41,508.14L490.46,508.18L490.51,508.22L490.57,508.26L490.62,508.3L490.67,508.35L490.73,508.39L490.78,508.44L490.83,508.48L490.89,508.53L490.94,508.58L490.99,508.63L491.05,508.67L491.1,508.72L491.15,508.77L491.21,508.82L491.26,508.87L491.31,508.93L491.37,508.98L491.42,509.03L491.47,509.08L491.53,509.13L491.58,509.18L491.63,509.23L491.69,509.28L491.74,509.33L491.79,509.38L491.85,509.43L491.9,509.48L491.95,509.53L492.01,509.58L492.06,509.62L492.11,509.67L492.17,509.71L492.22,509.76L492.27,509.8L492.33,509.84L492.38,509.88L492.43,509.92L492.49,509.96L492.54,510L492.59,510.03L492.65,510.07L492.7,510.11L492.75,510.15L492.81,510.18L492.86,510.22L492.91,510.25L492.97,510.29L493.02,510.33L493.07,510.36L493.13,510.4L493.18,510.43L493.23,510.47L493.28,510.5L493.34,510.54L493.39,510.57L493.44,510.61L493.5,510.64L493.55,510.67L493.6,510.71L493.66,510.74L493.71,510.77L493.76,510.81L493.82,510.84L493.87,510.87L493.92,510.9L493.98,510.93L494.03,510.96L494.08,510.99L494.14,511.02L494.19,511.05L494.24,511.08L494.3,511.11L494.35,511.14L494.4,511.17L494.46,511.19L494.51,511.22L494.56,511.25L494.62,511.27L494.67,511.3L494.72,511.32L494.78,511.35L494.83,511.37L494.88,511.4L494.94,511.42L494.99,511.44L495.04,511.46L495.1,511.48L495.15,511.5L495.2,511.53L495.26,511.55L495.31,511.57L495.36,511.59L495.42,511.61L495.47,511.63L495.52,511.65L495.58,511.66L495.63,511.68L495.68,511.7L495.74,511.72L495.79,511.74L495.84,511.76L495.9,511.78L495.95,511.79L496,511.81L496.06,511.83L496.11,511.85L496.16,511.86L496.22,511.88L496.27,511.9L496.32,511.91L496.38,511.93L496.43,511.95L496.48,511.96L496.54,511.98L496.59,511.99L496.64,512.01L496.7,512.02L496.75,512.04L496.8,512.05L496.86,512.07L496.91,512.08L496.96,512.09L497.01,512.11L497.07,512.12L497.12,512.13L497.17,512.15L497.23,512.16L497.28,512.17L497.33,512.18L497.39,512.19L497.44,512.21L497.49,512.22L497.55,512.23L497.6,512.24L497.65,512.25L497.71,512.26L497.76,512.27L497.81,512.28L497.87,512.29L497.92,512.3L497.97,512.31L498.03,512.31L498.08,512.32L498.13,512.33L498.19,512.34L498.24,512.35L498.29,512.36L498.35,512.37L498.4,512.38L498.45,512.39L498.51,512.39L498.56,512.4L498.61,512.41L498.67,512.42L498.72,512.43L498.77,512.44L498.83,512.44L498.88,512.45L498.93,512.46L498.99,512.47L499.04,512.48L499.09,512.48L499.15,512.49L499.2,512.5L499.25,512.51L499.31,512.52L499.36,512.52L499.41,512.53L499.47,512.54L499.52,512.55L499.57,512.55L499.63,512.56L499.68,512.57L499.73,512.58L499.79,512.58L499.84,512.59L499.89,512.6L499.95,512.6L500,512.61L500.05,512.62L500.11,512.63L500.16,512.63L500.21,512.64L500.27,512.65L500.32,512.65L500.37,512.66L500.43,512.67L500.48,512.67L500.53,512.68L500.59,512.68L500.64,512.69L500.69,512.7L500.74,512.7L500.8,512.71L500.85,512.71L500.9,512.72L500.96,512.73L501.01,512.73L501.06,512.74L501.12,512.74L501.17,512.75L501.22,512.75L501.28,512.76L501.33,512.76L501.38,512.77L501.44,512.77L501.49,512.78L501.54,512.78L501.6,512.79L501.65,512.79L501.7,512.8L501.76,512.8L501.81,512.81L501.86,512.81L501.92,512.82L501.97,512.82L502.02,512.83L502.08,512.83L502.13,512.83L502.18,512.84L502.24,512.84L502.29,512.85L502.34,512.85L502.4,512.85L502.45,512.86L502.5,512.86L502.56,512.86L502.61,512.87L502.66,512.87L502.72,512.87L502.77,512.88L502.82,512.88L502.88,512.88L502.93,512.88L502.98,512.89L503.04,512.89L503.09,512.89L503.14,512.9L503.2,512.9L503.25,512.9L503.3,512.9L503.36,512.91L503.41,512.91L503.46,512.91L503.52,512.91L503.57,512.92L503.62,512.92L503.68,512.92L503.73,512.92L503.78,512.92L503.84,512.93L503.89,512.93L503.94,512.93L504,512.93L504.05,512.94L504.1,512.94L504.16,512.94L504.21,512.94L504.26,512.95L504.32,512.95L504.37,512.95L504.42,512.95L504.47,512.95L504.53,512.96L504.58,512.96L504.63,512.96L504.69,512.96L504.74,512.97L504.79,512.97L504.85,512.97L504.9,512.97L504.95,512.97L505.01,512.98L505.06,512.98L505.11,512.98L505.17,512.98L505.22,512.98L505.27,512.99L505.33,512.99L505.38,512.99L505.43,512.99L505.49,512.99L505.54,512.99L505.59,513L505.65,513L505.7,513L505.75,513L505.81,513L505.86,513.01L505.91,513.01L505.97,513.01L506.02,513.01L506.07,513.01L506.13,513.01L506.18,513.01L506.23,513.02L506.29,513.02L506.34,513.02L506.39,513.02L506.45,513.02L506.5,513.02L506.55,513.02L506.61,513.03L506.66,513.03L506.71,513.03L506.77,513.03L506.82,513.03L506.87,513.03L506.93,513.03L506.98,513.03L507.03,513.04L507.09,513.04L507.14,513.04L507.19,513.04L507.25,513.04L507.3,513.04L507.35,513.04L507.41,513.04L507.46,513.04L507.51,513.04L507.57,513.04L507.62,513.04L507.67,513.05L507.73,513.05L507.78,513.05L507.83,513.05L507.89,513.05L507.94,513.05L507.99,513.05L508.05,513.05L508.1,513.05L508.15,513.05L508.2,513.05L508.26,513.05L508.31,513.05L508.36,513.05L508.42,513.05L508.47,513.05L508.52,513.05L508.58,513.05L508.63,513.05L508.68,513.05L508.74,513.05L508.79,513.05L508.84,513.05L508.9,513.05L508.95,513.05L509,513.05L509.06,513.05L509.11,513.05L509.16,513.05L509.22,513.05L509.27,513.05L509.32,513.05L509.38,513.05L509.43,513.05L509.48,513.05L509.54,513.05L509.59,513.05L509.64,513.05L509.7,513.05L509.75,513.05L509.8,513.05L509.86,513.05L509.91,513.05L509.96,513.05L510.02,513.05L510.07,513.05L510.12,513.05L510.18,513.05L510.23,513.05L510.28,513.05L510.34,513.05L510.39,513.05L510.44,513.05L510.5,513.05L510.55,513.05L510.6,513.05L510.66,513.05L510.71,513.05L510.76,513.05L510.82,513.05L510.87,513.05L510.92,513.05L510.98,513.05L511.03,513.05L511.08,513.05L511.14,513.05L511.19,513.05L511.24,513.05L511.3,513.05L511.35,513.05L511.4,513.05L511.46,513.05L511.51,513.05L511.56,513.05L511.62,513.05L511.67,513.05L511.72,513.05L511.78,513.05L511.83,513.05L511.88,513.05L511.93,513.05L511.99,513.05L512.04,513.05L512.09,513.05L512.15,513.05L512.2,513.05L512.25,513.05L512.31,513.05L512.36,513.05L512.41,513.05L512.47,513.05L512.52,513.05L512.57,513.05L512.63,513.05L512.68,513.05L512.73,513.05L512.79,513.05L512.84,513.05L512.89,513.05L512.95,513.05L513,513.05L513.05,513.05L513.11,513.05L513.16,513.05L513.21,513.05L513.27,513.05L513.32,513.05L513.37,513.05L513.43,513.05L513.48,513.05L513.53,513.05L513.59,513.05L513.64,513.05L513.69,513.05L513.75,513.05L513.8,513.05" stroke="#edb120" stroke-width="1.3" fill="none" stroke-linejoin="round" clip-path="url(#ci2)"/>
<rect x="476.5" y="497.6" width="37.3" height="30.9" fill="none" stroke="#7a7a7a" stroke-width="0.9"/>
<text x="474.2" y="499.9" text-anchor="end" class="it">1</text>
<text x="474.2" y="515.35" text-anchor="end" class="it">0</text>
<text x="474.2" y="530.8" text-anchor="end" class="it">-1</text>
<text x="487.16" y="537.5" text-anchor="middle" class="it">2.5</text>
<text x="513.8" y="537.5" text-anchor="middle" class="it">3</text>
</svg></body></html>
